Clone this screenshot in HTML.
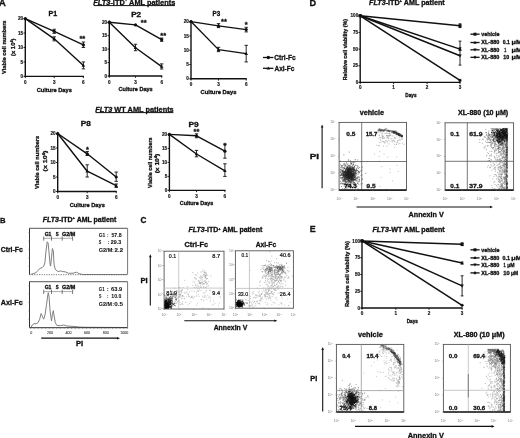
<!DOCTYPE html>
<html><head><meta charset="utf-8"><style>
html,body{margin:0;padding:0;background:#fff;overflow:hidden;}
svg{display:block;font-family:"Liberation Sans",sans-serif;font-weight:bold;filter:blur(0.3px);}
</style></head><body>
<svg width="520" height="438" viewBox="0 0 520 438" xmlns="http://www.w3.org/2000/svg">
<rect x="0" y="0" width="520" height="438" fill="#fff"/>
<text x="-1.15" y="5.60" font-size="9.0" fill="#111" stroke="#111" stroke-width="0.3" textLength="7.11" lengthAdjust="spacingAndGlyphs">A</text>
<text x="-0.00" y="223.00" font-size="7.8" fill="#111" stroke="#111" stroke-width="0.3" textLength="5.56" lengthAdjust="spacingAndGlyphs">B</text>
<text x="140.47" y="222.80" font-size="8.4" fill="#111" stroke="#111" stroke-width="0.3" textLength="5.95" lengthAdjust="spacingAndGlyphs">C</text>
<text x="309.41" y="6.00" font-size="9.0" fill="#111" stroke="#111" stroke-width="0.3" textLength="6.58" lengthAdjust="spacingAndGlyphs">D</text>
<text x="309.82" y="231.80" font-size="8.6" fill="#111" stroke="#111" stroke-width="0.3" textLength="5.90" lengthAdjust="spacingAndGlyphs">E</text>
<text x="93.33" y="4.60" font-size="7.6" fill="#111" stroke="#111" stroke-width="0.3" textLength="81.98" lengthAdjust="spacingAndGlyphs"><tspan font-style="italic">FLT3</tspan>-ITD<tspan font-size="4.56" dy="-3.19">+</tspan><tspan dy="3.19"> AML patients</tspan></text>
<line x1="93.80" y1="5.60" x2="175.00" y2="5.60" stroke="#111" stroke-width="1.0"/>
<text x="95.22" y="111.60" font-size="7.6" fill="#111" stroke="#111" stroke-width="0.3" textLength="78.49" lengthAdjust="spacingAndGlyphs"><tspan font-style="italic">FLT3</tspan> WT AML patients</text>
<line x1="95.70" y1="112.60" x2="173.40" y2="112.60" stroke="#111" stroke-width="1.0"/>
<text x="48.54" y="16.00" font-size="6.8" fill="#111" stroke="#111" stroke-width="0.3" textLength="8.66" lengthAdjust="spacingAndGlyphs">P1</text>
<text x="131.17" y="16.50" font-size="6.8" fill="#111" stroke="#111" stroke-width="0.3" textLength="9.98" lengthAdjust="spacingAndGlyphs">P2</text>
<text x="212.59" y="15.90" font-size="6.4" fill="#111" stroke="#111" stroke-width="0.3" textLength="7.65" lengthAdjust="spacingAndGlyphs">P3</text>
<text x="80.87" y="125.70" font-size="6.8" fill="#111" stroke="#111" stroke-width="0.3" textLength="10.00" lengthAdjust="spacingAndGlyphs">P8</text>
<text x="188.46" y="127.00" font-size="6.8" fill="#111" stroke="#111" stroke-width="0.3" textLength="10.16" lengthAdjust="spacingAndGlyphs">P9</text>
<line x1="25.30" y1="18.00" x2="25.30" y2="77.10" stroke="#111" stroke-width="1.4"/>
<line x1="24.70" y1="76.40" x2="84.00" y2="76.40" stroke="#111" stroke-width="1.4"/>
<line x1="23.50" y1="76.40" x2="25.30" y2="76.40" stroke="#111" stroke-width="0.9"/>
<text x="23.10" y="78.00" font-size="4.6" fill="#111" stroke="#111" stroke-width="0.15" text-anchor="end">0</text>
<line x1="23.50" y1="61.95" x2="25.30" y2="61.95" stroke="#111" stroke-width="0.9"/>
<text x="23.10" y="63.55" font-size="4.6" fill="#111" stroke="#111" stroke-width="0.15" text-anchor="end">5</text>
<line x1="23.50" y1="47.50" x2="25.30" y2="47.50" stroke="#111" stroke-width="0.9"/>
<text x="23.10" y="49.10" font-size="4.6" fill="#111" stroke="#111" stroke-width="0.15" text-anchor="end">10</text>
<line x1="23.50" y1="33.05" x2="25.30" y2="33.05" stroke="#111" stroke-width="0.9"/>
<text x="23.10" y="34.65" font-size="4.6" fill="#111" stroke="#111" stroke-width="0.15" text-anchor="end">15</text>
<line x1="23.50" y1="18.60" x2="25.30" y2="18.60" stroke="#111" stroke-width="0.9"/>
<text x="23.10" y="20.20" font-size="4.6" fill="#111" stroke="#111" stroke-width="0.15" text-anchor="end">20</text>
<line x1="25.30" y1="76.40" x2="25.30" y2="78.20" stroke="#111" stroke-width="0.9"/>
<text x="25.30" y="84.00" font-size="4.6" fill="#111" stroke="#111" stroke-width="0.15" text-anchor="middle">0</text>
<line x1="54.20" y1="76.40" x2="54.20" y2="78.20" stroke="#111" stroke-width="0.9"/>
<text x="54.20" y="84.00" font-size="4.6" fill="#111" stroke="#111" stroke-width="0.15" text-anchor="middle">3</text>
<line x1="83.40" y1="76.40" x2="83.40" y2="78.20" stroke="#111" stroke-width="0.9"/>
<text x="83.40" y="84.00" font-size="4.6" fill="#111" stroke="#111" stroke-width="0.15" text-anchor="middle">6</text>
<polyline points="25.30,18.60 54.20,31.32 83.40,44.90" fill="none" stroke="#111" stroke-width="1.4" stroke-linejoin="round"/>
<circle cx="25.30" cy="18.60" r="1.60" fill="#111"/>
<line x1="54.20" y1="29.29" x2="54.20" y2="33.34" stroke="#111" stroke-width="0.9"/>
<line x1="52.50" y1="29.29" x2="55.90" y2="29.29" stroke="#111" stroke-width="0.9"/>
<line x1="52.50" y1="33.34" x2="55.90" y2="33.34" stroke="#111" stroke-width="0.9"/>
<circle cx="54.20" cy="31.32" r="1.60" fill="#111"/>
<line x1="83.40" y1="42.01" x2="83.40" y2="47.50" stroke="#111" stroke-width="0.9"/>
<line x1="81.70" y1="42.01" x2="85.10" y2="42.01" stroke="#111" stroke-width="0.9"/>
<line x1="81.70" y1="47.50" x2="85.10" y2="47.50" stroke="#111" stroke-width="0.9"/>
<circle cx="83.40" cy="44.90" r="1.60" fill="#111"/>
<polyline points="25.30,18.60 54.20,38.83 83.40,65.42" fill="none" stroke="#111" stroke-width="1.4" stroke-linejoin="round"/>
<path d="M25.30,16.68 L27.06,19.88 L23.54,19.88Z" fill="#111"/>
<line x1="54.20" y1="36.81" x2="54.20" y2="40.85" stroke="#111" stroke-width="0.9"/>
<line x1="52.50" y1="36.81" x2="55.90" y2="36.81" stroke="#111" stroke-width="0.9"/>
<line x1="52.50" y1="40.85" x2="55.90" y2="40.85" stroke="#111" stroke-width="0.9"/>
<path d="M54.20,36.91 L55.96,40.11 L52.44,40.11Z" fill="#111"/>
<line x1="83.40" y1="61.95" x2="83.40" y2="68.89" stroke="#111" stroke-width="0.9"/>
<line x1="81.70" y1="61.95" x2="85.10" y2="61.95" stroke="#111" stroke-width="0.9"/>
<line x1="81.70" y1="68.89" x2="85.10" y2="68.89" stroke="#111" stroke-width="0.9"/>
<path d="M83.40,63.50 L85.16,66.70 L81.64,66.70Z" fill="#111"/>
<text x="82.30" y="41.12" font-size="7.5" fill="#111" stroke="#111" stroke-width="0.3" text-anchor="middle">**</text>
<line x1="109.30" y1="21.60" x2="109.30" y2="76.70" stroke="#111" stroke-width="1.4"/>
<line x1="108.70" y1="76.00" x2="162.30" y2="76.00" stroke="#111" stroke-width="1.4"/>
<line x1="107.50" y1="76.00" x2="109.30" y2="76.00" stroke="#111" stroke-width="0.9"/>
<text x="107.10" y="77.60" font-size="4.6" fill="#111" stroke="#111" stroke-width="0.15" text-anchor="end">0</text>
<line x1="107.50" y1="62.55" x2="109.30" y2="62.55" stroke="#111" stroke-width="0.9"/>
<text x="107.10" y="64.15" font-size="4.6" fill="#111" stroke="#111" stroke-width="0.15" text-anchor="end">5</text>
<line x1="107.50" y1="49.10" x2="109.30" y2="49.10" stroke="#111" stroke-width="0.9"/>
<text x="107.10" y="50.70" font-size="4.6" fill="#111" stroke="#111" stroke-width="0.15" text-anchor="end">10</text>
<line x1="107.50" y1="35.65" x2="109.30" y2="35.65" stroke="#111" stroke-width="0.9"/>
<text x="107.10" y="37.25" font-size="4.6" fill="#111" stroke="#111" stroke-width="0.15" text-anchor="end">15</text>
<line x1="107.50" y1="22.20" x2="109.30" y2="22.20" stroke="#111" stroke-width="0.9"/>
<text x="107.10" y="23.80" font-size="4.6" fill="#111" stroke="#111" stroke-width="0.15" text-anchor="end">20</text>
<line x1="109.30" y1="76.00" x2="109.30" y2="77.80" stroke="#111" stroke-width="0.9"/>
<text x="109.30" y="83.60" font-size="4.6" fill="#111" stroke="#111" stroke-width="0.15" text-anchor="middle">0</text>
<line x1="135.50" y1="76.00" x2="135.50" y2="77.80" stroke="#111" stroke-width="0.9"/>
<text x="135.50" y="83.60" font-size="4.6" fill="#111" stroke="#111" stroke-width="0.15" text-anchor="middle">3</text>
<line x1="161.70" y1="76.00" x2="161.70" y2="77.80" stroke="#111" stroke-width="0.9"/>
<text x="161.70" y="83.60" font-size="4.6" fill="#111" stroke="#111" stroke-width="0.15" text-anchor="middle">6</text>
<polyline points="109.30,22.20 135.50,24.89 161.70,39.69" fill="none" stroke="#111" stroke-width="1.4" stroke-linejoin="round"/>
<circle cx="109.30" cy="22.20" r="1.60" fill="#111"/>
<circle cx="135.50" cy="24.89" r="1.60" fill="#111"/>
<line x1="161.70" y1="38.07" x2="161.70" y2="41.30" stroke="#111" stroke-width="0.9"/>
<line x1="160.00" y1="38.07" x2="163.40" y2="38.07" stroke="#111" stroke-width="0.9"/>
<line x1="160.00" y1="41.30" x2="163.40" y2="41.30" stroke="#111" stroke-width="0.9"/>
<circle cx="161.70" cy="39.69" r="1.60" fill="#111"/>
<polyline points="109.30,22.20 135.50,47.75 161.70,66.59" fill="none" stroke="#111" stroke-width="1.4" stroke-linejoin="round"/>
<path d="M109.30,20.28 L111.06,23.48 L107.54,23.48Z" fill="#111"/>
<line x1="135.50" y1="44.26" x2="135.50" y2="50.71" stroke="#111" stroke-width="0.9"/>
<line x1="133.80" y1="44.26" x2="137.20" y2="44.26" stroke="#111" stroke-width="0.9"/>
<line x1="133.80" y1="50.71" x2="137.20" y2="50.71" stroke="#111" stroke-width="0.9"/>
<path d="M135.50,45.83 L137.26,49.03 L133.74,49.03Z" fill="#111"/>
<line x1="161.70" y1="63.89" x2="161.70" y2="69.01" stroke="#111" stroke-width="0.9"/>
<line x1="160.00" y1="63.89" x2="163.40" y2="63.89" stroke="#111" stroke-width="0.9"/>
<line x1="160.00" y1="69.01" x2="163.40" y2="69.01" stroke="#111" stroke-width="0.9"/>
<path d="M161.70,64.67 L163.46,67.87 L159.94,67.87Z" fill="#111"/>
<text x="143.70" y="24.52" font-size="7.5" fill="#111" stroke="#111" stroke-width="0.3" text-anchor="middle">**</text>
<text x="163.20" y="38.12" font-size="7.5" fill="#111" stroke="#111" stroke-width="0.3" text-anchor="middle">**</text>
<line x1="191.00" y1="21.00" x2="191.00" y2="79.50" stroke="#111" stroke-width="1.4"/>
<line x1="190.40" y1="78.80" x2="246.80" y2="78.80" stroke="#111" stroke-width="1.4"/>
<line x1="189.20" y1="78.80" x2="191.00" y2="78.80" stroke="#111" stroke-width="0.9"/>
<text x="188.80" y="80.40" font-size="4.6" fill="#111" stroke="#111" stroke-width="0.15" text-anchor="end">0</text>
<line x1="189.20" y1="64.50" x2="191.00" y2="64.50" stroke="#111" stroke-width="0.9"/>
<text x="188.80" y="66.10" font-size="4.6" fill="#111" stroke="#111" stroke-width="0.15" text-anchor="end">5</text>
<line x1="189.20" y1="50.20" x2="191.00" y2="50.20" stroke="#111" stroke-width="0.9"/>
<text x="188.80" y="51.80" font-size="4.6" fill="#111" stroke="#111" stroke-width="0.15" text-anchor="end">10</text>
<line x1="189.20" y1="35.90" x2="191.00" y2="35.90" stroke="#111" stroke-width="0.9"/>
<text x="188.80" y="37.50" font-size="4.6" fill="#111" stroke="#111" stroke-width="0.15" text-anchor="end">15</text>
<line x1="189.20" y1="21.60" x2="191.00" y2="21.60" stroke="#111" stroke-width="0.9"/>
<text x="188.80" y="23.20" font-size="4.6" fill="#111" stroke="#111" stroke-width="0.15" text-anchor="end">20</text>
<line x1="191.00" y1="78.80" x2="191.00" y2="80.60" stroke="#111" stroke-width="0.9"/>
<text x="191.00" y="86.40" font-size="4.6" fill="#111" stroke="#111" stroke-width="0.15" text-anchor="middle">0</text>
<line x1="218.50" y1="78.80" x2="218.50" y2="80.60" stroke="#111" stroke-width="0.9"/>
<text x="218.50" y="86.40" font-size="4.6" fill="#111" stroke="#111" stroke-width="0.15" text-anchor="middle">3</text>
<line x1="246.20" y1="78.80" x2="246.20" y2="80.60" stroke="#111" stroke-width="0.9"/>
<text x="246.20" y="86.40" font-size="4.6" fill="#111" stroke="#111" stroke-width="0.15" text-anchor="middle">6</text>
<polyline points="191.00,21.60 218.50,25.89 246.20,29.61" fill="none" stroke="#111" stroke-width="1.4" stroke-linejoin="round"/>
<circle cx="191.00" cy="21.60" r="1.60" fill="#111"/>
<line x1="218.50" y1="23.60" x2="218.50" y2="27.61" stroke="#111" stroke-width="0.9"/>
<line x1="216.80" y1="23.60" x2="220.20" y2="23.60" stroke="#111" stroke-width="0.9"/>
<line x1="216.80" y1="27.61" x2="220.20" y2="27.61" stroke="#111" stroke-width="0.9"/>
<circle cx="218.50" cy="25.89" r="1.60" fill="#111"/>
<line x1="246.20" y1="27.32" x2="246.20" y2="31.90" stroke="#111" stroke-width="0.9"/>
<line x1="244.50" y1="27.32" x2="247.90" y2="27.32" stroke="#111" stroke-width="0.9"/>
<line x1="244.50" y1="31.90" x2="247.90" y2="31.90" stroke="#111" stroke-width="0.9"/>
<circle cx="246.20" cy="29.61" r="1.60" fill="#111"/>
<polyline points="191.00,21.60 218.50,49.63 246.20,53.63" fill="none" stroke="#111" stroke-width="1.4" stroke-linejoin="round"/>
<path d="M191.00,19.68 L192.76,22.88 L189.24,22.88Z" fill="#111"/>
<line x1="218.50" y1="47.34" x2="218.50" y2="51.63" stroke="#111" stroke-width="0.9"/>
<line x1="216.80" y1="47.34" x2="220.20" y2="47.34" stroke="#111" stroke-width="0.9"/>
<line x1="216.80" y1="51.63" x2="220.20" y2="51.63" stroke="#111" stroke-width="0.9"/>
<path d="M218.50,47.71 L220.26,50.91 L216.74,50.91Z" fill="#111"/>
<line x1="246.20" y1="45.34" x2="246.20" y2="61.93" stroke="#111" stroke-width="0.9"/>
<line x1="244.50" y1="45.34" x2="247.90" y2="45.34" stroke="#111" stroke-width="0.9"/>
<line x1="244.50" y1="61.93" x2="247.90" y2="61.93" stroke="#111" stroke-width="0.9"/>
<path d="M246.20,51.71 L247.96,54.91 L244.44,54.91Z" fill="#111"/>
<text x="224.00" y="23.52" font-size="7.5" fill="#111" stroke="#111" stroke-width="0.3" text-anchor="middle">**</text>
<text x="246.20" y="27.02" font-size="7.5" fill="#111" stroke="#111" stroke-width="0.3" text-anchor="middle">*</text>
<line x1="57.70" y1="132.90" x2="57.70" y2="192.20" stroke="#111" stroke-width="1.4"/>
<line x1="57.10" y1="191.50" x2="116.80" y2="191.50" stroke="#111" stroke-width="1.4"/>
<line x1="55.90" y1="191.50" x2="57.70" y2="191.50" stroke="#111" stroke-width="0.9"/>
<text x="55.50" y="193.10" font-size="4.6" fill="#111" stroke="#111" stroke-width="0.15" text-anchor="end">0</text>
<line x1="55.90" y1="177.00" x2="57.70" y2="177.00" stroke="#111" stroke-width="0.9"/>
<text x="55.50" y="178.60" font-size="4.6" fill="#111" stroke="#111" stroke-width="0.15" text-anchor="end">5</text>
<line x1="55.90" y1="162.50" x2="57.70" y2="162.50" stroke="#111" stroke-width="0.9"/>
<text x="55.50" y="164.10" font-size="4.6" fill="#111" stroke="#111" stroke-width="0.15" text-anchor="end">10</text>
<line x1="55.90" y1="148.00" x2="57.70" y2="148.00" stroke="#111" stroke-width="0.9"/>
<text x="55.50" y="149.60" font-size="4.6" fill="#111" stroke="#111" stroke-width="0.15" text-anchor="end">15</text>
<line x1="55.90" y1="133.50" x2="57.70" y2="133.50" stroke="#111" stroke-width="0.9"/>
<text x="55.50" y="135.10" font-size="4.6" fill="#111" stroke="#111" stroke-width="0.15" text-anchor="end">20</text>
<line x1="57.70" y1="191.50" x2="57.70" y2="193.30" stroke="#111" stroke-width="0.9"/>
<text x="57.70" y="199.10" font-size="4.6" fill="#111" stroke="#111" stroke-width="0.15" text-anchor="middle">0</text>
<line x1="87.20" y1="191.50" x2="87.20" y2="193.30" stroke="#111" stroke-width="0.9"/>
<text x="87.20" y="199.10" font-size="4.6" fill="#111" stroke="#111" stroke-width="0.15" text-anchor="middle">3</text>
<line x1="116.20" y1="191.50" x2="116.20" y2="193.30" stroke="#111" stroke-width="0.9"/>
<text x="116.20" y="199.10" font-size="4.6" fill="#111" stroke="#111" stroke-width="0.15" text-anchor="middle">6</text>
<polyline points="57.70,133.50 87.20,153.80 116.20,177.00" fill="none" stroke="#111" stroke-width="1.4" stroke-linejoin="round"/>
<circle cx="57.70" cy="133.50" r="1.60" fill="#111"/>
<line x1="87.20" y1="151.48" x2="87.20" y2="155.54" stroke="#111" stroke-width="0.9"/>
<line x1="85.50" y1="151.48" x2="88.90" y2="151.48" stroke="#111" stroke-width="0.9"/>
<line x1="85.50" y1="155.54" x2="88.90" y2="155.54" stroke="#111" stroke-width="0.9"/>
<circle cx="87.20" cy="153.80" r="1.60" fill="#111"/>
<line x1="116.20" y1="172.07" x2="116.20" y2="181.35" stroke="#111" stroke-width="0.9"/>
<line x1="114.50" y1="172.07" x2="117.90" y2="172.07" stroke="#111" stroke-width="0.9"/>
<line x1="114.50" y1="181.35" x2="117.90" y2="181.35" stroke="#111" stroke-width="0.9"/>
<circle cx="116.20" cy="177.00" r="1.60" fill="#111"/>
<polyline points="57.70,133.50 87.20,171.20 116.20,185.70" fill="none" stroke="#111" stroke-width="1.4" stroke-linejoin="round"/>
<path d="M57.70,131.58 L59.46,134.78 L55.94,134.78Z" fill="#111"/>
<line x1="87.20" y1="164.82" x2="87.20" y2="177.00" stroke="#111" stroke-width="0.9"/>
<line x1="85.50" y1="164.82" x2="88.90" y2="164.82" stroke="#111" stroke-width="0.9"/>
<line x1="85.50" y1="177.00" x2="88.90" y2="177.00" stroke="#111" stroke-width="0.9"/>
<path d="M87.20,169.28 L88.96,172.48 L85.44,172.48Z" fill="#111"/>
<line x1="116.20" y1="183.96" x2="116.20" y2="187.44" stroke="#111" stroke-width="0.9"/>
<line x1="114.50" y1="183.96" x2="117.90" y2="183.96" stroke="#111" stroke-width="0.9"/>
<line x1="114.50" y1="187.44" x2="117.90" y2="187.44" stroke="#111" stroke-width="0.9"/>
<path d="M116.20,183.78 L117.96,186.98 L114.44,186.98Z" fill="#111"/>
<text x="87.50" y="151.52" font-size="7.5" fill="#111" stroke="#111" stroke-width="0.3" text-anchor="middle">*</text>
<line x1="169.40" y1="133.80" x2="169.40" y2="191.10" stroke="#111" stroke-width="1.4"/>
<line x1="168.80" y1="190.40" x2="225.50" y2="190.40" stroke="#111" stroke-width="1.4"/>
<line x1="167.60" y1="190.40" x2="169.40" y2="190.40" stroke="#111" stroke-width="0.9"/>
<text x="167.20" y="192.00" font-size="4.6" fill="#111" stroke="#111" stroke-width="0.15" text-anchor="end">0</text>
<line x1="167.60" y1="176.40" x2="169.40" y2="176.40" stroke="#111" stroke-width="0.9"/>
<text x="167.20" y="178.00" font-size="4.6" fill="#111" stroke="#111" stroke-width="0.15" text-anchor="end">5</text>
<line x1="167.60" y1="162.40" x2="169.40" y2="162.40" stroke="#111" stroke-width="0.9"/>
<text x="167.20" y="164.00" font-size="4.6" fill="#111" stroke="#111" stroke-width="0.15" text-anchor="end">10</text>
<line x1="167.60" y1="148.40" x2="169.40" y2="148.40" stroke="#111" stroke-width="0.9"/>
<text x="167.20" y="150.00" font-size="4.6" fill="#111" stroke="#111" stroke-width="0.15" text-anchor="end">15</text>
<line x1="167.60" y1="134.40" x2="169.40" y2="134.40" stroke="#111" stroke-width="0.9"/>
<text x="167.20" y="136.00" font-size="4.6" fill="#111" stroke="#111" stroke-width="0.15" text-anchor="end">20</text>
<line x1="169.40" y1="190.40" x2="169.40" y2="192.20" stroke="#111" stroke-width="0.9"/>
<text x="169.40" y="198.00" font-size="4.6" fill="#111" stroke="#111" stroke-width="0.15" text-anchor="middle">0</text>
<line x1="196.50" y1="190.40" x2="196.50" y2="192.20" stroke="#111" stroke-width="0.9"/>
<text x="196.50" y="198.00" font-size="4.6" fill="#111" stroke="#111" stroke-width="0.15" text-anchor="middle">3</text>
<line x1="224.90" y1="190.40" x2="224.90" y2="192.20" stroke="#111" stroke-width="0.9"/>
<text x="224.90" y="198.00" font-size="4.6" fill="#111" stroke="#111" stroke-width="0.15" text-anchor="middle">6</text>
<polyline points="169.40,134.40 196.50,135.80 224.90,151.20" fill="none" stroke="#111" stroke-width="1.4" stroke-linejoin="round"/>
<circle cx="169.40" cy="134.40" r="1.60" fill="#111"/>
<line x1="196.50" y1="133.84" x2="196.50" y2="137.76" stroke="#111" stroke-width="0.9"/>
<line x1="194.80" y1="133.84" x2="198.20" y2="133.84" stroke="#111" stroke-width="0.9"/>
<line x1="194.80" y1="137.76" x2="198.20" y2="137.76" stroke="#111" stroke-width="0.9"/>
<circle cx="196.50" cy="135.80" r="1.60" fill="#111"/>
<line x1="224.90" y1="144.20" x2="224.90" y2="158.20" stroke="#111" stroke-width="0.9"/>
<line x1="223.20" y1="144.20" x2="226.60" y2="144.20" stroke="#111" stroke-width="0.9"/>
<line x1="223.20" y1="158.20" x2="226.60" y2="158.20" stroke="#111" stroke-width="0.9"/>
<circle cx="224.90" cy="151.20" r="1.60" fill="#111"/>
<polyline points="169.40,134.40 196.50,154.00 224.90,170.80" fill="none" stroke="#111" stroke-width="1.4" stroke-linejoin="round"/>
<path d="M169.40,132.48 L171.16,135.68 L167.64,135.68Z" fill="#111"/>
<line x1="196.50" y1="150.36" x2="196.50" y2="156.80" stroke="#111" stroke-width="0.9"/>
<line x1="194.80" y1="150.36" x2="198.20" y2="150.36" stroke="#111" stroke-width="0.9"/>
<line x1="194.80" y1="156.80" x2="198.20" y2="156.80" stroke="#111" stroke-width="0.9"/>
<path d="M196.50,152.08 L198.26,155.28 L194.74,155.28Z" fill="#111"/>
<line x1="224.90" y1="163.80" x2="224.90" y2="176.40" stroke="#111" stroke-width="0.9"/>
<line x1="223.20" y1="163.80" x2="226.60" y2="163.80" stroke="#111" stroke-width="0.9"/>
<line x1="223.20" y1="176.40" x2="226.60" y2="176.40" stroke="#111" stroke-width="0.9"/>
<path d="M224.90,168.88 L226.66,172.08 L223.14,172.08Z" fill="#111"/>
<text x="196.50" y="133.82" font-size="7.5" fill="#111" stroke="#111" stroke-width="0.3" text-anchor="middle">**</text>
<text x="225.00" y="147.82" font-size="7.5" fill="#111" stroke="#111" stroke-width="0.3" text-anchor="middle">*</text>
<text x="36.67" y="91.70" font-size="5.6" fill="#111" stroke="#111" stroke-width="0.3" textLength="35.18" lengthAdjust="spacingAndGlyphs">Culture Days</text>
<text x="118.58" y="91.40" font-size="5.6" fill="#111" stroke="#111" stroke-width="0.3" textLength="34.06" lengthAdjust="spacingAndGlyphs">Culture Days</text>
<text x="200.57" y="94.40" font-size="5.6" fill="#111" stroke="#111" stroke-width="0.3" textLength="35.89" lengthAdjust="spacingAndGlyphs">Culture Days</text>
<text x="69.77" y="206.60" font-size="5.6" fill="#111" stroke="#111" stroke-width="0.3" textLength="35.08" lengthAdjust="spacingAndGlyphs">Culture Days</text>
<text x="179.78" y="205.20" font-size="5.6" fill="#111" stroke="#111" stroke-width="0.3" textLength="33.45" lengthAdjust="spacingAndGlyphs">Culture Days</text>
<text transform="translate(6.00,74.00) rotate(-90)" x="-0.03" font-size="5.8" fill="#111" stroke="#111" stroke-width="0.3" textLength="53.55" lengthAdjust="spacingAndGlyphs">Viable cell numbers</text>
<text transform="translate(15.00,55.70) rotate(-90)" x="-0.33" font-size="5.8" fill="#111" stroke="#111" stroke-width="0.3" textLength="17.45" lengthAdjust="spacingAndGlyphs">(x 10<tspan font-size="3.6" dy="-2">4</tspan><tspan dy="2">)</tspan></text>
<text transform="translate(39.00,189.00) rotate(-90)" x="-0.03" font-size="5.8" fill="#111" stroke="#111" stroke-width="0.3" textLength="53.25" lengthAdjust="spacingAndGlyphs">Viable cell numbers</text>
<text transform="translate(47.30,171.00) rotate(-90)" x="-0.40" font-size="5.8" fill="#111" stroke="#111" stroke-width="0.3" textLength="20.77" lengthAdjust="spacingAndGlyphs">(x 10<tspan font-size="3.6" dy="-2">4</tspan><tspan dy="2">)</tspan></text>
<text transform="translate(151.80,188.00) rotate(-90)" x="-0.03" font-size="5.8" fill="#111" stroke="#111" stroke-width="0.3" textLength="50.54" lengthAdjust="spacingAndGlyphs">Viable cell numbers</text>
<text transform="translate(159.40,173.00) rotate(-90)" x="-0.38" font-size="5.8" fill="#111" stroke="#111" stroke-width="0.3" textLength="19.74" lengthAdjust="spacingAndGlyphs">(x 10<tspan font-size="3.6" dy="-2">4</tspan><tspan dy="2">)</tspan></text>
<line x1="263.00" y1="57.50" x2="273.40" y2="57.50" stroke="#111" stroke-width="1.3"/>
<circle cx="268.30" cy="57.50" r="1.70" fill="#111"/>
<text x="274.34" y="60.30" font-size="7.0" fill="#111" stroke="#111" stroke-width="0.3" textLength="21.28" lengthAdjust="spacingAndGlyphs">Ctrl-Fc</text>
<line x1="263.00" y1="68.30" x2="273.40" y2="68.30" stroke="#111" stroke-width="1.3"/>
<path d="M268.30,66.38 L270.06,69.58 L266.54,69.58Z" fill="#111"/>
<text x="274.44" y="71.00" font-size="7.0" fill="#111" stroke="#111" stroke-width="0.3" textLength="19.97" lengthAdjust="spacingAndGlyphs">Axl-Fc</text>
<text x="42.86" y="221.80" font-size="6.6" fill="#111" stroke="#111" stroke-width="0.3" textLength="73.52" lengthAdjust="spacingAndGlyphs"><tspan font-style="italic">FLT3</tspan>-ITD<tspan font-size="3.96" dy="-2.77">+</tspan><tspan dy="2.77"> AML patient</tspan></text>
<text x="0.73" y="252.00" font-size="7.4" fill="#111" stroke="#111" stroke-width="0.3" textLength="22.10" lengthAdjust="spacingAndGlyphs">Ctrl-Fc</text>
<text x="0.82" y="305.20" font-size="7.4" fill="#111" stroke="#111" stroke-width="0.3" textLength="21.90" lengthAdjust="spacingAndGlyphs">Axl-Fc</text>
<line x1="29.20" y1="228.30" x2="127.60" y2="228.30" stroke="#777" stroke-width="1.3"/>
<line x1="127.60" y1="228.30" x2="127.60" y2="274.70" stroke="#777" stroke-width="1.0"/>
<line x1="29.50" y1="228.30" x2="29.50" y2="274.70" stroke="#333" stroke-width="1.0"/>
<line x1="28.30" y1="266.26" x2="29.50" y2="266.26" stroke="#666" stroke-width="0.5"/>
<line x1="28.30" y1="257.83" x2="29.50" y2="257.83" stroke="#666" stroke-width="0.5"/>
<line x1="28.30" y1="249.39" x2="29.50" y2="249.39" stroke="#666" stroke-width="0.5"/>
<line x1="28.30" y1="240.95" x2="29.50" y2="240.95" stroke="#666" stroke-width="0.5"/>
<line x1="28.30" y1="232.52" x2="29.50" y2="232.52" stroke="#666" stroke-width="0.5"/>
<polyline points="31.00,274.10 33.90,273.60 36.20,272.40 38.50,270.10 40.30,268.10 42.00,267.80 43.70,266.10 44.90,262.60 46.00,251.00 47.20,241.80 48.10,243.00 48.90,251.00 50.10,264.90 50.60,266.10 51.60,256.80 52.40,248.50 53.30,251.00 54.10,264.90 55.30,269.50 58.10,271.60 60.50,270.90 62.80,271.60 65.10,271.80 68.50,273.30 73.10,273.20 76.60,272.20 78.90,273.60 82.40,274.50 127.00,274.60" fill="none" stroke="#808080" stroke-width="1.0" stroke-linejoin="round"/>
<line x1="43.70" y1="238.30" x2="72.60" y2="238.30" stroke="#888" stroke-width="0.7"/>
<line x1="43.70" y1="236.40" x2="43.70" y2="240.70" stroke="#444" stroke-width="0.7"/>
<line x1="51.50" y1="236.40" x2="51.50" y2="240.70" stroke="#444" stroke-width="0.7"/>
<line x1="62.20" y1="236.40" x2="62.20" y2="240.70" stroke="#444" stroke-width="0.7"/>
<line x1="72.60" y1="236.40" x2="72.60" y2="240.70" stroke="#444" stroke-width="0.7"/>
<text x="44.70" y="235.60" font-size="4.6" fill="#111" stroke="#111" stroke-width="0.3" textLength="6.62" lengthAdjust="spacingAndGlyphs">G1</text>
<text x="55.67" y="235.60" font-size="4.6" fill="#111" stroke="#111" stroke-width="0.3" textLength="2.89" lengthAdjust="spacingAndGlyphs">S</text>
<text x="61.98" y="235.60" font-size="4.6" fill="#111" stroke="#111" stroke-width="0.3" textLength="13.30" lengthAdjust="spacingAndGlyphs">G2/M</text>
<text x="98.70" y="236.50" font-size="5.6" fill="#111" stroke="#111" stroke-width="0.05" textLength="6.62" lengthAdjust="spacingAndGlyphs">G1</text>
<text x="106.67" y="236.50" font-size="5.4" fill="#444" textLength="2.02" lengthAdjust="spacingAndGlyphs">:</text>
<text x="111.44" y="236.50" font-size="5.6" fill="#111" stroke="#111" stroke-width="0.05" textLength="10.12" lengthAdjust="spacingAndGlyphs">57.8</text>
<text x="98.79" y="243.70" font-size="5.6" fill="#111" stroke="#111" stroke-width="0.05" textLength="2.56" lengthAdjust="spacingAndGlyphs">S</text>
<text x="107.49" y="243.70" font-size="5.4" fill="#444" textLength="2.14" lengthAdjust="spacingAndGlyphs">:</text>
<text x="110.81" y="243.70" font-size="5.6" fill="#111" stroke="#111" stroke-width="0.05" textLength="10.48" lengthAdjust="spacingAndGlyphs">29.3</text>
<text x="98.68" y="251.80" font-size="5.6" fill="#111" stroke="#111" stroke-width="0.05" textLength="13.61" lengthAdjust="spacingAndGlyphs">G2/M</text>
<text x="111.79" y="251.80" font-size="5.4" fill="#444" textLength="2.14" lengthAdjust="spacingAndGlyphs">:</text>
<text x="114.59" y="251.80" font-size="5.6" fill="#111" stroke="#111" stroke-width="0.05" textLength="8.46" lengthAdjust="spacingAndGlyphs">2.2</text>
<line x1="29.20" y1="281.60" x2="127.60" y2="281.60" stroke="#777" stroke-width="1.3"/>
<line x1="127.60" y1="281.60" x2="127.60" y2="327.60" stroke="#777" stroke-width="1.0"/>
<line x1="29.50" y1="281.60" x2="29.50" y2="327.60" stroke="#333" stroke-width="1.0"/>
<line x1="28.30" y1="319.24" x2="29.50" y2="319.24" stroke="#666" stroke-width="0.5"/>
<line x1="28.30" y1="310.87" x2="29.50" y2="310.87" stroke="#666" stroke-width="0.5"/>
<line x1="28.30" y1="302.51" x2="29.50" y2="302.51" stroke="#666" stroke-width="0.5"/>
<line x1="28.30" y1="294.15" x2="29.50" y2="294.15" stroke="#666" stroke-width="0.5"/>
<line x1="28.30" y1="285.78" x2="29.50" y2="285.78" stroke="#666" stroke-width="0.5"/>
<polyline points="31.00,327.30 32.20,325.00 33.90,323.80 36.20,323.60 38.00,322.70 39.70,319.20 41.10,313.50 42.60,316.90 43.70,319.20 45.20,314.00 46.60,304.20 47.80,295.00 48.30,292.70 49.10,297.30 50.10,311.10 51.50,321.00 52.40,314.60 53.30,310.60 54.10,315.80 55.30,322.70 57.00,325.60 60.50,325.60 63.90,325.00 66.20,325.90 73.10,326.40 80.10,327.10 87.00,327.30 127.00,327.50" fill="none" stroke="#808080" stroke-width="1.0" stroke-linejoin="round"/>
<line x1="43.70" y1="291.60" x2="72.60" y2="291.60" stroke="#888" stroke-width="0.7"/>
<line x1="43.70" y1="289.70" x2="43.70" y2="294.00" stroke="#444" stroke-width="0.7"/>
<line x1="51.50" y1="289.70" x2="51.50" y2="294.00" stroke="#444" stroke-width="0.7"/>
<line x1="62.20" y1="289.70" x2="62.20" y2="294.00" stroke="#444" stroke-width="0.7"/>
<line x1="72.60" y1="289.70" x2="72.60" y2="294.00" stroke="#444" stroke-width="0.7"/>
<text x="44.70" y="288.90" font-size="4.6" fill="#111" stroke="#111" stroke-width="0.3" textLength="6.62" lengthAdjust="spacingAndGlyphs">G1</text>
<text x="55.67" y="288.90" font-size="4.6" fill="#111" stroke="#111" stroke-width="0.3" textLength="2.89" lengthAdjust="spacingAndGlyphs">S</text>
<text x="61.98" y="288.90" font-size="4.6" fill="#111" stroke="#111" stroke-width="0.3" textLength="13.30" lengthAdjust="spacingAndGlyphs">G2/M</text>
<text x="98.82" y="290.80" font-size="5.6" fill="#111" stroke="#111" stroke-width="0.05" textLength="5.88" lengthAdjust="spacingAndGlyphs">G1</text>
<text x="106.39" y="290.80" font-size="5.4" fill="#444" textLength="2.85" lengthAdjust="spacingAndGlyphs">:</text>
<text x="111.00" y="290.80" font-size="5.6" fill="#111" stroke="#111" stroke-width="0.05" textLength="11.21" lengthAdjust="spacingAndGlyphs">63.9</text>
<text x="98.89" y="298.40" font-size="5.6" fill="#111" stroke="#111" stroke-width="0.05" textLength="2.45" lengthAdjust="spacingAndGlyphs">S</text>
<text x="106.86" y="298.40" font-size="5.4" fill="#444" textLength="1.90" lengthAdjust="spacingAndGlyphs">:</text>
<text x="111.29" y="298.40" font-size="5.6" fill="#111" stroke="#111" stroke-width="0.05" textLength="10.13" lengthAdjust="spacingAndGlyphs">10.0</text>
<text x="98.78" y="306.00" font-size="5.6" fill="#111" stroke="#111" stroke-width="0.05" textLength="13.19" lengthAdjust="spacingAndGlyphs">G2/M</text>
<text x="112.26" y="306.00" font-size="5.4" fill="#444" textLength="1.90" lengthAdjust="spacingAndGlyphs">:</text>
<text x="114.15" y="306.00" font-size="5.6" fill="#111" stroke="#111" stroke-width="0.05" textLength="8.81" lengthAdjust="spacingAndGlyphs">0.5</text>
<line x1="29.5" y1="274.7" x2="127.6" y2="274.7" stroke="#555" stroke-width="0.8" stroke-dasharray="1.2,1.2"/>
<line x1="29.50" y1="327.70" x2="127.60" y2="327.70" stroke="#333" stroke-width="1.0"/>
<line x1="30.70" y1="327.70" x2="30.70" y2="329.00" stroke="#666" stroke-width="0.5"/>
<line x1="34.42" y1="327.70" x2="34.42" y2="329.00" stroke="#666" stroke-width="0.5"/>
<line x1="38.14" y1="327.70" x2="38.14" y2="329.00" stroke="#666" stroke-width="0.5"/>
<line x1="41.86" y1="327.70" x2="41.86" y2="329.00" stroke="#666" stroke-width="0.5"/>
<line x1="45.58" y1="327.70" x2="45.58" y2="329.00" stroke="#666" stroke-width="0.5"/>
<line x1="49.30" y1="327.70" x2="49.30" y2="329.00" stroke="#666" stroke-width="0.5"/>
<line x1="53.02" y1="327.70" x2="53.02" y2="329.00" stroke="#666" stroke-width="0.5"/>
<line x1="56.74" y1="327.70" x2="56.74" y2="329.00" stroke="#666" stroke-width="0.5"/>
<line x1="60.46" y1="327.70" x2="60.46" y2="329.00" stroke="#666" stroke-width="0.5"/>
<line x1="64.18" y1="327.70" x2="64.18" y2="329.00" stroke="#666" stroke-width="0.5"/>
<line x1="67.90" y1="327.70" x2="67.90" y2="329.00" stroke="#666" stroke-width="0.5"/>
<line x1="71.62" y1="327.70" x2="71.62" y2="329.00" stroke="#666" stroke-width="0.5"/>
<line x1="75.34" y1="327.70" x2="75.34" y2="329.00" stroke="#666" stroke-width="0.5"/>
<line x1="79.06" y1="327.70" x2="79.06" y2="329.00" stroke="#666" stroke-width="0.5"/>
<line x1="82.78" y1="327.70" x2="82.78" y2="329.00" stroke="#666" stroke-width="0.5"/>
<line x1="86.50" y1="327.70" x2="86.50" y2="329.00" stroke="#666" stroke-width="0.5"/>
<line x1="90.22" y1="327.70" x2="90.22" y2="329.00" stroke="#666" stroke-width="0.5"/>
<line x1="93.94" y1="327.70" x2="93.94" y2="329.00" stroke="#666" stroke-width="0.5"/>
<line x1="97.66" y1="327.70" x2="97.66" y2="329.00" stroke="#666" stroke-width="0.5"/>
<line x1="101.38" y1="327.70" x2="101.38" y2="329.00" stroke="#666" stroke-width="0.5"/>
<line x1="105.10" y1="327.70" x2="105.10" y2="329.00" stroke="#666" stroke-width="0.5"/>
<line x1="108.82" y1="327.70" x2="108.82" y2="329.00" stroke="#666" stroke-width="0.5"/>
<line x1="112.54" y1="327.70" x2="112.54" y2="329.00" stroke="#666" stroke-width="0.5"/>
<line x1="116.26" y1="327.70" x2="116.26" y2="329.00" stroke="#666" stroke-width="0.5"/>
<line x1="119.98" y1="327.70" x2="119.98" y2="329.00" stroke="#666" stroke-width="0.5"/>
<line x1="123.70" y1="327.70" x2="123.70" y2="329.00" stroke="#666" stroke-width="0.5"/>
<line x1="127.42" y1="327.70" x2="127.42" y2="329.00" stroke="#666" stroke-width="0.5"/>
<text x="31.30" y="333.80" font-size="3.6" font-weight="normal" fill="#444" stroke="#444" stroke-width="0.1" text-anchor="middle">0</text>
<text x="49.90" y="333.80" font-size="3.6" font-weight="normal" fill="#444" stroke="#444" stroke-width="0.1" text-anchor="middle">200</text>
<text x="68.50" y="333.80" font-size="3.6" font-weight="normal" fill="#444" stroke="#444" stroke-width="0.1" text-anchor="middle">400</text>
<text x="87.10" y="333.80" font-size="3.6" font-weight="normal" fill="#444" stroke="#444" stroke-width="0.1" text-anchor="middle">600</text>
<text x="105.70" y="333.80" font-size="3.6" font-weight="normal" fill="#444" stroke="#444" stroke-width="0.1" text-anchor="middle">800</text>
<text x="124.30" y="333.80" font-size="3.6" font-weight="normal" fill="#444" stroke="#444" stroke-width="0.1" text-anchor="middle">1000</text>
<line x1="41.20" y1="338.20" x2="117.50" y2="338.20" stroke="#111" stroke-width="1.3"/>
<path d="M120.00,338.20 L117.00,336.90 L117.00,339.50Z" fill="#111"/>
<text x="76.01" y="346.30" font-size="6.6" fill="#111" stroke="#111" stroke-width="0.3" textLength="7.12" lengthAdjust="spacingAndGlyphs">PI</text>
<text x="188.56" y="232.30" font-size="6.6" fill="#111" stroke="#111" stroke-width="0.3" textLength="73.73" lengthAdjust="spacingAndGlyphs"><tspan font-style="italic">FLT3</tspan>-ITD<tspan font-size="3.96" dy="-2.77">+</tspan><tspan dy="2.77"> AML patient</tspan></text>
<text x="184.51" y="246.60" font-size="7.0" fill="#111" stroke="#111" stroke-width="0.3" textLength="23.43" lengthAdjust="spacingAndGlyphs">Ctrl-Fc</text>
<text x="255.63" y="246.60" font-size="7.0" fill="#111" stroke="#111" stroke-width="0.3" textLength="20.58" lengthAdjust="spacingAndGlyphs">Axl-Fc</text>
<text x="140.50" y="283.00" font-size="7.0" fill="#111" stroke="#111" stroke-width="0.3" textLength="7.23" lengthAdjust="spacingAndGlyphs">PI</text>
<line x1="150.30" y1="305.60" x2="150.30" y2="256.70" stroke="#111" stroke-width="1.1"/>
<path d="M150.30,254.20 L149.00,257.20 L151.60,257.20Z" fill="#111"/>
<line x1="184.30" y1="320.70" x2="274.80" y2="320.70" stroke="#111" stroke-width="1.1"/>
<path d="M277.30,320.70 L274.30,319.40 L274.30,322.00Z" fill="#111"/>
<text x="213.63" y="330.00" font-size="7.2" fill="#111" stroke="#111" stroke-width="0.3" textLength="33.71" lengthAdjust="spacingAndGlyphs">Annexin V</text>
<path d="M175.6 298.0h0M171.8 294.7h0M170.7 294.8h0M177.9 301.5h0M171.2 296.2h0M178.3 296.8h0M173.8 293.4h0M176.2 299.5h0M167.0 299.3h0M164.9 301.5h0M168.8 301.6h0M175.5 295.9h0M175.0 297.5h0M166.0 299.7h0M168.3 297.0h0M179.0 291.1h0M176.5 300.2h0M171.7 298.3h0M175.7 296.9h0M168.7 300.8h0M179.2 287.7h0M179.8 294.9h0M175.5 305.9h0M176.7 290.6h0M176.5 298.8h0M175.3 299.9h0M175.9 299.5h0M181.3 290.5h0M175.2 294.8h0M173.4 292.5h0M171.6 298.0h0M181.9 298.4h0M166.5 298.0h0M174.6 288.1h0M172.4 298.0h0M182.9 295.8h0M172.6 296.6h0M176.6 303.1h0M172.2 297.2h0M176.6 295.6h0M171.8 293.7h0M174.1 295.5h0M182.4 295.9h0M176.2 299.4h0M175.2 301.7h0M176.1 299.1h0M168.9 301.9h0M171.7 294.7h0M180.2 304.4h0M169.4 297.2h0M177.0 298.1h0M173.7 296.8h0M179.7 296.8h0M169.4 299.7h0M173.2 293.2h0M174.7 293.2h0M180.5 294.9h0M174.3 294.7h0M170.5 290.3h0M169.7 301.5h0M165.4 306.1h0M167.3 304.7h0M172.0 302.2h0M172.7 291.2h0M184.3 298.5h0M174.1 296.2h0M172.3 294.0h0M179.7 291.9h0M173.2 294.4h0M169.3 294.3h0M181.3 292.8h0M180.1 294.3h0M170.7 297.9h0M172.1 298.6h0M172.4 297.0h0M166.2 298.1h0M182.4 289.9h0M170.1 301.2h0M179.6 287.8h0M172.7 295.4h0M167.1 304.6h0M175.0 297.3h0M171.9 300.8h0M171.9 298.0h0M166.8 295.9h0M181.1 291.4h0M176.5 296.0h0" stroke="#666" stroke-width="0.60" stroke-linecap="square" fill="none"/>
<path d="M198.8 280.5h0M204.2 281.5h0M200.2 283.1h0M206.9 286.4h0M202.9 280.2h0M194.1 287.7h0M205.8 282.3h0M203.7 286.9h0M205.2 287.6h0M198.7 290.6h0M194.8 287.3h0M203.5 287.4h0M210.4 290.4h0M195.3 274.6h0M205.1 277.9h0M200.9 287.2h0M192.8 272.5h0M202.3 283.2h0M199.8 283.2h0M196.7 275.4h0M200.2 278.1h0M192.8 285.5h0M200.7 285.0h0M196.1 279.7h0M196.0 278.6h0M202.0 279.1h0M202.8 284.7h0M211.1 276.0h0M205.4 282.6h0M200.9 275.8h0M198.7 286.7h0M200.6 283.4h0M199.5 288.8h0M200.9 272.0h0M197.5 273.2h0M184.7 280.3h0M207.7 283.2h0M195.1 278.3h0M206.7 283.8h0M201.2 282.7h0M201.2 287.0h0M203.8 284.1h0M195.8 285.6h0M197.6 288.5h0M194.6 282.3h0M201.0 276.4h0M209.6 290.3h0M198.7 286.9h0M202.9 269.9h0M202.3 282.7h0M201.4 277.6h0M199.7 282.1h0M206.9 284.7h0M201.0 290.6h0M198.2 281.1h0M191.9 290.8h0M205.8 287.6h0M204.3 283.6h0M202.1 281.7h0M200.0 283.3h0M208.6 285.8h0M200.7 280.1h0M197.8 291.0h0M203.5 283.3h0M199.3 277.5h0M200.7 287.4h0M199.0 281.9h0M199.9 283.5h0M193.0 281.8h0M196.7 287.4h0M197.1 285.9h0M208.6 281.4h0M198.0 284.0h0M201.0 278.0h0M203.3 293.1h0M199.7 282.0h0M195.8 284.6h0M194.8 277.5h0M207.4 278.5h0M206.4 290.6h0" stroke="#999" stroke-width="0.60" stroke-linecap="square" fill="none"/>
<path d="M205.4 277.7h0M207.9 275.4h0M204.1 271.9h0M205.1 280.4h0M206.4 273.2h0M203.7 274.5h0M205.4 275.4h0M205.3 276.9h0M204.6 275.9h0M205.3 275.7h0M205.8 281.6h0M205.9 276.2h0M202.5 277.2h0M202.1 271.8h0M206.3 278.1h0M204.8 270.9h0M204.4 274.0h0M206.0 282.8h0M205.3 273.7h0M203.2 275.8h0M204.7 272.5h0M205.2 272.5h0M206.7 279.2h0M206.6 274.6h0M205.8 275.6h0" stroke="#888" stroke-width="0.60" stroke-linecap="square" fill="none"/>
<path d="M186.1 292.7h0M218.5 305.7h0M204.7 292.8h0M193.2 297.6h0M219.3 303.3h0M185.7 302.4h0M201.1 299.5h0M182.9 304.3h0M220.5 297.9h0M203.7 300.8h0M213.6 304.6h0M191.1 301.9h0M213.5 301.2h0M209.2 296.7h0M206.7 299.6h0M219.9 296.5h0M197.6 303.1h0M196.8 296.2h0M208.8 297.9h0M214.9 303.4h0M193.4 298.6h0M207.8 295.4h0M188.0 304.7h0M202.7 296.2h0M212.1 305.0h0M181.8 303.9h0M210.3 297.5h0M179.7 302.5h0M220.2 289.7h0M199.2 296.4h0M196.6 305.3h0M210.0 300.0h0M201.5 299.6h0M210.4 301.6h0M182.6 301.9h0M203.2 300.1h0M203.0 297.0h0M219.1 292.5h0M180.7 294.6h0M198.5 294.6h0M206.1 297.2h0M202.7 308.0h0M182.2 295.7h0M204.5 297.5h0M188.6 296.1h0" stroke="#aaa" stroke-width="0.60" stroke-linecap="square" fill="none"/>
<path d="M204.9 295.4h0M192.0 296.8h0M191.3 297.2h0M205.3 291.8h0M177.5 291.9h0M179.3 300.7h0M196.6 292.2h0M178.9 295.2h0M201.1 282.9h0M194.2 291.6h0M198.3 291.6h0M187.7 289.5h0M182.2 303.9h0M196.6 295.0h0M183.0 287.5h0M186.9 296.8h0M189.3 296.5h0M181.0 296.7h0M189.7 303.5h0M204.9 296.3h0M183.9 296.7h0M185.1 293.3h0M189.5 291.8h0M194.8 296.5h0M192.0 296.1h0M184.2 292.3h0M188.1 294.3h0M191.9 297.0h0M179.1 297.3h0M179.3 293.9h0M187.6 286.6h0M190.7 297.8h0M188.7 294.9h0M187.0 292.1h0M187.8 294.2h0" stroke="#999" stroke-width="0.60" stroke-linecap="square" fill="none"/>
<path d="M166.0 303.6h0M166.3 306.8h0M165.5 305.4h0M166.9 302.5h0M166.7 307.1h0M166.4 307.4h0M167.1 307.5h0M166.2 302.9h0M167.8 307.1h0M165.5 300.4h0M166.6 302.9h0M168.3 305.6h0M169.0 306.3h0M165.3 303.5h0M166.6 306.8h0M167.8 304.6h0M165.7 308.3h0M166.6 305.8h0M166.5 304.1h0M165.7 307.2h0M164.6 304.4h0M167.6 307.4h0M167.3 299.9h0M165.6 307.8h0M168.1 307.3h0M166.4 308.4h0M164.7 306.4h0M165.5 306.4h0M165.4 308.4h0M167.9 302.9h0M167.9 307.7h0M166.8 305.4h0M167.9 305.9h0M168.0 304.3h0M166.3 304.3h0M165.9 305.7h0M167.6 305.0h0M165.9 307.0h0M168.9 306.2h0M166.7 304.5h0M167.1 304.7h0M165.5 307.0h0M167.0 305.7h0M166.8 304.4h0M165.1 304.0h0M168.1 306.4h0M165.4 308.2h0M167.7 306.2h0M165.3 305.6h0M168.2 307.7h0M167.1 305.3h0M166.9 308.1h0M165.4 307.5h0M167.2 305.7h0M169.8 306.6h0M166.0 301.7h0M166.5 302.9h0M166.4 306.2h0M165.2 306.3h0M164.7 305.0h0M168.4 308.2h0M165.7 306.3h0M165.2 306.7h0M164.9 306.3h0M170.4 306.3h0M165.3 307.8h0M167.2 303.8h0M166.3 306.8h0M168.9 304.9h0M166.0 305.3h0M168.8 301.8h0M167.1 308.0h0M168.6 302.7h0M167.3 305.8h0M165.1 302.9h0M165.4 302.8h0M167.2 306.2h0M166.5 306.8h0M167.1 306.6h0M168.3 307.5h0M166.6 307.5h0M165.3 307.0h0M166.0 303.6h0M165.6 304.8h0M166.0 305.0h0M166.9 304.8h0M170.9 304.1h0M164.9 304.5h0M167.4 303.7h0M164.8 306.4h0M164.8 301.5h0M166.1 306.1h0M167.4 307.8h0M165.6 304.4h0M167.1 305.1h0M168.7 307.0h0M168.1 305.3h0M167.7 305.1h0M167.3 305.3h0M165.6 307.3h0M168.2 305.3h0M165.8 306.8h0M168.4 307.3h0M167.4 303.9h0M167.3 307.1h0M166.7 308.3h0M164.9 307.2h0M165.2 306.8h0M165.5 303.8h0M167.1 303.9h0M166.2 304.0h0M169.8 306.0h0M167.3 306.8h0M166.2 304.9h0M166.4 308.3h0M165.9 307.7h0M164.8 301.4h0M167.6 308.2h0M166.1 306.7h0M167.9 305.4h0M168.2 303.2h0M168.2 305.0h0M165.6 303.4h0M168.2 305.5h0M166.6 308.2h0M165.7 305.2h0M164.8 306.7h0M165.9 305.1h0M168.2 307.9h0M170.3 304.5h0M167.4 305.7h0M167.1 308.4h0M167.3 306.3h0M166.7 308.1h0M165.3 304.4h0M166.5 304.3h0M165.7 307.7h0M167.8 306.2h0M167.9 306.5h0M165.6 307.9h0M167.9 305.7h0M165.3 306.1h0M166.0 304.3h0M167.9 305.5h0M166.7 304.5h0M166.5 307.4h0M167.7 304.9h0M165.0 307.5h0M165.9 306.6h0M165.2 302.2h0M165.3 301.2h0M166.5 304.8h0M166.3 303.1h0M169.0 304.0h0M167.1 303.2h0M166.4 305.7h0M165.7 307.9h0M169.3 307.0h0M166.0 304.2h0M167.0 305.9h0M167.5 306.4h0M169.3 301.7h0M165.1 304.6h0M165.3 303.2h0M168.1 303.8h0M167.8 304.5h0M167.5 305.6h0M167.3 305.0h0M168.1 303.7h0M165.6 302.7h0M168.7 300.7h0M165.3 306.9h0M166.3 306.0h0M168.1 301.4h0M165.8 304.8h0M166.1 307.0h0M167.4 307.3h0M170.4 303.0h0M167.4 307.0h0M165.4 305.2h0M165.4 305.2h0M167.3 305.5h0M164.9 303.6h0M165.7 304.4h0M166.5 307.7h0M166.5 306.6h0M165.5 305.8h0M167.3 303.9h0M168.5 306.6h0M167.1 303.3h0M166.4 306.5h0M168.4 306.8h0M166.5 308.0h0M165.9 304.2h0M165.7 306.7h0M170.5 304.5h0M165.6 306.1h0M164.8 304.5h0M166.9 306.6h0M165.9 307.7h0M164.6 305.9h0M169.0 301.2h0M165.1 307.0h0M165.1 304.6h0M165.7 306.5h0M165.6 302.0h0M165.5 304.4h0M164.7 307.0h0M168.6 306.2h0M165.5 308.5h0M164.7 305.6h0M167.8 306.3h0M165.4 304.5h0M166.6 305.9h0M165.7 302.9h0M166.3 302.9h0M165.1 304.9h0M165.1 307.2h0M168.5 308.1h0M166.4 305.6h0M167.6 305.6h0M167.1 307.0h0M166.5 300.6h0M168.2 305.3h0M164.9 303.5h0M166.3 307.5h0M164.8 304.3h0M166.2 308.3h0M165.7 306.2h0M168.3 307.3h0M166.8 307.9h0M168.6 307.5h0M166.1 302.9h0M169.0 304.5h0M168.3 307.9h0M165.6 306.0h0M166.0 306.9h0M164.7 306.4h0M169.0 302.4h0M166.3 304.3h0M165.7 308.4h0M166.2 300.3h0M168.9 307.2h0M166.3 303.1h0M165.9 306.0h0M171.2 308.2h0M168.3 307.8h0M166.6 307.4h0M165.9 304.8h0M164.8 302.1h0M166.2 307.5h0M169.8 302.9h0M165.4 305.7h0M169.2 305.7h0M166.5 307.2h0M166.9 307.9h0M166.9 302.2h0M165.2 307.5h0M164.7 301.4h0M165.2 308.3h0M169.0 301.2h0M171.0 303.8h0M167.8 306.9h0M171.5 308.2h0M169.4 304.3h0M168.9 306.4h0M166.0 304.1h0M165.5 306.2h0M167.6 303.5h0M165.2 303.3h0M170.5 307.7h0M165.1 308.4h0M166.4 307.2h0M167.0 305.1h0M165.0 302.4h0M164.9 303.1h0M165.5 304.2h0M166.0 307.6h0M165.4 306.7h0M166.7 307.0h0M168.2 306.7h0M170.5 304.8h0M166.3 301.9h0M165.7 304.0h0M165.1 305.3h0M164.8 308.3h0M167.1 305.1h0M165.7 306.1h0M164.9 308.3h0M165.0 306.0h0M165.3 308.2h0M171.2 303.6h0M166.6 308.3h0M168.4 304.9h0M166.6 304.4h0M165.5 306.9h0M166.7 303.0h0M167.3 305.6h0M165.6 307.8h0M166.6 302.4h0M166.6 306.2h0M168.6 303.6h0M165.4 305.5h0M166.0 305.4h0M169.0 304.3h0" stroke="#000" stroke-width="0.70" stroke-linecap="square" fill="none"/>
<path d="M170.7 298.5h0M170.1 302.6h0M164.7 301.4h0M172.7 299.0h0M164.7 308.2h0M169.0 299.8h0M167.8 307.4h0M170.9 303.0h0M168.2 302.6h0M168.0 298.9h0M166.5 305.6h0M170.0 302.5h0M165.9 303.1h0M170.5 301.3h0M169.2 307.4h0M170.0 303.1h0M174.6 305.4h0M166.9 305.6h0M169.3 299.9h0M168.2 302.4h0M167.1 301.4h0M167.9 303.4h0M172.0 300.5h0M166.4 306.9h0M166.8 301.9h0M168.7 306.8h0M164.9 299.1h0M165.4 300.0h0M168.9 299.8h0M168.4 304.4h0M165.8 303.5h0M173.0 304.2h0M166.0 302.8h0M165.2 304.0h0M170.6 300.1h0M167.4 307.0h0M166.5 303.7h0M164.9 300.1h0M166.8 301.1h0M166.3 302.4h0M170.0 303.7h0M174.2 303.7h0M172.3 304.0h0M169.8 297.9h0M167.6 302.8h0M167.3 295.5h0M170.6 301.6h0M166.7 302.1h0M167.3 304.4h0M168.9 303.5h0M166.9 301.0h0M165.5 302.8h0M171.5 299.3h0M172.6 306.0h0M166.6 305.7h0M167.0 301.2h0M168.3 295.5h0M169.5 298.0h0M166.0 301.6h0M165.0 303.0h0M169.8 305.0h0M165.0 300.2h0M165.2 304.6h0M166.5 300.3h0M169.0 306.6h0M169.0 306.7h0M168.4 307.3h0M171.7 302.7h0M172.3 303.6h0M168.3 299.8h0M167.1 305.7h0M169.0 304.0h0M169.9 300.3h0M168.3 294.7h0M170.0 300.7h0M170.6 296.6h0M170.1 302.2h0M170.4 299.8h0M165.5 300.5h0M167.2 299.4h0M165.9 297.0h0M171.5 306.9h0M170.5 307.0h0M165.4 302.4h0M170.9 300.6h0M174.8 303.3h0M166.1 305.8h0M173.4 304.7h0M172.1 301.3h0M165.7 306.6h0M168.4 299.1h0M166.9 300.4h0M168.9 303.4h0M171.5 305.5h0M170.7 304.6h0M171.1 301.1h0M165.1 306.3h0M164.8 295.4h0M171.1 300.5h0M167.1 298.1h0M166.9 304.3h0M170.0 302.7h0M165.4 303.9h0M168.6 307.9h0M166.6 306.5h0M165.8 306.9h0M165.7 301.7h0M173.7 304.1h0M169.1 300.1h0M170.2 298.9h0M171.4 307.2h0M166.3 300.8h0M168.5 303.0h0M165.1 305.0h0M166.8 302.0h0M168.9 298.7h0M169.8 302.4h0M166.0 298.2h0M165.1 303.2h0M171.2 306.6h0M172.7 302.0h0" stroke="#111" stroke-width="0.70" stroke-linecap="square" fill="none"/>
<rect x="164.10" y="251.20" width="59.90" height="57.80" fill="none" stroke="#555" stroke-width="0.9"/>
<line x1="178.70" y1="251.20" x2="178.70" y2="309.00" stroke="#bbb" stroke-width="0.8"/>
<line x1="164.10" y1="288.10" x2="224.00" y2="288.10" stroke="#bbb" stroke-width="0.8"/>
<line x1="163.10" y1="309.00" x2="164.10" y2="309.00" stroke="#777" stroke-width="0.5"/>
<text x="162.80" y="310.00" font-size="3.4" font-weight="normal" fill="#777" text-anchor="end">10<tspan font-size="2.38" dy="-1.1">0</tspan></text>
<line x1="163.10" y1="294.55" x2="164.10" y2="294.55" stroke="#777" stroke-width="0.5"/>
<text x="162.80" y="295.55" font-size="3.4" font-weight="normal" fill="#777" text-anchor="end">10<tspan font-size="2.38" dy="-1.1">1</tspan></text>
<line x1="163.10" y1="280.10" x2="164.10" y2="280.10" stroke="#777" stroke-width="0.5"/>
<text x="162.80" y="281.10" font-size="3.4" font-weight="normal" fill="#777" text-anchor="end">10<tspan font-size="2.38" dy="-1.1">2</tspan></text>
<line x1="163.10" y1="265.65" x2="164.10" y2="265.65" stroke="#777" stroke-width="0.5"/>
<text x="162.80" y="266.65" font-size="3.4" font-weight="normal" fill="#777" text-anchor="end">10<tspan font-size="2.38" dy="-1.1">3</tspan></text>
<line x1="163.10" y1="251.20" x2="164.10" y2="251.20" stroke="#777" stroke-width="0.5"/>
<text x="162.80" y="252.20" font-size="3.4" font-weight="normal" fill="#777" text-anchor="end">10<tspan font-size="2.38" dy="-1.1">4</tspan></text>
<line x1="164.10" y1="309.00" x2="164.10" y2="310.00" stroke="#777" stroke-width="0.5"/>
<text x="164.10" y="316.00" font-size="3.4" font-weight="normal" fill="#777" text-anchor="middle">10<tspan font-size="2.38" dy="-1.1">0</tspan></text>
<line x1="179.07" y1="309.00" x2="179.07" y2="310.00" stroke="#777" stroke-width="0.5"/>
<text x="179.07" y="316.00" font-size="3.4" font-weight="normal" fill="#777" text-anchor="middle">10<tspan font-size="2.38" dy="-1.1">1</tspan></text>
<line x1="194.05" y1="309.00" x2="194.05" y2="310.00" stroke="#777" stroke-width="0.5"/>
<text x="194.05" y="316.00" font-size="3.4" font-weight="normal" fill="#777" text-anchor="middle">10<tspan font-size="2.38" dy="-1.1">2</tspan></text>
<line x1="209.03" y1="309.00" x2="209.03" y2="310.00" stroke="#777" stroke-width="0.5"/>
<text x="209.03" y="316.00" font-size="3.4" font-weight="normal" fill="#777" text-anchor="middle">10<tspan font-size="2.38" dy="-1.1">3</tspan></text>
<line x1="224.00" y1="309.00" x2="224.00" y2="310.00" stroke="#777" stroke-width="0.5"/>
<text x="224.00" y="316.00" font-size="3.4" font-weight="normal" fill="#777" text-anchor="middle">10<tspan font-size="2.38" dy="-1.1">4</tspan></text>
<text x="168.79" y="257.60" font-size="5.4" font-weight="normal" fill="#111" stroke="#111" stroke-width="0.2" textLength="7.35" lengthAdjust="spacingAndGlyphs">0.1</text>
<text x="212.35" y="257.60" font-size="5.4" font-weight="normal" fill="#111" stroke="#111" stroke-width="0.2" textLength="7.84" lengthAdjust="spacingAndGlyphs">8.7</text>
<text x="166.35" y="295.30" font-size="5.4" font-weight="normal" fill="#111" stroke="#111" stroke-width="0.2" textLength="10.70" lengthAdjust="spacingAndGlyphs">81.9</text>
<text x="212.35" y="295.30" font-size="5.4" font-weight="normal" fill="#111" stroke="#111" stroke-width="0.2" textLength="7.69" lengthAdjust="spacingAndGlyphs">9.4</text>
<path d="M267.9 303.8h0M273.9 289.6h0M262.0 294.2h0M265.1 297.8h0M281.6 304.3h0M269.7 293.9h0M275.1 303.8h0M267.8 293.4h0M273.4 294.5h0M287.7 299.0h0M261.2 300.8h0M271.8 304.8h0M278.9 304.8h0M253.6 293.5h0M290.4 302.4h0M270.9 300.4h0M260.3 296.0h0M281.9 303.0h0M284.3 305.2h0M276.5 297.6h0M288.5 305.5h0M253.7 291.3h0M272.2 292.0h0M281.2 302.8h0M288.5 294.5h0M276.9 299.5h0M275.3 297.9h0M266.3 291.6h0M274.0 302.6h0M273.3 302.3h0M288.0 291.6h0M284.7 293.7h0M281.0 303.4h0M288.8 305.4h0M252.8 304.7h0M282.3 298.0h0M269.5 295.6h0M281.6 297.0h0M262.4 292.2h0M269.6 297.9h0" stroke="#aaa" stroke-width="0.60" stroke-linecap="square" fill="none"/>
<path d="M251.9 305.2h0M265.5 289.1h0M258.5 303.6h0M273.0 293.5h0M266.0 293.2h0M271.5 291.5h0M272.0 291.5h0M259.1 291.4h0M284.0 279.3h0M269.6 287.8h0M275.6 286.0h0M274.5 283.1h0M266.5 293.1h0M264.3 295.2h0M279.2 279.9h0M264.8 294.4h0M255.8 295.3h0M278.2 286.8h0M250.5 298.5h0M275.9 290.3h0M273.6 289.1h0M280.7 281.2h0M280.7 286.7h0M260.5 300.1h0M266.3 289.8h0M260.7 298.4h0M268.4 294.6h0M250.4 302.0h0M276.6 284.5h0M259.8 295.5h0M248.2 300.6h0M271.9 288.6h0M277.6 282.7h0M259.9 285.6h0M270.7 298.4h0M272.6 287.1h0M279.8 285.9h0M269.4 288.6h0M270.3 293.3h0M261.3 298.8h0M274.3 292.4h0M272.4 284.9h0M281.2 281.3h0M261.6 297.9h0M267.3 296.7h0M253.3 297.8h0M268.7 298.4h0M274.0 282.2h0M251.5 302.8h0M257.5 302.1h0M268.6 290.7h0M266.6 299.1h0M256.0 294.7h0M279.9 288.0h0M265.4 296.2h0M285.8 273.7h0M266.7 294.4h0M248.4 305.9h0M273.3 286.6h0M277.7 287.1h0M264.8 296.1h0M267.3 284.3h0M257.8 295.6h0M261.4 294.2h0M254.4 301.9h0M252.9 307.2h0M272.2 294.1h0M268.9 288.2h0M255.8 303.6h0M267.7 293.0h0M276.0 290.3h0M270.2 297.2h0M266.0 292.7h0M274.9 290.3h0M275.0 277.5h0M275.3 278.6h0M262.6 297.1h0M274.8 281.3h0M254.0 306.3h0M267.3 287.1h0M259.8 288.7h0M270.8 286.6h0M273.4 277.8h0M278.1 293.2h0M268.4 291.5h0M251.1 305.9h0M265.8 290.3h0M253.4 302.9h0M256.9 297.6h0M269.4 289.8h0M268.7 294.7h0M259.4 304.0h0M254.8 297.3h0M269.5 293.5h0M267.9 289.2h0M259.9 296.2h0M259.6 300.2h0M268.3 297.9h0M260.0 296.7h0M268.1 286.0h0M267.1 304.5h0M269.8 296.3h0M252.4 292.3h0M271.3 288.3h0M268.4 289.3h0M258.6 292.8h0M272.2 281.0h0M274.5 284.9h0M255.4 297.9h0M276.7 287.6h0M271.1 289.0h0M259.8 303.3h0M261.6 293.5h0M261.2 294.5h0M252.8 300.9h0M258.4 296.2h0M256.4 301.4h0M271.5 292.8h0M284.0 280.4h0M271.9 286.0h0M276.7 278.1h0M265.2 294.5h0M274.8 289.4h0M278.0 285.9h0M267.3 292.5h0M279.8 283.2h0M274.4 285.5h0M249.5 302.9h0M273.2 294.4h0M282.9 287.1h0M262.3 299.0h0M267.8 294.1h0M263.2 288.7h0M273.7 288.3h0M272.1 284.1h0M278.3 288.2h0M282.1 286.5h0M257.4 288.1h0M273.6 282.6h0M267.2 296.7h0M269.9 290.8h0M268.8 282.0h0M282.7 278.1h0M265.4 295.8h0M263.8 290.6h0M264.8 291.9h0M265.4 302.3h0M249.3 295.7h0M256.3 295.8h0M279.5 282.8h0M275.3 288.1h0M260.3 300.8h0M272.2 296.4h0M268.2 290.7h0M274.7 289.2h0M277.9 287.1h0M252.1 294.3h0M265.7 296.2h0M268.4 286.2h0M271.8 281.8h0M254.6 301.4h0M259.8 294.3h0M255.8 305.4h0M257.6 301.0h0M273.4 286.5h0M271.0 293.3h0M282.9 283.8h0M250.2 296.4h0" stroke="#999" stroke-width="0.60" stroke-linecap="square" fill="none"/>
<path d="M278.6 281.1h0M270.4 273.5h0M276.0 267.5h0M267.1 274.6h0M271.8 267.6h0M276.7 272.4h0M281.1 274.0h0M271.9 274.8h0M272.8 270.0h0M271.2 278.5h0M278.5 281.7h0M262.1 271.6h0M271.1 275.0h0M270.8 270.9h0M279.5 275.1h0M265.8 282.0h0M281.0 270.6h0M279.8 269.6h0M281.9 272.7h0M268.4 271.8h0M268.6 275.2h0M275.2 274.2h0M270.1 252.0h0M274.6 262.6h0M275.7 280.8h0M275.9 271.7h0M272.7 273.2h0M270.2 270.5h0M267.5 281.1h0M273.9 279.7h0M272.2 274.4h0M272.8 276.8h0M279.8 275.4h0M269.3 269.3h0M285.6 272.3h0M272.0 282.8h0M281.6 277.2h0M271.2 288.1h0M276.8 277.3h0M272.8 265.5h0M264.7 276.4h0M276.7 272.6h0M265.8 265.4h0M271.7 265.3h0M280.3 280.9h0M269.9 268.8h0M249.8 270.4h0M272.8 279.8h0M278.3 277.5h0M275.5 278.0h0M284.1 267.6h0M270.8 265.7h0M285.3 281.8h0M279.3 266.8h0M275.2 272.6h0M274.6 272.9h0M277.6 271.6h0M280.0 275.4h0M271.9 273.3h0M270.9 278.9h0M272.1 275.8h0M271.3 265.1h0M280.3 267.7h0M278.8 276.5h0M262.4 268.3h0M270.4 269.1h0M265.7 278.4h0M272.3 276.3h0M271.0 275.8h0M268.7 273.8h0M278.1 274.3h0M270.8 267.5h0M275.2 276.1h0M272.2 269.4h0M277.8 288.9h0M271.9 276.0h0M276.6 258.6h0M274.9 269.8h0M283.7 272.5h0M268.6 272.7h0M275.2 270.6h0M273.6 265.9h0M272.4 278.7h0M287.8 278.2h0M275.9 281.1h0M281.1 284.0h0M281.6 273.3h0M275.8 275.1h0M276.1 275.2h0M268.5 261.4h0M269.3 261.8h0M274.5 274.0h0M262.3 278.1h0M280.1 274.6h0M285.7 285.2h0M265.6 280.2h0M277.1 276.5h0M280.5 269.7h0M269.9 269.0h0M268.7 273.4h0M263.8 267.7h0M278.0 273.6h0M276.7 262.7h0M268.5 270.7h0M274.2 270.5h0M280.5 273.7h0M274.1 274.1h0M279.0 271.2h0M281.9 276.8h0M275.1 274.3h0M277.6 280.1h0M280.6 276.3h0M280.1 274.7h0M282.8 273.8h0M259.5 282.0h0M274.8 267.0h0M272.6 268.7h0M288.7 277.0h0M263.0 277.3h0M271.2 285.5h0M266.6 260.5h0M274.5 271.9h0M271.1 261.2h0M277.0 284.0h0M260.6 281.0h0M270.0 288.1h0M277.1 272.9h0M281.7 277.2h0M269.9 278.3h0M270.4 263.3h0M288.2 271.9h0M269.7 276.0h0M263.1 265.9h0M270.5 270.9h0M274.5 280.7h0M270.7 277.0h0M278.2 267.5h0M275.6 268.3h0M281.4 276.7h0M274.1 266.0h0M274.8 269.4h0M278.9 273.3h0M268.3 279.6h0M279.1 270.4h0M282.1 272.2h0M271.8 274.7h0M268.7 271.4h0M272.9 283.2h0M284.5 272.4h0M285.3 273.7h0M276.7 279.3h0M276.0 288.5h0M275.7 266.8h0M283.1 271.5h0M271.9 256.0h0M281.0 278.9h0M279.6 279.9h0M285.8 273.7h0M280.6 269.5h0M271.5 280.3h0M276.7 266.0h0M276.5 272.9h0M268.3 276.6h0M271.2 264.6h0M266.2 284.6h0M263.4 275.3h0M278.3 277.8h0M265.4 272.1h0M275.0 278.8h0M269.5 267.0h0M281.0 280.6h0M276.6 270.3h0M276.8 274.7h0M279.9 266.5h0M274.8 273.0h0M266.2 275.3h0M274.2 271.5h0M276.8 265.5h0M273.6 276.6h0M276.0 280.5h0M265.6 265.0h0M275.7 276.7h0M288.8 277.7h0M267.9 278.8h0M268.1 265.1h0M292.3 276.0h0M279.0 277.4h0M286.7 275.7h0M282.5 267.8h0M264.3 282.6h0M284.3 277.1h0M275.6 275.0h0M269.2 283.2h0M278.6 277.0h0M276.6 280.3h0M277.5 278.5h0M265.8 277.1h0M289.3 270.9h0M273.1 279.4h0M280.7 277.7h0M262.7 277.0h0M265.7 269.1h0M277.8 272.2h0M279.7 292.9h0M279.4 278.3h0M267.7 270.1h0M266.6 270.8h0M266.4 270.0h0M272.5 268.0h0M264.1 265.8h0M277.2 274.4h0M281.2 280.3h0M271.6 278.0h0M263.9 287.7h0M282.4 272.7h0M265.9 276.3h0M260.9 269.3h0M279.2 274.5h0M270.6 279.7h0M266.7 275.7h0M270.5 268.9h0M277.2 268.0h0M287.3 270.5h0M287.9 267.4h0M278.2 266.8h0M264.6 275.0h0M278.7 266.4h0M282.3 269.2h0M274.9 276.3h0M278.2 263.2h0M285.3 277.4h0M271.0 267.9h0M262.1 265.8h0M277.8 272.0h0M266.1 270.8h0M284.9 272.0h0M269.9 282.1h0M277.2 274.3h0M269.7 264.7h0" stroke="#888" stroke-width="0.60" stroke-linecap="square" fill="none"/>
<path d="M277.1 267.5h0M279.5 269.2h0M281.4 268.9h0M280.6 266.5h0M274.6 267.5h0M277.6 267.2h0M279.3 266.0h0M277.2 268.3h0M280.3 267.2h0M281.2 268.1h0M277.5 268.6h0M284.7 267.2h0M282.9 271.3h0M283.7 266.9h0M285.0 268.7h0M279.4 268.0h0M281.5 268.6h0M279.6 271.1h0M278.2 266.4h0M282.0 269.9h0M282.7 266.4h0M282.7 269.5h0M284.4 266.0h0M280.5 267.9h0M276.0 267.1h0M282.8 267.6h0M278.2 270.2h0M282.5 270.5h0M278.0 268.4h0M282.6 267.2h0M278.1 270.2h0M283.9 266.2h0M273.5 265.6h0M277.5 268.2h0M281.5 268.2h0M278.2 268.8h0M277.6 268.4h0M278.4 273.9h0M282.0 266.8h0M277.5 267.6h0M275.9 267.0h0M278.2 270.3h0M278.9 266.9h0M276.6 266.1h0M279.8 268.1h0M282.8 267.2h0M282.6 269.0h0M280.0 264.5h0M276.8 270.0h0M283.5 268.9h0M281.9 267.7h0M279.1 267.2h0M282.4 269.2h0M279.4 267.8h0M281.4 269.1h0M277.9 271.9h0M280.6 268.5h0M283.7 270.5h0M279.8 269.6h0M277.3 267.2h0M274.3 270.9h0M275.3 269.9h0M277.9 266.5h0M279.5 269.0h0M281.5 272.0h0M280.9 270.3h0M278.5 269.9h0M280.4 267.6h0M279.8 268.4h0M280.5 269.3h0M278.7 267.0h0M281.9 265.1h0M278.5 271.6h0M273.2 267.1h0M281.7 265.2h0M286.5 263.3h0M283.6 271.6h0M282.3 268.1h0M280.9 266.7h0M282.0 266.3h0" stroke="#555" stroke-width="0.60" stroke-linecap="square" fill="none"/>
<path d="M268.3 272.0h0M266.2 269.3h0M269.4 267.3h0M271.9 270.7h0M265.2 269.9h0M267.1 268.7h0M269.2 268.6h0M271.4 268.6h0M271.5 269.9h0M271.1 268.9h0M267.7 267.7h0M270.4 271.9h0M274.3 272.6h0M269.6 269.6h0M270.0 269.9h0M272.7 271.9h0M266.9 268.6h0M272.4 270.6h0M268.4 272.4h0M268.0 269.4h0M267.8 266.1h0M271.2 267.6h0M267.6 268.5h0M270.8 269.9h0M269.0 266.6h0M268.8 267.0h0M269.8 270.7h0M269.0 274.1h0M270.3 271.2h0M269.4 269.6h0M271.4 272.2h0M265.7 272.1h0M270.3 271.9h0M270.2 267.5h0M266.1 273.6h0M269.6 267.2h0M269.9 269.3h0M264.4 265.4h0M265.0 270.5h0M268.9 269.5h0M269.7 271.2h0M263.7 269.4h0M266.9 267.5h0M267.6 269.8h0M268.3 267.1h0M267.8 274.0h0M266.4 266.6h0M269.7 271.2h0M270.2 267.8h0M271.5 268.4h0M266.2 268.8h0M268.7 271.4h0M270.6 270.0h0M271.3 270.2h0M271.2 267.2h0M265.1 271.6h0M265.5 269.4h0M268.8 269.0h0M267.9 272.8h0M262.7 271.8h0" stroke="#666" stroke-width="0.60" stroke-linecap="square" fill="none"/>
<path d="M247.4 303.1h0M240.4 305.0h0M246.0 299.7h0M240.8 302.5h0M242.2 303.4h0M242.5 301.8h0M240.6 301.1h0M238.5 302.6h0M240.1 299.7h0M245.2 302.6h0M236.3 306.1h0M238.3 304.4h0M240.4 303.7h0M241.0 301.4h0M241.8 300.1h0M242.1 303.2h0M241.9 304.8h0M244.0 304.2h0M240.9 303.5h0M244.6 305.3h0M237.5 301.2h0M241.5 301.3h0M239.4 300.3h0M239.7 304.2h0M243.5 303.0h0M246.7 302.8h0M250.1 305.8h0M242.0 301.6h0M239.7 305.0h0M239.5 304.9h0M240.8 299.8h0M243.3 304.9h0M242.3 305.8h0M243.8 302.9h0M236.4 299.1h0M244.5 305.0h0M240.8 301.8h0M240.6 303.1h0M239.5 301.0h0M247.0 303.6h0M238.7 299.4h0M238.3 305.0h0M242.8 302.4h0M240.7 302.1h0M237.2 306.6h0M238.2 302.6h0M243.1 302.3h0M236.3 300.3h0M240.8 304.0h0M240.2 305.8h0M243.5 303.9h0" stroke="#555" stroke-width="0.60" stroke-linecap="square" fill="none"/>
<path d="M239.6 303.6h0M240.5 305.5h0M239.7 304.7h0M239.0 301.7h0M237.9 305.2h0M240.4 306.5h0M239.7 305.4h0M241.8 305.6h0M238.6 303.7h0M239.8 302.4h0M240.4 305.6h0M238.8 307.2h0M239.1 303.7h0M239.2 302.9h0M240.3 304.0h0M242.4 305.0h0M240.5 303.6h0M237.2 303.9h0M238.2 305.5h0M239.5 306.7h0M240.9 305.3h0M240.0 304.3h0M240.7 305.5h0M238.4 304.8h0M244.1 303.9h0M239.2 302.9h0M237.1 305.9h0M239.7 304.5h0M238.1 305.7h0M240.7 304.6h0M240.4 304.0h0M242.3 305.0h0M240.2 306.0h0M241.1 304.7h0M240.2 306.8h0M240.5 303.9h0M238.1 303.5h0M237.8 304.2h0M240.0 300.7h0M239.6 305.0h0M239.9 302.5h0M241.8 302.9h0M237.5 302.3h0M239.6 305.6h0M241.6 304.3h0M237.6 303.0h0M238.1 303.7h0M236.6 304.2h0M240.7 303.8h0M240.4 302.5h0M237.1 303.0h0M241.6 305.6h0M238.8 305.9h0M239.0 306.4h0M240.4 303.3h0M241.0 302.8h0M238.0 301.7h0M240.0 303.9h0M239.5 303.3h0M242.0 303.3h0M238.4 306.0h0M242.0 304.5h0M236.6 303.0h0M240.6 304.0h0M242.2 301.8h0M240.8 303.0h0M241.8 303.9h0M241.4 303.0h0M237.2 302.2h0M238.6 302.4h0M241.6 306.1h0M240.1 302.3h0M239.4 302.9h0M242.1 304.5h0M240.4 303.4h0M236.2 302.8h0M237.7 304.6h0M239.8 302.7h0M238.9 306.5h0M238.0 302.5h0M239.2 302.9h0M238.9 304.9h0M242.5 301.2h0M239.6 304.1h0M239.5 303.7h0M239.0 305.6h0M238.8 303.8h0M239.6 304.2h0M239.3 305.6h0M239.6 304.3h0M239.5 302.4h0M238.2 302.3h0M239.9 302.9h0M237.8 304.4h0M240.5 301.2h0M242.5 304.1h0M239.4 305.7h0M239.7 303.0h0M243.3 302.3h0M239.4 305.4h0M237.8 303.8h0M238.1 303.9h0M240.7 304.1h0M237.6 304.7h0M239.8 304.7h0M241.5 305.6h0M240.3 304.5h0M237.7 303.8h0M240.0 303.4h0M239.8 302.7h0M242.2 307.4h0M238.9 304.6h0M239.2 306.0h0M240.3 304.1h0M239.2 304.2h0M237.9 305.1h0M238.4 304.9h0M239.8 305.8h0M239.6 305.6h0M238.0 305.0h0M239.2 304.3h0M239.7 305.5h0M236.2 304.5h0M237.1 305.9h0M236.2 302.4h0M236.8 306.6h0M237.4 304.2h0M238.7 301.1h0M239.0 305.1h0M239.3 305.5h0M239.0 304.0h0M238.9 304.5h0M242.8 304.6h0M239.9 303.0h0M238.3 306.3h0M237.7 302.5h0M239.4 303.3h0M242.9 300.2h0M240.2 305.1h0M237.7 303.0h0M240.3 306.6h0M238.0 301.5h0M241.3 306.4h0M239.0 300.5h0M242.1 303.7h0M241.5 303.9h0M239.0 303.3h0M242.1 306.3h0M236.0 302.5h0M242.6 303.4h0M237.3 304.0h0M239.4 303.8h0M238.8 303.5h0M238.8 304.5h0M238.2 303.5h0M239.4 306.1h0M240.2 303.8h0M240.5 304.6h0M241.4 304.8h0M242.6 306.2h0M239.5 303.3h0M241.1 304.8h0M239.4 301.6h0M236.5 304.6h0M240.9 305.3h0M237.4 305.7h0M238.7 304.6h0M240.3 302.7h0M238.6 300.7h0M238.0 301.1h0M240.3 304.1h0M241.2 304.6h0M238.5 304.6h0M238.9 305.0h0M240.1 302.4h0M239.6 304.1h0M239.1 305.4h0M242.5 303.4h0M239.0 300.4h0M239.4 303.3h0M235.9 304.5h0M240.6 302.8h0M239.0 302.5h0M240.9 301.6h0M239.1 307.1h0M239.7 304.7h0M239.4 302.1h0M239.5 304.7h0M237.9 304.5h0M241.7 305.7h0M236.9 302.4h0M236.9 305.7h0M240.6 305.1h0M238.1 302.1h0M239.7 304.2h0M238.1 304.2h0M240.7 304.4h0M237.8 300.6h0M239.2 304.3h0M239.2 303.3h0M238.4 305.1h0M239.5 304.2h0M237.9 303.0h0M239.9 302.4h0M237.5 303.5h0M241.6 304.3h0M242.1 303.8h0M239.1 301.8h0M238.6 306.3h0M240.2 305.2h0M240.8 304.0h0M239.3 304.2h0M240.7 304.7h0M240.4 304.2h0M238.3 303.6h0M238.0 305.6h0M236.0 303.7h0M243.7 303.5h0" stroke="#000" stroke-width="0.70" stroke-linecap="square" fill="none"/>
<rect x="235.40" y="250.80" width="58.00" height="57.40" fill="none" stroke="#555" stroke-width="0.9"/>
<line x1="249.40" y1="250.80" x2="249.40" y2="308.20" stroke="#bbb" stroke-width="0.8"/>
<line x1="235.40" y1="288.40" x2="293.40" y2="288.40" stroke="#bbb" stroke-width="0.8"/>
<line x1="234.40" y1="308.20" x2="235.40" y2="308.20" stroke="#777" stroke-width="0.5"/>
<text x="234.20" y="309.20" font-size="3.4" font-weight="normal" fill="#777" text-anchor="end">10<tspan font-size="2.38" dy="-1.1">0</tspan></text>
<line x1="234.40" y1="293.85" x2="235.40" y2="293.85" stroke="#777" stroke-width="0.5"/>
<text x="234.20" y="294.85" font-size="3.4" font-weight="normal" fill="#777" text-anchor="end">10<tspan font-size="2.38" dy="-1.1">1</tspan></text>
<line x1="234.40" y1="279.50" x2="235.40" y2="279.50" stroke="#777" stroke-width="0.5"/>
<text x="234.20" y="280.50" font-size="3.4" font-weight="normal" fill="#777" text-anchor="end">10<tspan font-size="2.38" dy="-1.1">2</tspan></text>
<line x1="234.40" y1="265.15" x2="235.40" y2="265.15" stroke="#777" stroke-width="0.5"/>
<text x="234.20" y="266.15" font-size="3.4" font-weight="normal" fill="#777" text-anchor="end">10<tspan font-size="2.38" dy="-1.1">3</tspan></text>
<line x1="234.40" y1="250.80" x2="235.40" y2="250.80" stroke="#777" stroke-width="0.5"/>
<text x="234.20" y="251.80" font-size="3.4" font-weight="normal" fill="#777" text-anchor="end">10<tspan font-size="2.38" dy="-1.1">4</tspan></text>
<line x1="235.40" y1="308.20" x2="235.40" y2="309.20" stroke="#777" stroke-width="0.5"/>
<text x="235.40" y="316.00" font-size="3.4" font-weight="normal" fill="#777" text-anchor="middle">10<tspan font-size="2.38" dy="-1.1">0</tspan></text>
<line x1="249.90" y1="308.20" x2="249.90" y2="309.20" stroke="#777" stroke-width="0.5"/>
<text x="249.90" y="316.00" font-size="3.4" font-weight="normal" fill="#777" text-anchor="middle">10<tspan font-size="2.38" dy="-1.1">1</tspan></text>
<line x1="264.40" y1="308.20" x2="264.40" y2="309.20" stroke="#777" stroke-width="0.5"/>
<text x="264.40" y="316.00" font-size="3.4" font-weight="normal" fill="#777" text-anchor="middle">10<tspan font-size="2.38" dy="-1.1">2</tspan></text>
<line x1="278.90" y1="308.20" x2="278.90" y2="309.20" stroke="#777" stroke-width="0.5"/>
<text x="278.90" y="316.00" font-size="3.4" font-weight="normal" fill="#777" text-anchor="middle">10<tspan font-size="2.38" dy="-1.1">3</tspan></text>
<line x1="293.40" y1="308.20" x2="293.40" y2="309.20" stroke="#777" stroke-width="0.5"/>
<text x="293.40" y="316.00" font-size="3.4" font-weight="normal" fill="#777" text-anchor="middle">10<tspan font-size="2.38" dy="-1.1">4</tspan></text>
<text x="241.51" y="257.40" font-size="5.4" font-weight="normal" fill="#111" stroke="#111" stroke-width="0.2" textLength="6.71" lengthAdjust="spacingAndGlyphs">0.1</text>
<text x="279.89" y="257.40" font-size="5.4" font-weight="normal" fill="#111" stroke="#111" stroke-width="0.2" textLength="10.74" lengthAdjust="spacingAndGlyphs">40.6</text>
<text x="237.99" y="295.60" font-size="5.4" font-weight="normal" fill="#111" stroke="#111" stroke-width="0.2" textLength="10.10" lengthAdjust="spacingAndGlyphs">33.0</text>
<text x="279.72" y="295.60" font-size="5.4" font-weight="normal" fill="#111" stroke="#111" stroke-width="0.2" textLength="10.82" lengthAdjust="spacingAndGlyphs">26.4</text>
<path d="M380.9 177.6h0M389.0 144.0h0M381.7 166.6h0M374.2 188.6h0M379.7 151.7h0M378.5 145.7h0M374.6 154.2h0M387.8 156.9h0M384.0 154.0h0M379.7 161.2h0M392.5 180.8h0M396.9 165.4h0M389.9 168.9h0M376.7 145.3h0M402.3 143.2h0M366.5 186.6h0M396.6 157.0h0M380.1 186.4h0M379.1 156.4h0M398.3 171.3h0M390.2 172.4h0M403.9 144.4h0M399.8 143.5h0M367.0 161.6h0M383.6 146.2h0" stroke="#999" stroke-width="0.60" stroke-linecap="square" fill="none"/>
<path d="M386.0 128.2h0M382.6 141.5h0M385.8 133.6h0M389.6 133.4h0M384.6 143.1h0M385.2 142.3h0M389.9 135.1h0M393.1 140.0h0M379.1 134.8h0M402.5 139.1h0M387.9 137.9h0M396.5 144.3h0M379.6 145.7h0M379.5 135.4h0M380.7 139.3h0M399.0 140.2h0M387.9 135.8h0M394.6 144.4h0M396.5 133.1h0M380.1 132.3h0M387.1 133.4h0M385.4 140.4h0M388.4 138.2h0M394.4 140.9h0M380.3 137.5h0M396.4 144.5h0M389.6 135.4h0M386.8 135.6h0M394.6 137.5h0M384.5 137.9h0M396.3 134.7h0M388.0 136.0h0M386.9 146.2h0M382.6 138.2h0M383.0 136.2h0M399.2 137.6h0M391.1 138.6h0M387.8 137.5h0M394.6 141.5h0M399.7 139.2h0M381.9 137.6h0M398.7 143.9h0M378.9 138.8h0M393.0 136.1h0M384.2 138.0h0M383.7 141.9h0M390.2 134.9h0M391.2 140.1h0M388.6 135.5h0M395.0 137.6h0M401.6 138.2h0M382.2 132.3h0M383.6 138.1h0M392.0 138.4h0M386.8 141.0h0M386.3 130.4h0M390.3 135.6h0M396.1 134.2h0M397.7 142.0h0M394.7 147.3h0M399.3 135.3h0M386.3 136.0h0M398.1 140.3h0M394.4 138.6h0M382.3 133.7h0M400.3 140.1h0M383.6 141.6h0M395.3 135.0h0M393.2 140.3h0M397.4 142.4h0M395.8 132.8h0M401.7 139.5h0M379.7 137.3h0M379.8 142.6h0M382.8 135.4h0M392.0 135.8h0M388.0 136.9h0M380.4 140.4h0M382.8 138.8h0M390.1 141.8h0M387.7 135.8h0M396.8 136.8h0M389.9 133.4h0M396.3 142.8h0M395.7 138.5h0M390.1 135.2h0M386.3 138.1h0M383.2 136.5h0M385.8 128.8h0M386.6 135.6h0M387.1 133.3h0M382.4 137.5h0M389.2 136.8h0M381.1 142.0h0M397.5 140.6h0M392.2 133.4h0M380.1 128.7h0M386.4 132.1h0M384.4 133.7h0M381.9 135.8h0M388.8 139.0h0M382.5 136.6h0M381.8 133.9h0M393.0 141.2h0M388.9 133.5h0M392.2 141.5h0M387.6 142.9h0M388.9 140.5h0M384.8 142.0h0M387.1 141.3h0" stroke="#999" stroke-width="0.60" stroke-linecap="square" fill="none"/>
<path d="M355.7 173.7h0M350.7 182.5h0M356.4 171.7h0M356.8 177.5h0M349.5 177.9h0M341.7 169.9h0M348.9 179.0h0M347.5 174.2h0M354.8 184.2h0M353.7 183.2h0M347.3 173.0h0M351.3 173.0h0M346.7 185.7h0M348.4 168.7h0M352.2 186.9h0M349.9 183.0h0M347.1 171.8h0M345.7 174.1h0M359.6 167.5h0M358.5 168.4h0M348.2 180.4h0M353.0 176.8h0M340.4 177.4h0M348.3 176.2h0M343.2 171.9h0M342.4 181.4h0M348.1 178.7h0M345.7 171.7h0M356.6 168.7h0M343.2 172.1h0M354.5 169.7h0M354.3 170.6h0M357.7 183.6h0M346.9 173.6h0M344.9 176.3h0M355.8 165.6h0M354.5 166.4h0M344.8 163.4h0M361.1 175.4h0M350.8 170.6h0M355.4 161.3h0M349.6 189.3h0M347.4 175.1h0M353.2 169.7h0M349.6 181.2h0M350.6 177.4h0M347.6 177.1h0M349.8 184.5h0M353.5 173.4h0M353.7 169.0h0M354.6 168.1h0M347.0 176.4h0M356.2 174.9h0M348.9 171.4h0M358.5 181.9h0M349.0 165.9h0M345.2 178.8h0M345.5 180.8h0M351.5 176.9h0M353.1 178.2h0M344.8 172.9h0M362.4 167.1h0M346.9 181.9h0M348.6 169.7h0M342.2 178.5h0M355.1 184.1h0M349.8 181.8h0M343.8 176.1h0M345.8 176.1h0M353.6 182.0h0M344.1 183.2h0M346.9 168.3h0M348.6 165.5h0M349.5 176.9h0M348.4 178.5h0M347.8 175.0h0M341.6 175.3h0M344.8 172.1h0M349.0 176.2h0M340.4 164.8h0M347.8 178.1h0M351.5 180.8h0M356.7 178.2h0M349.4 168.3h0M344.3 172.0h0M351.0 176.4h0M349.5 174.0h0M353.0 176.4h0M351.1 177.0h0M346.5 168.3h0M352.2 177.7h0M348.3 172.3h0M362.0 170.1h0M348.3 176.7h0M343.2 175.8h0M359.4 181.1h0M353.0 178.9h0M350.1 181.2h0M348.6 172.3h0M350.1 180.9h0M351.3 179.4h0M362.4 183.7h0M347.8 169.5h0M351.0 168.6h0M353.5 171.6h0M354.8 183.9h0M345.7 165.8h0M346.1 173.6h0M355.2 165.1h0M355.3 188.1h0M352.8 178.5h0M349.4 167.4h0M352.4 177.5h0M353.5 177.8h0M358.1 166.3h0M343.2 172.6h0M345.9 179.5h0M347.8 186.3h0M357.9 180.0h0M347.4 179.0h0M354.0 168.1h0M351.4 179.6h0M350.7 185.2h0M356.2 169.6h0M350.2 169.6h0M352.7 169.4h0M354.6 177.5h0M354.8 174.1h0M341.5 186.5h0M348.6 183.9h0M351.9 179.4h0M359.6 177.2h0M357.2 165.4h0M354.3 173.4h0M348.8 175.1h0M351.4 185.8h0M345.6 182.6h0M347.2 178.0h0M347.3 179.3h0M355.1 172.4h0M349.8 165.8h0M351.2 180.6h0M346.4 182.3h0M341.9 171.8h0M349.6 174.5h0M349.1 179.7h0M346.9 166.8h0M342.7 188.7h0M357.5 178.1h0M344.9 175.0h0M354.3 182.9h0M344.6 179.9h0M350.9 182.2h0M357.1 172.8h0M341.5 177.6h0M359.3 179.5h0M343.8 180.9h0M346.4 175.3h0M350.0 184.8h0M344.4 171.5h0M340.7 178.2h0M347.0 177.7h0M343.6 172.7h0M355.2 173.9h0M352.9 178.4h0M347.6 164.9h0M354.9 176.1h0M354.9 161.9h0M340.4 161.1h0M344.7 181.8h0M352.6 174.8h0M350.2 179.9h0M347.8 177.6h0M350.3 160.8h0M347.4 183.8h0M347.3 174.1h0M346.2 171.8h0M355.7 173.3h0M343.9 154.8h0M346.4 162.2h0M353.4 162.5h0M354.2 178.0h0M345.2 179.8h0M340.6 167.2h0M341.6 167.8h0M354.3 166.3h0M343.2 168.8h0M350.6 172.8h0M354.2 170.4h0M342.4 171.7h0M349.7 168.9h0M351.0 186.8h0M346.3 175.2h0M356.9 170.7h0M344.8 167.8h0M351.6 178.3h0M348.6 175.2h0M356.4 180.5h0M341.7 174.8h0M350.0 179.5h0M348.1 170.6h0M346.8 163.3h0M349.2 170.9h0M351.9 168.1h0M346.9 168.4h0M343.5 179.3h0M346.8 177.7h0M343.2 175.4h0M340.0 171.7h0M346.5 178.5h0M350.3 173.6h0M353.9 176.0h0M352.2 179.7h0M348.9 172.8h0M351.1 172.0h0M351.4 181.9h0M354.0 172.2h0M342.2 174.3h0M348.6 181.9h0M347.1 173.3h0M353.3 171.6h0M348.4 185.8h0M357.4 178.8h0M350.7 168.4h0M352.3 175.1h0M350.5 171.3h0M349.2 173.5h0M351.0 184.0h0M351.2 163.9h0M343.9 164.4h0M344.9 178.3h0M351.4 170.8h0M350.7 169.8h0M341.4 165.6h0M344.5 183.9h0M341.9 182.8h0M356.5 173.5h0M349.0 170.7h0M349.1 178.9h0M349.3 181.1h0M355.7 176.9h0M351.0 174.3h0M351.1 167.4h0M351.4 176.0h0M344.5 188.6h0M343.9 169.0h0M350.7 162.1h0M344.9 164.8h0M343.9 173.8h0M351.0 181.8h0M353.6 182.3h0M352.4 171.6h0M355.3 171.5h0M345.8 184.6h0M353.5 176.1h0M353.3 180.3h0M341.7 174.0h0M342.7 175.4h0M345.5 183.5h0M352.0 169.4h0M349.1 166.8h0M349.4 178.2h0M350.6 162.1h0M347.4 177.9h0M350.9 182.2h0M342.1 178.0h0M345.6 175.9h0M351.4 179.1h0M346.0 175.8h0M342.8 165.5h0M352.2 174.3h0M340.3 169.1h0M349.3 184.7h0M354.9 179.8h0M351.8 177.2h0M351.5 173.1h0M358.8 184.2h0M348.7 168.3h0M360.5 171.0h0M355.8 187.0h0M344.0 176.5h0M347.3 178.0h0M350.9 187.3h0M352.4 174.6h0M355.4 172.9h0M347.2 189.2h0M344.7 171.4h0M349.4 167.8h0M344.9 171.1h0M347.1 168.2h0M343.3 175.7h0M362.4 179.4h0M353.3 164.8h0M349.0 166.9h0M353.4 173.1h0M349.4 174.0h0M346.0 164.7h0M352.4 165.6h0M342.7 172.7h0M345.3 176.3h0M354.7 176.2h0M350.3 174.8h0M353.9 162.6h0M351.2 168.6h0M342.4 174.6h0M347.0 178.4h0M355.2 159.5h0M348.8 187.3h0M353.9 184.0h0M349.7 165.3h0M343.0 179.2h0M354.4 169.9h0M347.7 176.3h0M358.1 188.8h0M348.6 186.5h0M346.3 169.4h0M351.0 175.8h0M347.2 173.6h0M354.6 170.7h0M349.7 177.2h0M354.5 175.3h0M358.7 173.1h0M345.9 171.6h0M354.7 176.4h0M344.7 176.9h0M352.1 179.2h0M344.9 180.6h0M359.5 171.9h0M353.3 164.5h0M349.4 176.0h0M346.0 172.7h0M353.7 185.8h0M348.0 163.9h0M356.2 178.6h0M353.0 175.8h0M362.0 175.2h0M352.0 162.6h0M346.0 170.2h0M349.1 176.9h0M345.1 185.9h0M343.4 171.7h0M350.5 166.5h0M352.4 178.8h0M347.6 187.1h0M349.7 176.5h0M343.9 163.8h0M345.7 172.6h0M346.7 179.7h0M346.1 171.3h0M343.2 180.5h0M347.0 176.1h0M351.4 178.3h0M356.0 173.4h0M348.3 179.3h0M351.6 173.1h0M349.5 171.4h0M353.2 180.8h0M349.3 186.9h0M340.8 173.2h0M358.7 171.9h0M340.4 183.8h0M352.2 166.9h0M353.5 168.0h0M341.8 173.7h0M346.6 167.5h0M347.2 168.1h0M349.6 174.5h0M353.3 171.7h0M341.9 166.1h0M347.9 184.7h0M353.9 170.5h0M354.4 167.1h0M354.8 172.2h0M353.5 178.8h0M347.7 176.8h0M343.4 174.2h0M353.1 175.3h0M343.7 181.6h0M340.1 169.5h0M351.2 166.8h0M357.7 181.8h0M346.1 171.1h0M342.0 165.6h0M351.7 178.8h0M351.2 176.4h0M346.2 177.0h0M341.1 174.8h0M357.4 183.3h0M346.7 172.5h0M356.9 186.4h0M341.0 171.9h0M350.5 182.7h0M344.6 178.9h0M351.6 173.8h0M347.4 181.6h0M353.0 167.6h0M350.4 166.0h0M345.1 166.3h0M341.9 170.2h0M343.8 178.2h0M353.7 173.1h0M343.1 180.0h0M353.3 179.0h0M354.6 173.3h0M342.3 171.4h0M352.4 169.7h0M345.4 165.6h0M342.8 180.2h0M351.8 167.1h0M343.3 171.0h0M352.3 167.1h0M348.3 160.7h0M342.3 177.5h0M354.2 167.2h0M345.0 179.9h0M347.1 171.2h0M352.1 176.0h0M355.4 179.9h0M346.1 173.9h0M348.9 165.9h0M343.9 181.1h0M340.5 181.2h0M350.8 173.8h0M352.2 177.8h0M355.9 172.1h0M348.0 173.1h0M359.7 180.9h0M344.2 172.6h0M345.4 174.8h0M351.7 170.2h0M348.5 171.5h0M349.6 181.3h0M340.9 183.3h0M347.2 184.5h0M351.6 182.8h0M352.4 181.8h0M349.6 169.3h0M353.0 179.4h0M360.9 161.7h0M348.2 181.7h0M342.4 173.3h0M361.0 184.0h0M344.5 184.1h0M355.8 179.9h0M351.4 176.3h0M344.5 171.4h0M353.4 175.7h0M359.5 172.6h0M350.9 177.3h0M349.7 169.5h0M357.6 170.5h0M353.3 172.9h0M342.8 184.0h0M351.7 172.5h0M353.5 174.2h0M346.9 188.9h0M348.2 173.8h0M343.4 170.0h0M352.9 178.5h0M349.4 170.3h0M353.2 163.8h0M347.5 173.2h0M344.7 175.9h0M345.7 169.7h0M359.3 179.7h0M356.0 175.2h0M354.7 180.0h0M348.2 176.6h0M349.2 152.1h0M341.8 175.1h0M352.9 171.2h0M355.7 183.3h0M347.2 184.2h0M359.1 178.0h0M344.1 184.5h0M348.6 172.5h0M350.1 171.5h0M355.4 180.0h0M356.2 178.8h0M345.1 174.0h0M354.3 172.4h0M365.6 173.4h0M346.3 182.5h0M353.6 174.8h0M348.2 177.8h0M354.1 180.0h0M347.8 177.8h0M354.1 180.0h0M345.2 173.5h0M350.5 181.0h0M352.9 174.2h0M349.6 186.4h0M346.1 177.0h0M358.1 177.2h0M347.4 174.3h0M355.3 178.1h0M348.0 180.8h0M351.9 175.7h0M351.2 176.6h0M347.6 172.0h0M349.6 168.8h0M342.6 183.5h0M348.2 174.8h0M348.8 175.2h0M349.6 175.4h0M345.1 181.1h0M345.7 181.7h0M355.0 174.0h0M345.8 177.4h0M343.7 175.5h0M345.9 178.5h0M354.3 169.4h0M358.3 171.2h0M358.0 174.4h0M345.9 170.1h0M343.5 183.8h0M349.0 186.6h0M348.4 159.7h0M354.1 172.6h0M348.2 185.2h0M348.1 182.6h0M349.5 170.1h0M352.3 171.1h0M356.3 181.2h0M349.8 179.0h0M352.6 173.2h0M354.4 173.5h0M352.9 168.8h0M350.1 177.7h0M345.2 172.3h0M346.6 179.7h0M345.6 177.9h0M357.9 177.3h0M340.7 175.9h0M355.3 173.2h0M355.6 179.1h0M351.9 173.3h0M346.7 173.4h0M349.9 178.5h0M351.9 173.1h0M349.9 177.6h0M340.6 170.1h0M345.2 173.8h0M348.1 173.4h0M344.8 179.5h0M351.1 164.4h0M349.7 167.8h0M358.9 172.1h0M347.4 175.6h0M348.5 174.7h0M358.1 176.6h0M354.2 182.4h0M344.2 186.1h0M353.4 181.3h0M344.8 180.4h0M351.9 171.6h0M362.2 178.8h0M348.3 176.4h0M354.6 182.5h0M352.8 183.0h0M357.7 167.1h0M346.9 169.0h0M350.1 184.5h0M353.2 168.3h0M348.0 181.8h0M346.7 174.5h0M351.3 163.3h0M353.9 177.4h0M352.7 168.8h0M345.4 171.3h0M351.0 175.6h0M350.3 186.8h0M356.8 170.5h0M346.0 186.3h0M347.9 184.1h0M358.4 171.6h0M348.1 175.7h0M344.9 168.8h0M347.4 180.7h0M347.1 173.8h0M347.1 166.3h0M357.8 159.9h0M346.0 178.8h0M341.9 179.1h0M356.5 169.5h0M350.8 167.9h0M352.4 175.7h0M350.8 184.0h0M352.2 183.9h0M353.1 167.3h0M351.0 178.3h0M341.7 183.8h0M350.0 177.5h0M344.7 175.6h0M351.3 173.0h0M350.0 161.3h0M357.1 167.9h0M345.0 178.7h0M344.6 177.0h0M344.3 189.5h0M352.6 187.8h0M344.0 179.4h0M344.3 178.9h0M353.3 164.7h0M343.3 167.5h0M341.3 170.4h0M344.3 165.7h0M350.1 178.6h0M342.4 171.5h0M349.6 173.6h0M345.7 180.4h0" stroke="#4a4a4a" stroke-width="0.60" stroke-linecap="square" fill="none"/>
<path d="M351.4 176.5h0M348.5 180.8h0M353.9 172.9h0M348.7 178.2h0M346.8 175.6h0M349.2 171.9h0M348.4 169.0h0M347.5 167.6h0M355.4 179.2h0M352.5 175.2h0M351.8 178.4h0M351.9 177.3h0M346.5 175.6h0M347.5 170.3h0M345.8 175.6h0M352.0 169.7h0M353.9 179.1h0M347.9 172.7h0M348.8 177.5h0M347.9 170.6h0M350.0 167.4h0M349.4 178.0h0M349.9 176.8h0M350.4 176.6h0M349.4 171.5h0M348.4 174.0h0M352.5 179.6h0M350.2 171.7h0M347.0 173.6h0M352.9 175.3h0M348.8 171.7h0M351.5 175.2h0M348.9 174.5h0M353.7 173.7h0M353.7 178.3h0M349.1 177.1h0M348.7 171.5h0M348.2 171.2h0M350.4 174.2h0M350.6 176.9h0M340.3 175.2h0M344.0 174.7h0M346.5 174.5h0M352.8 168.6h0M349.5 173.9h0M343.7 176.3h0M349.1 172.5h0M347.0 184.8h0M347.9 168.3h0M346.4 173.0h0M347.9 173.9h0M346.1 176.0h0M347.6 169.7h0M346.7 172.9h0M351.4 175.8h0M348.1 174.3h0M349.6 180.9h0M347.3 175.7h0M351.0 171.1h0M349.5 174.7h0M347.7 176.1h0M351.9 177.9h0M348.5 174.8h0M355.6 170.6h0M349.6 177.1h0M349.4 176.4h0M349.5 176.7h0M352.6 173.5h0M349.6 174.0h0M347.9 174.1h0M345.8 176.7h0M353.8 179.8h0M352.6 171.0h0M353.3 171.8h0M348.9 180.3h0M346.0 177.0h0M349.8 173.7h0M346.5 175.6h0M347.7 177.6h0M352.4 169.6h0M347.6 173.1h0M345.7 170.5h0M349.2 173.5h0M344.4 172.4h0M350.5 170.2h0M346.4 179.4h0M352.7 168.9h0M345.2 175.4h0M345.7 173.4h0M347.7 176.0h0M341.9 166.9h0M345.6 177.5h0M348.6 168.6h0M350.4 176.5h0M348.3 173.1h0M350.2 178.2h0M349.4 176.0h0M348.9 172.9h0M346.4 175.0h0M348.2 173.4h0M351.6 175.8h0M351.4 169.0h0M350.6 172.3h0M346.7 171.4h0M352.4 176.9h0M347.0 170.4h0M349.0 172.7h0M353.6 169.4h0M343.9 173.4h0M349.0 174.6h0M351.1 181.0h0M348.0 172.4h0M344.1 175.0h0M351.4 173.3h0M352.3 174.3h0M353.2 175.3h0M346.0 172.1h0M344.7 168.5h0M349.7 177.1h0M354.5 174.0h0M348.3 170.5h0M351.8 175.5h0M347.3 176.5h0M350.6 168.0h0M351.1 174.6h0M347.9 172.8h0M353.9 179.3h0M354.1 170.4h0M347.2 177.2h0M345.6 171.8h0M343.9 180.3h0M352.0 175.7h0M349.6 172.8h0M347.9 176.2h0M347.0 178.3h0M347.6 171.3h0M352.6 173.7h0M350.6 172.8h0M342.7 176.0h0M345.2 177.8h0M344.7 168.0h0M349.9 175.6h0M349.3 170.2h0M351.5 169.4h0M347.7 171.6h0M347.9 177.0h0M347.2 176.1h0M350.9 168.6h0M345.7 172.9h0M347.3 175.2h0M343.6 176.6h0M351.1 173.6h0M345.1 174.2h0M347.5 176.1h0M348.8 176.6h0M347.8 179.0h0M342.5 170.8h0M350.4 169.2h0M351.1 170.2h0M349.3 171.2h0M347.8 174.8h0M348.7 172.9h0M355.0 174.2h0M346.3 177.3h0M351.3 178.2h0M354.0 171.1h0M352.0 178.0h0M349.0 175.0h0M340.6 172.3h0M354.0 168.3h0M347.5 175.2h0M350.6 179.6h0M344.1 174.3h0M351.4 169.9h0M348.9 180.4h0M352.7 176.0h0M341.7 173.8h0M350.1 173.2h0M348.8 184.4h0M348.4 171.0h0M349.7 173.2h0M348.1 173.9h0M351.2 175.0h0M345.6 173.8h0M350.3 172.7h0M352.2 176.8h0M346.2 175.3h0M354.6 179.3h0M348.8 177.2h0M347.1 169.4h0M350.6 175.0h0M350.4 174.1h0M349.9 172.5h0M350.3 176.9h0M348.8 176.9h0M344.0 171.6h0M353.0 180.0h0M349.7 173.9h0M345.4 175.4h0M351.2 169.3h0M350.6 175.8h0M350.2 170.5h0M350.5 169.3h0M353.2 174.6h0M345.7 178.6h0M352.2 172.1h0M355.2 170.9h0M349.9 178.1h0M342.6 177.5h0M348.8 174.1h0M346.0 175.3h0M345.9 171.0h0M347.7 170.1h0M353.4 169.8h0M346.9 173.2h0M349.0 176.8h0M351.3 173.2h0M347.9 174.3h0M351.3 176.5h0M347.6 167.4h0M355.0 177.3h0M349.7 175.3h0M347.5 170.9h0M348.1 173.5h0M347.2 169.4h0M348.1 176.1h0M347.6 174.3h0M343.2 173.5h0M348.7 170.2h0M344.2 175.6h0M346.7 175.8h0M347.8 176.3h0M348.1 169.2h0M348.8 173.1h0M350.8 172.7h0M347.9 177.0h0M352.3 176.7h0M351.9 175.7h0M351.2 177.1h0M350.1 174.4h0M349.4 182.1h0M349.0 173.4h0M348.0 174.1h0M349.7 170.5h0M343.5 175.2h0M344.5 175.1h0M349.4 178.0h0M353.7 175.4h0M347.4 170.3h0M346.8 174.3h0M343.2 174.4h0M349.0 176.3h0M348.1 174.5h0M346.9 172.7h0M344.0 174.6h0M353.3 174.7h0M350.0 171.0h0M353.0 171.7h0M351.2 174.6h0M346.3 177.6h0M349.0 174.8h0M350.3 174.1h0M347.9 175.7h0M347.9 174.4h0M347.1 169.3h0M347.1 172.6h0M349.0 178.1h0M344.3 174.6h0M342.8 170.7h0M347.6 166.8h0M343.8 174.7h0M349.2 173.8h0M346.7 181.3h0M348.5 171.4h0M353.7 176.2h0M348.0 178.1h0M349.4 176.3h0M349.7 170.8h0M351.7 174.7h0M346.2 171.7h0M351.7 173.0h0M349.1 176.4h0M349.4 169.2h0M350.8 177.3h0M351.4 179.5h0M350.0 176.8h0M353.5 173.2h0M353.9 179.9h0M351.2 180.3h0M351.4 171.3h0M352.2 175.3h0M350.2 174.7h0M352.8 176.0h0M347.1 175.8h0M351.0 171.8h0M347.8 172.9h0M347.3 175.4h0M351.8 180.4h0M352.3 177.6h0M352.2 178.6h0M347.9 176.5h0M349.9 173.8h0M347.7 172.5h0M348.2 170.1h0M350.5 174.1h0M349.3 175.3h0M351.0 172.2h0M348.7 168.9h0M342.8 167.8h0M353.3 168.2h0M350.3 179.1h0M347.7 179.6h0M354.2 177.3h0M355.6 176.3h0M347.0 175.9h0M347.8 169.9h0M345.4 181.8h0M347.5 174.1h0M347.2 174.7h0M348.4 172.9h0M345.6 169.6h0M346.9 175.2h0M354.8 177.7h0M354.1 175.8h0M348.8 169.9h0M349.1 167.2h0M348.2 179.6h0M350.0 178.0h0M348.0 169.7h0M347.7 173.0h0M352.4 180.8h0M347.0 173.1h0M348.7 173.1h0M345.6 174.6h0M350.1 175.6h0M345.7 173.9h0M344.2 177.3h0M346.2 173.4h0M347.8 172.4h0M346.1 168.5h0M353.9 175.1h0M349.8 181.2h0M348.8 176.1h0M349.1 178.2h0M350.5 175.3h0M348.4 175.2h0M352.3 167.5h0M348.7 172.9h0M348.2 167.8h0M351.1 171.5h0M348.5 172.6h0M344.4 172.8h0M343.9 171.2h0M348.2 174.3h0M349.2 173.9h0M355.1 175.7h0M345.7 172.3h0M347.3 173.7h0M347.4 171.5h0M353.7 174.5h0M348.1 173.5h0M348.5 178.9h0M350.4 178.0h0M340.4 175.4h0M352.1 180.8h0M349.2 168.6h0M350.7 172.3h0M344.1 172.3h0M352.1 178.3h0M351.1 170.9h0M356.1 170.5h0M348.9 169.6h0M352.8 175.8h0M351.6 174.6h0M348.9 174.9h0M343.8 177.6h0M351.7 173.0h0M349.1 175.3h0M353.5 175.8h0M349.2 172.7h0M344.9 172.4h0M349.3 173.5h0M349.3 176.8h0M350.3 175.3h0M351.0 175.0h0M349.0 175.9h0M344.3 178.5h0M345.5 177.1h0M349.2 178.0h0M349.2 171.2h0M352.1 175.0h0M349.5 174.6h0M351.9 177.1h0M349.8 169.2h0M348.0 174.7h0M354.2 175.6h0M348.9 178.3h0M348.8 174.3h0M349.6 169.4h0M351.8 175.8h0M348.4 170.6h0M349.8 179.0h0M347.4 170.9h0M350.3 169.1h0M342.9 172.9h0M347.2 173.5h0M347.6 175.5h0M348.5 172.4h0M347.9 176.5h0M351.8 177.4h0M351.1 163.5h0M346.4 173.4h0M349.7 169.1h0M353.1 175.4h0M347.4 174.9h0M348.2 171.9h0M350.6 172.9h0M345.2 172.3h0M348.8 170.8h0M352.7 170.8h0M354.1 177.4h0M346.5 174.8h0M352.5 173.8h0M345.8 174.8h0M354.8 169.5h0M350.7 174.4h0M348.9 173.1h0M348.3 177.8h0M350.9 171.1h0M353.6 170.1h0M351.0 175.0h0M352.5 175.6h0M352.2 174.3h0M351.9 175.6h0M355.2 172.1h0M352.5 176.0h0M349.7 172.6h0M350.5 169.6h0M345.4 176.8h0M344.9 179.2h0M348.4 175.3h0M349.4 175.8h0M348.4 173.2h0M348.9 177.9h0M352.4 178.7h0M350.2 173.8h0M344.5 176.6h0M351.6 173.1h0M351.5 178.7h0M349.5 177.9h0" stroke="#222" stroke-width="0.64" stroke-linecap="square" fill="none"/>
<path d="M394.9 130.7h0M388.1 131.1h0M390.0 131.0h0M388.9 131.3h0M381.1 129.9h0M392.0 132.3h0M388.8 130.6h0M381.3 129.3h0M384.1 129.9h0M380.0 130.2h0M385.1 129.2h0M394.3 132.8h0M384.2 129.5h0M384.4 130.2h0M391.5 131.1h0M378.9 130.1h0M379.6 130.0h0M390.4 131.0h0M379.8 130.5h0M388.1 130.8h0M391.7 131.1h0M387.3 130.4h0M378.9 130.8h0M381.1 130.4h0M386.9 130.7h0M393.9 132.1h0M388.9 130.6h0M389.6 130.8h0M387.8 130.9h0M383.2 130.0h0M387.9 131.3h0M377.9 132.0h0M384.7 130.1h0M391.3 132.3h0M381.1 130.6h0M388.6 131.4h0M390.1 130.5h0M380.3 130.7h0M392.4 131.4h0M381.7 130.3h0M393.8 132.8h0M383.5 131.0h0M388.2 130.3h0M393.9 131.8h0M391.8 130.9h0M386.1 129.1h0M380.9 129.8h0M388.2 130.4h0M387.7 130.5h0M378.6 130.1h0M384.2 130.3h0M393.2 132.4h0M386.8 129.1h0M380.7 131.1h0M388.7 130.5h0M385.4 129.9h0M393.3 131.8h0M386.0 130.8h0M378.0 130.3h0M380.3 130.3h0M380.6 130.7h0M393.9 132.1h0M383.8 130.3h0M383.6 130.4h0M394.4 131.8h0M381.1 130.6h0M388.4 130.3h0M393.7 132.4h0M393.3 131.6h0M380.3 130.0h0M385.7 130.1h0M381.9 130.6h0M389.6 131.3h0M381.8 130.5h0M380.6 129.9h0M382.2 129.6h0M379.7 129.4h0M389.9 131.2h0M382.4 130.0h0M384.4 131.1h0M382.3 131.3h0M384.1 130.6h0M382.8 130.4h0M383.6 131.0h0M389.6 131.9h0M380.5 129.7h0M389.3 131.3h0M383.5 131.0h0M379.0 128.7h0M379.6 130.0h0M393.0 132.0h0M378.2 129.8h0M382.3 130.5h0M392.7 130.7h0M379.0 131.1h0M381.2 130.8h0M382.2 130.1h0M391.8 131.9h0M379.4 129.3h0M393.5 133.0h0" stroke="#555" stroke-width="0.60" stroke-linecap="square" fill="none"/>
<path d="M398.8 134.3h0M393.3 132.3h0M395.9 132.7h0M393.8 132.4h0M398.7 135.6h0M401.3 135.3h0M399.2 135.0h0M400.4 136.0h0M396.0 133.8h0M393.4 131.8h0M396.8 133.9h0M394.8 132.1h0M395.9 133.1h0M395.6 132.1h0M394.7 132.7h0M399.4 135.1h0M398.2 135.3h0M400.4 136.1h0M402.5 136.1h0M396.1 131.0h0M401.4 136.8h0M400.0 135.7h0M398.5 134.0h0M402.3 136.2h0M397.8 134.3h0M393.3 131.9h0M393.9 133.2h0M396.0 133.2h0M399.9 134.4h0M398.9 133.3h0M399.5 134.8h0M393.2 132.0h0M395.6 132.5h0M398.7 133.5h0M399.4 134.4h0M397.0 133.9h0M395.3 132.4h0M396.3 132.5h0M400.0 135.5h0M399.5 135.6h0M395.6 132.4h0M402.0 136.1h0M393.7 131.4h0M395.4 132.6h0M397.1 133.9h0M400.5 135.6h0M398.2 134.7h0M399.2 135.2h0M401.7 136.5h0M396.5 133.5h0M395.1 131.8h0M396.7 134.1h0M398.4 134.2h0M394.2 132.6h0M393.7 131.1h0M400.0 134.8h0M402.1 136.7h0M402.0 135.7h0M396.7 133.2h0M397.3 133.9h0M401.3 134.8h0M402.5 136.1h0M396.9 132.2h0M402.3 135.7h0M399.9 134.4h0M394.5 132.3h0M397.1 134.2h0M393.2 131.4h0M397.0 133.4h0M398.3 133.6h0M400.6 135.4h0M396.1 133.4h0M398.9 135.1h0M399.6 134.3h0M398.4 133.3h0M398.8 134.5h0M397.6 133.4h0M399.3 133.7h0M397.3 134.1h0M401.5 136.2h0M393.9 132.8h0M401.6 135.2h0M400.2 134.9h0M393.1 132.1h0M399.4 135.8h0M396.5 133.3h0M398.2 133.3h0M397.9 134.1h0M399.9 135.2h0M397.9 133.4h0M398.8 135.1h0M395.2 132.6h0M393.9 131.7h0M399.2 135.1h0M402.0 136.9h0M393.8 131.9h0M401.5 136.1h0M396.7 133.4h0M399.3 134.5h0M395.7 132.7h0M399.3 135.3h0M397.1 133.9h0M400.7 135.1h0M396.0 132.2h0M396.6 132.3h0M398.8 134.9h0M394.3 131.6h0M402.4 136.0h0M398.9 134.4h0M402.3 136.1h0M395.0 132.0h0M400.3 134.0h0M394.8 133.1h0M394.0 131.8h0M397.3 133.6h0M397.5 133.8h0M398.7 133.5h0M397.8 133.2h0M394.7 133.1h0M399.5 134.9h0" stroke="#333" stroke-width="0.64" stroke-linecap="square" fill="none"/>
<rect x="339.10" y="122.40" width="67.40" height="67.70" fill="none" stroke="#555" stroke-width="0.9"/>
<line x1="361.70" y1="122.40" x2="361.70" y2="190.10" stroke="#555" stroke-width="0.8"/>
<line x1="339.10" y1="161.50" x2="406.50" y2="161.50" stroke="#555" stroke-width="0.8"/>
<line x1="339.10" y1="190.10" x2="406.50" y2="190.10" stroke="#222" stroke-width="1.6"/>
<line x1="338.10" y1="190.10" x2="339.10" y2="190.10" stroke="#777" stroke-width="0.5"/>
<text x="335.30" y="191.10" font-size="3.4" font-weight="normal" fill="#777" text-anchor="end">10<tspan font-size="2.38" dy="-1.1">0</tspan></text>
<line x1="338.10" y1="173.18" x2="339.10" y2="173.18" stroke="#777" stroke-width="0.5"/>
<text x="335.30" y="174.18" font-size="3.4" font-weight="normal" fill="#777" text-anchor="end">10<tspan font-size="2.38" dy="-1.1">1</tspan></text>
<line x1="338.10" y1="156.25" x2="339.10" y2="156.25" stroke="#777" stroke-width="0.5"/>
<text x="335.30" y="157.25" font-size="3.4" font-weight="normal" fill="#777" text-anchor="end">10<tspan font-size="2.38" dy="-1.1">2</tspan></text>
<line x1="338.10" y1="139.32" x2="339.10" y2="139.32" stroke="#777" stroke-width="0.5"/>
<text x="335.30" y="140.32" font-size="3.4" font-weight="normal" fill="#777" text-anchor="end">10<tspan font-size="2.38" dy="-1.1">3</tspan></text>
<line x1="338.10" y1="122.40" x2="339.10" y2="122.40" stroke="#777" stroke-width="0.5"/>
<text x="335.30" y="123.40" font-size="3.4" font-weight="normal" fill="#777" text-anchor="end">10<tspan font-size="2.38" dy="-1.1">4</tspan></text>
<line x1="339.10" y1="190.10" x2="339.10" y2="191.10" stroke="#777" stroke-width="0.5"/>
<text x="339.10" y="200.00" font-size="3.4" font-weight="normal" fill="#777" text-anchor="middle">10<tspan font-size="2.38" dy="-1.1">0</tspan></text>
<line x1="355.95" y1="190.10" x2="355.95" y2="191.10" stroke="#777" stroke-width="0.5"/>
<text x="355.95" y="200.00" font-size="3.4" font-weight="normal" fill="#777" text-anchor="middle">10<tspan font-size="2.38" dy="-1.1">1</tspan></text>
<line x1="372.80" y1="190.10" x2="372.80" y2="191.10" stroke="#777" stroke-width="0.5"/>
<text x="372.80" y="200.00" font-size="3.4" font-weight="normal" fill="#777" text-anchor="middle">10<tspan font-size="2.38" dy="-1.1">2</tspan></text>
<line x1="389.65" y1="190.10" x2="389.65" y2="191.10" stroke="#777" stroke-width="0.5"/>
<text x="389.65" y="200.00" font-size="3.4" font-weight="normal" fill="#777" text-anchor="middle">10<tspan font-size="2.38" dy="-1.1">3</tspan></text>
<line x1="406.50" y1="190.10" x2="406.50" y2="191.10" stroke="#777" stroke-width="0.5"/>
<text x="406.50" y="200.00" font-size="3.4" font-weight="normal" fill="#777" text-anchor="middle">10<tspan font-size="2.38" dy="-1.1">4</tspan></text>
<text x="346.34" y="135.80" font-size="6.0" fill="#111" stroke="#111" stroke-width="0.3" textLength="9.02" lengthAdjust="spacingAndGlyphs">0.5</text>
<text x="365.64" y="135.80" font-size="6.0" fill="#111" stroke="#111" stroke-width="0.3" textLength="11.60" lengthAdjust="spacingAndGlyphs">15.7</text>
<text x="344.35" y="188.30" font-size="6.0" fill="#111" stroke="#111" stroke-width="0.3" textLength="12.39" lengthAdjust="spacingAndGlyphs">74.3</text>
<text x="366.57" y="188.30" font-size="6.0" fill="#111" stroke="#111" stroke-width="0.3" textLength="8.99" lengthAdjust="spacingAndGlyphs">9.5</text>
<path d="M487.6 145.9h0M496.0 129.3h0M486.5 150.1h0M493.6 147.4h0M487.5 167.0h0M491.4 155.9h0M489.7 160.6h0M494.8 143.5h0M488.7 165.6h0M493.2 162.8h0M495.4 131.8h0M486.6 155.8h0M493.1 166.0h0M486.8 155.3h0M493.8 168.8h0M494.6 139.0h0M487.4 152.7h0M494.8 150.4h0M490.4 140.4h0M489.1 160.8h0M495.7 146.1h0M489.8 155.3h0M488.1 160.9h0M489.3 158.5h0M495.0 132.2h0M495.8 130.3h0M490.6 162.5h0M490.9 155.3h0M492.0 134.2h0M494.4 133.5h0M486.1 148.9h0M494.0 135.5h0M495.7 167.1h0M490.1 137.4h0M490.4 167.6h0M495.6 158.1h0M490.1 151.3h0M489.8 156.2h0M494.6 157.1h0M490.7 140.0h0M492.5 148.5h0M488.9 130.8h0M492.8 130.0h0M489.7 167.6h0M493.8 163.7h0M490.9 159.7h0M495.2 132.4h0M491.5 154.2h0M494.6 158.0h0M490.4 146.1h0M492.7 143.9h0M488.7 158.5h0M491.9 128.4h0M492.6 147.8h0M487.9 138.8h0M491.4 146.6h0M495.2 151.2h0M488.0 145.7h0M490.9 164.8h0M494.4 165.0h0" stroke="#888" stroke-width="0.60" stroke-linecap="square" fill="none"/>
<path d="M507.0 152.3h0M507.6 147.6h0M504.8 142.7h0M499.8 182.5h0M503.1 182.1h0M497.4 138.1h0M506.7 148.9h0M499.2 159.6h0M499.8 132.1h0M505.7 151.0h0M489.9 175.8h0M506.3 175.6h0M504.2 137.2h0M505.5 146.8h0M500.4 144.6h0M504.1 170.4h0M507.0 136.2h0M495.9 189.1h0M501.0 135.2h0M506.7 160.8h0M503.8 171.6h0M501.5 186.8h0M504.0 166.1h0M505.0 181.0h0M496.3 160.9h0M496.1 141.7h0M506.3 154.1h0M506.3 165.6h0M504.8 160.9h0M494.0 176.5h0M507.6 161.5h0M499.7 151.8h0M503.9 159.9h0M507.0 160.2h0M506.2 128.6h0M504.0 148.4h0M504.5 163.5h0M502.9 172.2h0M500.4 154.5h0M505.4 174.3h0M499.9 159.2h0M503.9 150.9h0M502.3 143.0h0M506.2 177.5h0M501.8 185.2h0M507.2 173.2h0M504.5 141.7h0M504.3 171.8h0M507.3 159.3h0M501.5 185.3h0M505.7 128.4h0M507.0 175.9h0M498.9 156.9h0M507.1 181.1h0M500.9 165.6h0M503.0 128.5h0M504.9 170.9h0M504.5 161.1h0M501.8 142.8h0M507.1 135.6h0M499.7 152.7h0M500.3 162.8h0M502.2 157.7h0M502.2 129.1h0M497.1 137.2h0M499.1 170.2h0M505.2 161.8h0M500.7 174.1h0M506.7 153.7h0M501.5 143.9h0M507.5 177.5h0M506.7 141.5h0M504.9 131.8h0M504.7 150.9h0M498.8 156.0h0M504.1 141.0h0M502.5 187.2h0M507.3 142.3h0M507.5 135.6h0M494.7 169.0h0M494.7 136.9h0M503.6 145.4h0M496.9 153.7h0M505.8 145.0h0M506.3 168.5h0M485.1 136.7h0M505.7 167.9h0M497.1 135.2h0M500.1 164.0h0M505.0 188.7h0M504.9 176.8h0M497.8 186.7h0M506.7 161.9h0M506.5 137.8h0M504.8 151.0h0M498.7 176.1h0M502.8 136.2h0M505.8 169.2h0M504.5 148.0h0M502.2 184.9h0M505.7 149.7h0M506.9 148.0h0M506.7 144.9h0M503.7 161.5h0M507.1 187.1h0M506.8 161.5h0M499.2 174.0h0M501.4 160.3h0M505.9 133.1h0M498.1 164.4h0M506.2 164.8h0M503.7 165.0h0M502.8 146.5h0M503.9 144.5h0M503.6 148.4h0M502.5 129.9h0M503.6 138.0h0M507.5 145.8h0M491.4 159.8h0M495.0 184.5h0M507.5 171.5h0M506.2 160.0h0M502.1 172.4h0M505.4 155.6h0M492.9 130.9h0M499.9 170.6h0M501.1 171.7h0M507.2 168.6h0M499.4 180.9h0M501.1 176.5h0M504.6 179.4h0M502.7 130.9h0M504.0 164.5h0M504.8 164.8h0M505.3 166.0h0M507.2 144.7h0M506.9 146.8h0M504.1 182.4h0M503.9 165.2h0M506.8 187.5h0M506.6 140.9h0M507.3 164.3h0M502.8 165.2h0M497.6 130.3h0M504.8 166.8h0M503.3 151.8h0M506.6 154.7h0M500.6 139.5h0M494.5 164.9h0M495.6 169.7h0M506.3 183.3h0M500.2 180.2h0M507.1 188.8h0M494.4 188.5h0M504.9 171.4h0M500.2 145.4h0M504.8 161.5h0M499.9 133.2h0M499.2 163.1h0M506.4 146.9h0M505.8 161.3h0M495.0 174.5h0M505.8 131.8h0M500.0 182.3h0M503.5 130.3h0M502.7 158.4h0M501.9 141.5h0M504.2 130.4h0M497.2 157.7h0M504.1 144.2h0M504.1 133.0h0M503.9 179.1h0M506.6 143.2h0M506.3 186.2h0M504.6 165.7h0M504.0 150.0h0M503.5 131.8h0M505.9 181.0h0M499.6 134.7h0M507.3 176.1h0M498.6 160.8h0M507.4 156.2h0M507.0 133.0h0M501.3 154.1h0M502.8 129.0h0M496.4 175.3h0M500.0 171.8h0M499.4 136.4h0M500.3 159.6h0M506.6 139.0h0M507.2 172.1h0M504.0 139.7h0M507.5 138.7h0M499.6 145.6h0M504.7 188.2h0M505.0 178.7h0M503.5 153.0h0M505.0 177.3h0M504.4 150.4h0M496.8 139.6h0M501.2 183.6h0M507.5 130.3h0M505.2 177.2h0M503.0 187.5h0M505.5 133.2h0M504.6 181.3h0M499.1 176.4h0M501.3 130.6h0M500.8 155.5h0M506.0 144.1h0M504.8 151.8h0M504.5 151.7h0M505.2 152.5h0M505.2 128.6h0M504.5 144.8h0M500.9 146.0h0M507.5 168.3h0M502.5 171.1h0M501.4 174.5h0M501.6 167.5h0M503.7 183.4h0M502.4 162.5h0M507.5 147.4h0M507.2 130.5h0M504.1 173.1h0M503.9 162.9h0M499.8 138.1h0M499.5 159.7h0M501.8 186.5h0M507.2 165.5h0M505.4 147.2h0M505.9 178.0h0M498.8 152.5h0M500.3 128.9h0M501.4 132.9h0M502.6 187.6h0M503.6 133.8h0M499.9 176.6h0M499.3 129.9h0M505.5 154.3h0M505.8 145.5h0M505.8 149.3h0M507.7 133.6h0M501.3 152.9h0M501.8 175.1h0M504.0 160.5h0M502.9 136.2h0M504.1 177.9h0M498.9 182.0h0M494.2 156.3h0M501.4 150.3h0M505.8 129.1h0M501.4 132.4h0M504.0 151.3h0M506.5 135.0h0M501.8 188.1h0M498.4 167.9h0M507.1 147.4h0M505.6 164.3h0M501.4 138.4h0M502.1 184.9h0M502.8 159.0h0M506.3 171.4h0M505.9 139.3h0M505.8 157.4h0M506.0 172.3h0M506.6 152.0h0M499.1 132.0h0M506.3 157.1h0M501.5 179.1h0M507.4 156.7h0M499.2 188.7h0M504.2 162.7h0M507.6 182.7h0M505.4 130.0h0M505.5 167.1h0M506.4 159.6h0M502.7 150.2h0M506.1 183.9h0M502.3 133.7h0M501.4 158.1h0M502.5 147.0h0M502.8 187.5h0M505.5 176.5h0M505.4 140.4h0M502.4 135.9h0M500.6 129.5h0M507.2 139.1h0M496.5 185.6h0M505.3 182.1h0M503.3 177.6h0M500.4 152.8h0M504.5 157.9h0M503.2 163.7h0M505.3 178.2h0M503.2 139.2h0M499.5 164.0h0M504.6 136.8h0M506.7 186.2h0M499.8 130.8h0M504.7 188.4h0M505.6 141.3h0M505.7 140.0h0M504.1 154.3h0M507.1 167.5h0M498.7 188.7h0M506.7 157.5h0M506.7 183.7h0M505.2 183.2h0M492.9 189.0h0M498.4 150.3h0M504.6 157.4h0M503.7 129.3h0M503.3 151.8h0M506.6 149.9h0M506.7 135.7h0M507.2 179.6h0M502.5 145.3h0M502.9 136.1h0M504.9 135.2h0M506.0 129.5h0M495.1 174.8h0M507.3 161.0h0M500.4 160.5h0M503.7 153.7h0M506.5 187.8h0M499.0 151.4h0M503.0 157.4h0M501.0 170.8h0M500.1 185.6h0M505.6 181.2h0M493.9 182.7h0M503.9 139.4h0M500.1 186.6h0M505.2 179.1h0M506.5 148.4h0M498.1 177.9h0M500.1 187.1h0M498.1 174.1h0M505.7 173.8h0M505.7 180.0h0M505.8 182.5h0M501.5 176.4h0M498.7 132.8h0M502.7 140.9h0M506.7 135.5h0M502.9 156.9h0M505.1 132.1h0M505.0 162.1h0M501.5 185.3h0M502.7 188.9h0M502.3 130.3h0M491.9 170.3h0M506.5 136.9h0M498.3 181.5h0M500.4 129.9h0M504.3 134.4h0M503.5 148.1h0M504.8 128.3h0M502.4 169.1h0M504.3 140.8h0M507.2 172.6h0M504.9 186.9h0M504.0 157.2h0M507.0 157.1h0M499.2 147.5h0M506.0 182.9h0M507.0 172.2h0M507.4 128.6h0M507.5 146.5h0M504.5 172.7h0M502.8 130.8h0M501.1 181.2h0M498.6 184.6h0M501.1 175.1h0M504.6 178.3h0M498.2 165.0h0M505.0 178.1h0M507.0 157.0h0M503.0 153.3h0M506.5 171.6h0M505.7 156.8h0M498.9 147.3h0M503.6 144.4h0M501.6 155.1h0M502.6 151.7h0M499.7 174.8h0M506.2 176.6h0M504.2 177.5h0M502.0 180.4h0M496.6 150.5h0M498.3 150.9h0M505.4 180.0h0M505.2 139.2h0M506.3 171.5h0M501.3 160.5h0M505.6 169.3h0M505.9 171.2h0M498.4 169.5h0M497.8 142.6h0M505.3 129.5h0M507.0 187.1h0M502.0 183.6h0M506.9 159.3h0M504.0 169.0h0M497.1 133.6h0M502.3 156.4h0M504.2 164.5h0M495.4 171.4h0M507.5 141.6h0M499.2 133.7h0M492.3 187.6h0M499.4 180.6h0M507.5 139.1h0M496.5 179.0h0M503.3 178.4h0M501.7 139.3h0M500.8 177.9h0M500.8 151.7h0M507.3 148.7h0M503.1 138.0h0M504.8 164.7h0M507.3 166.0h0M505.5 159.7h0M504.7 134.2h0M507.6 177.3h0M502.7 147.6h0M506.0 144.4h0M494.4 167.7h0M495.2 139.5h0M500.8 184.4h0M504.2 168.2h0M499.8 176.9h0M500.7 149.1h0M504.7 154.6h0M501.7 143.6h0M501.4 143.6h0M505.9 153.7h0M503.2 176.8h0M505.4 159.2h0M505.4 179.7h0M502.5 134.9h0M505.1 145.9h0M505.2 130.3h0M502.3 184.6h0M501.6 131.9h0M506.6 161.6h0M503.8 169.7h0M501.8 140.7h0M503.1 188.8h0M501.4 188.8h0M500.0 142.8h0M500.6 136.7h0M501.0 168.3h0M506.7 159.9h0M502.4 165.5h0M500.9 166.3h0M505.7 187.3h0M507.4 175.6h0M503.3 147.4h0M504.6 174.3h0M499.3 155.9h0M507.5 188.5h0M507.5 157.6h0M496.5 128.7h0M506.1 184.9h0M500.1 145.2h0M492.8 178.9h0M503.9 165.9h0M506.2 174.1h0M502.5 173.8h0M504.7 184.1h0M499.2 179.7h0M499.4 168.0h0M501.4 148.3h0M500.1 158.6h0M505.8 145.3h0M504.2 148.9h0M504.0 156.6h0M502.2 154.2h0M506.5 145.9h0M506.1 146.9h0M498.3 147.3h0M503.9 139.9h0M505.8 164.1h0M499.8 133.7h0M507.3 143.4h0M503.6 138.6h0M506.9 171.8h0M503.2 145.4h0M503.4 134.2h0M498.8 178.9h0M505.7 155.1h0M505.0 177.9h0M502.5 147.9h0M499.5 149.5h0M496.2 162.7h0M507.1 132.3h0M503.6 188.6h0M500.6 136.3h0M497.9 184.6h0M502.0 168.9h0M505.3 175.4h0M501.3 141.0h0M503.0 183.3h0M499.7 161.2h0M500.9 153.6h0M502.3 139.9h0M505.0 138.6h0M494.7 181.5h0M503.5 188.1h0M503.4 153.9h0M499.1 172.9h0M506.1 171.3h0M506.9 158.6h0M502.6 157.8h0M506.2 162.3h0M506.3 149.5h0M504.9 174.2h0M507.5 153.9h0M506.7 159.3h0M503.6 139.3h0M506.5 188.5h0M501.8 132.8h0M497.4 172.4h0M500.8 169.0h0M506.5 149.4h0M501.2 188.5h0M507.4 130.3h0M502.8 144.9h0M499.0 148.9h0M504.2 167.8h0M507.4 164.6h0M506.5 172.1h0M506.7 181.3h0M497.9 129.2h0M506.5 162.8h0M506.0 152.9h0M502.8 170.7h0M506.4 160.7h0M498.4 149.6h0M499.6 128.4h0M505.2 147.3h0M496.7 155.7h0M502.3 148.9h0M500.6 151.5h0M506.2 168.4h0M497.6 148.8h0M506.6 180.8h0M503.3 150.4h0M505.5 154.9h0M506.4 154.9h0M507.6 184.0h0M496.9 165.5h0M504.2 187.8h0M502.1 187.2h0M499.6 140.1h0M507.4 183.6h0M500.1 130.7h0M502.6 181.1h0M500.1 167.2h0M504.2 170.5h0M503.7 152.3h0M504.2 152.1h0M505.6 137.7h0M499.4 136.7h0M500.5 166.7h0M500.2 149.2h0M504.5 129.8h0M498.0 138.5h0M505.3 138.5h0M501.2 140.0h0M507.5 156.2h0M504.6 184.5h0M503.3 164.1h0M502.0 173.9h0M504.0 134.5h0M507.1 170.9h0M500.6 181.6h0M504.1 172.2h0M503.1 165.6h0M503.8 187.6h0M496.7 136.0h0M504.8 177.2h0M505.5 172.6h0M500.8 173.0h0M501.5 150.0h0M505.9 132.9h0M497.6 136.8h0M502.0 170.0h0M503.6 147.3h0M507.5 186.8h0M499.3 135.6h0M501.6 178.5h0M505.6 157.6h0M505.8 146.2h0M505.2 143.8h0M503.4 149.9h0M501.5 150.8h0M501.2 142.0h0M506.8 141.6h0M506.7 188.2h0M502.2 154.1h0M503.1 166.6h0M504.3 171.6h0M507.5 148.6h0M502.1 186.0h0M503.6 146.2h0M498.5 139.9h0M504.2 130.8h0M502.1 144.3h0M505.7 131.8h0M499.9 166.9h0M504.8 163.7h0M503.7 129.4h0M507.1 186.9h0M505.1 173.2h0M500.3 162.1h0M500.7 186.6h0M507.5 160.8h0M505.0 138.9h0M496.8 176.3h0M506.8 187.2h0M505.2 131.7h0M507.5 159.2h0M501.3 142.0h0M502.1 184.0h0M500.0 133.9h0M504.4 178.0h0M498.7 140.8h0M495.2 167.8h0M506.7 170.9h0M506.4 175.2h0M506.9 131.3h0M502.7 158.0h0M505.3 135.8h0M498.9 135.8h0M507.4 138.0h0M505.1 137.2h0M503.2 186.0h0M501.7 162.7h0M504.4 143.7h0M507.1 158.1h0M507.5 131.4h0M506.5 141.4h0M507.6 166.9h0M499.4 171.1h0M491.1 166.2h0M504.6 189.0h0M499.9 188.7h0M498.8 179.7h0M503.2 156.9h0M506.5 174.9h0M502.7 143.4h0M504.5 181.6h0M500.7 143.1h0M506.8 189.4h0M505.8 128.8h0M505.9 177.4h0M504.6 159.0h0M501.2 178.6h0M504.6 160.3h0M502.5 179.7h0M504.8 171.9h0M502.2 167.6h0M500.9 187.0h0M506.0 135.3h0M491.7 185.4h0M501.2 160.4h0M504.0 171.9h0M504.5 169.4h0M507.3 152.3h0M497.6 160.7h0M499.2 188.3h0M504.8 158.3h0M507.0 184.8h0M505.9 128.5h0M506.4 163.6h0M500.0 170.7h0M507.0 152.5h0M498.5 133.0h0M505.6 177.1h0M500.8 174.7h0M505.0 151.6h0M504.6 134.0h0M504.7 180.0h0M507.6 176.1h0M504.7 179.7h0M497.8 178.8h0M501.8 144.3h0M504.4 166.7h0M505.8 156.9h0M506.2 152.2h0M496.8 153.4h0M505.3 169.7h0M503.8 157.3h0M503.4 150.7h0M506.7 166.9h0M498.6 167.0h0M494.8 153.2h0M500.3 168.1h0M506.5 168.7h0M501.7 174.3h0M507.6 138.4h0M507.4 168.5h0M504.4 153.9h0M504.1 182.5h0M500.0 166.3h0M501.2 178.3h0M501.4 178.2h0M507.1 141.2h0M493.3 132.8h0M507.6 175.1h0M498.5 131.4h0M505.1 186.8h0M504.7 170.8h0M507.4 154.2h0M505.8 169.6h0M502.1 136.2h0M501.7 167.6h0M506.3 185.0h0M502.2 186.2h0M504.5 147.3h0M503.5 152.6h0M501.9 186.3h0M500.6 177.4h0M507.4 151.9h0M505.0 188.7h0M507.4 130.0h0M506.0 169.0h0M497.4 159.6h0M504.6 183.0h0M495.6 129.2h0M507.6 147.9h0M507.1 157.7h0M507.4 132.5h0M497.7 168.0h0M501.7 180.6h0M506.9 184.2h0M506.9 136.9h0M497.8 159.4h0M505.5 189.1h0" stroke="#808080" stroke-width="0.60" stroke-linecap="square" fill="none"/>
<path d="M506.6 140.0h0M506.6 184.3h0M507.0 161.5h0M506.8 189.0h0M505.9 159.3h0M506.9 136.1h0M506.6 165.6h0M506.4 155.6h0M506.8 132.4h0M506.3 178.7h0M507.0 183.7h0M506.9 187.8h0M506.9 167.9h0M505.6 164.2h0M507.0 140.1h0M507.1 187.8h0M506.4 173.6h0M506.9 169.4h0M507.2 171.1h0M506.8 180.2h0M507.2 149.3h0M507.0 134.9h0M506.9 189.5h0M507.1 130.0h0M506.9 144.8h0M507.0 158.5h0M507.1 130.5h0M506.9 147.2h0M506.6 182.0h0M506.8 166.8h0M507.1 164.2h0M506.5 129.1h0M506.9 154.5h0M506.5 135.6h0M507.1 152.0h0M507.2 152.1h0M506.9 154.3h0M506.7 147.6h0M506.8 176.4h0M506.0 156.7h0M507.1 184.3h0M507.1 149.3h0M506.6 136.9h0M506.9 150.0h0M506.6 182.0h0M506.5 150.3h0M506.6 178.9h0M505.3 171.0h0M507.2 144.0h0M507.0 139.9h0M507.1 135.0h0M506.6 155.9h0M506.5 171.1h0M507.0 146.2h0M507.2 187.2h0M506.8 128.9h0M507.1 176.7h0M506.9 138.5h0M505.8 134.1h0M506.6 185.1h0M506.4 152.9h0M507.0 145.8h0M506.2 130.5h0M507.0 141.6h0M506.8 151.8h0M507.1 186.0h0M506.8 188.0h0M507.2 132.9h0M506.9 162.8h0M506.4 130.0h0M507.1 134.4h0M506.4 166.2h0M507.0 160.7h0M506.9 183.8h0M506.6 184.0h0M506.7 137.9h0M506.7 167.3h0M506.0 178.0h0M506.8 175.9h0M506.8 163.2h0M506.3 159.8h0M507.0 163.4h0M507.1 153.6h0M506.9 163.0h0M507.2 183.3h0M507.2 149.6h0M506.9 155.3h0M507.0 155.2h0M507.0 181.7h0M506.9 143.2h0M506.8 155.2h0M506.6 174.6h0M506.5 152.3h0M506.2 181.0h0M506.9 161.3h0M507.1 134.1h0M506.8 150.7h0M506.6 137.1h0M506.8 155.2h0M507.2 150.6h0M507.1 149.0h0M506.5 179.4h0M507.0 183.6h0M507.0 174.9h0M506.7 175.5h0M506.9 183.4h0M506.4 184.9h0M507.0 138.8h0M506.8 183.6h0M506.9 138.0h0M506.7 144.9h0M507.2 177.0h0M505.7 136.9h0M506.9 187.8h0M506.6 185.8h0M507.1 167.5h0M506.6 185.4h0M507.2 161.5h0M506.6 161.3h0M505.9 164.4h0M506.8 162.3h0M506.6 164.1h0M506.9 170.2h0M507.0 187.3h0M507.0 133.1h0M507.1 142.5h0M506.6 128.4h0M506.3 132.1h0M507.1 140.5h0M506.8 183.9h0M506.7 147.5h0M507.2 165.3h0M506.8 147.4h0M506.9 189.2h0M506.7 139.9h0M506.3 152.5h0M506.9 150.9h0M506.8 141.2h0M507.0 132.6h0M506.9 152.2h0M506.4 140.5h0M506.0 129.5h0M507.0 182.9h0M506.2 149.3h0M506.8 128.7h0M506.9 166.2h0M506.9 157.6h0M506.7 170.8h0" stroke="#333" stroke-width="0.64" stroke-linecap="square" fill="none"/>
<path d="M503.6 136.9h0M496.2 136.9h0M502.1 133.6h0M498.3 146.9h0M484.2 148.2h0M499.7 133.1h0M487.9 145.8h0M498.5 142.0h0M495.4 132.7h0M502.0 131.6h0M490.5 142.4h0M498.3 152.7h0M507.6 142.1h0M491.9 135.8h0M496.0 128.8h0M491.7 132.3h0M503.1 140.8h0M495.1 136.2h0M498.7 133.3h0M500.8 144.4h0M499.1 141.2h0M499.1 151.7h0M498.2 129.1h0M491.0 142.8h0M503.1 143.2h0M501.8 139.2h0M488.4 133.2h0M486.6 135.4h0M489.2 138.6h0M501.2 143.1h0M489.0 138.9h0M501.1 136.0h0M501.9 139.2h0M503.1 139.2h0M496.0 141.4h0M501.5 139.6h0M494.4 132.6h0M494.8 134.1h0M498.1 139.1h0M496.4 137.9h0M497.9 148.5h0M503.9 134.0h0M499.4 135.7h0M496.4 136.3h0M493.3 128.7h0M482.7 139.2h0M503.7 131.8h0M499.8 135.3h0M498.5 132.4h0M495.6 137.1h0M483.1 139.3h0M500.6 137.6h0M498.1 140.3h0M494.5 130.6h0M494.3 135.0h0M494.0 135.0h0M498.7 141.7h0M492.8 131.1h0M492.0 139.3h0M500.0 135.5h0M487.4 139.3h0M500.3 137.8h0M494.0 141.7h0M496.5 130.2h0M497.4 129.0h0M502.4 141.0h0M491.0 139.2h0M496.0 149.0h0M487.8 136.7h0M488.5 137.3h0M493.7 138.7h0M499.0 140.7h0M503.5 142.6h0M501.1 131.1h0M495.9 159.6h0M501.2 144.6h0M494.5 151.2h0M494.6 137.2h0M493.0 137.2h0M494.7 139.0h0M492.3 137.1h0M489.8 135.1h0M488.6 142.3h0M489.2 142.6h0M494.4 135.7h0M503.8 138.5h0M485.6 141.2h0M479.7 139.6h0M497.3 135.7h0M493.2 132.1h0M504.7 136.8h0M497.8 136.0h0M489.6 135.2h0M495.1 150.2h0M506.4 137.4h0M497.6 141.4h0M504.9 140.0h0M494.0 135.1h0M503.6 155.9h0M501.7 137.3h0M497.7 146.4h0M497.2 128.6h0M485.1 137.5h0M489.9 139.8h0M489.2 135.3h0M488.0 135.3h0M494.2 141.9h0M504.9 136.5h0M491.7 151.4h0M499.0 142.1h0M500.5 148.0h0M502.9 142.5h0M501.4 131.8h0M493.2 137.1h0M497.4 137.9h0M498.7 138.0h0M501.8 141.9h0M491.6 141.3h0M499.2 138.3h0M485.8 129.4h0M493.2 149.1h0M491.7 135.4h0M490.2 134.4h0M479.9 142.4h0M497.1 133.6h0M502.6 144.6h0M484.3 136.6h0M503.5 133.1h0M495.0 144.5h0M495.2 129.5h0M492.7 128.5h0M494.9 145.0h0M503.6 146.9h0M496.3 138.6h0M498.2 142.1h0M494.4 145.5h0M498.8 145.8h0M499.7 142.6h0M492.5 134.9h0M489.1 135.7h0M495.8 143.7h0M489.3 160.5h0M496.1 146.6h0M495.3 148.1h0M482.3 143.2h0M491.3 134.5h0M498.0 133.3h0M492.3 142.7h0M500.2 137.5h0M492.5 139.6h0M505.9 139.1h0M502.2 136.2h0M500.3 141.6h0M498.4 130.0h0M490.0 136.1h0M497.4 129.3h0M490.4 141.7h0M503.0 133.8h0M492.6 132.7h0M496.4 144.8h0M488.2 137.2h0M494.4 135.3h0M489.5 135.0h0M490.3 140.1h0M486.5 134.4h0M500.7 141.2h0M493.8 132.5h0M494.7 129.2h0M494.2 133.1h0M495.6 137.4h0M496.0 139.0h0M494.3 137.6h0M502.9 143.6h0M498.6 147.1h0M498.1 130.8h0M486.2 132.8h0M496.4 140.5h0M503.2 133.7h0M491.9 143.1h0M503.8 134.4h0M498.8 147.4h0M498.7 137.3h0M484.3 147.0h0M500.6 138.6h0M494.0 129.0h0M496.2 137.0h0M503.4 129.2h0M505.4 138.0h0M503.9 130.9h0M498.8 146.3h0M494.8 141.5h0M498.2 131.1h0M500.9 129.5h0M485.7 132.3h0M505.7 131.7h0M496.7 139.5h0M491.1 145.4h0M497.8 140.8h0M480.2 136.4h0M495.4 142.8h0M505.7 136.0h0M495.2 140.9h0M506.0 132.0h0M500.5 136.0h0M494.8 143.5h0M492.0 130.2h0M500.8 137.6h0M495.2 136.8h0M499.8 135.2h0M501.4 140.6h0M505.7 146.6h0M501.9 136.3h0M497.5 133.6h0M500.1 147.3h0M488.6 132.0h0M494.4 130.8h0M489.2 134.1h0M504.6 142.8h0M497.0 138.0h0M486.8 142.6h0M499.4 130.2h0M498.0 136.4h0M493.7 130.9h0M492.8 131.2h0M499.6 140.3h0M498.7 136.5h0M494.4 152.1h0M485.6 146.2h0M498.9 138.3h0M493.8 136.3h0M501.9 145.6h0M498.5 139.3h0M497.5 140.8h0M501.3 143.9h0M507.6 138.0h0M496.0 129.3h0M505.2 154.2h0M500.1 128.7h0M496.2 138.0h0M498.0 145.4h0M505.0 134.4h0M493.5 147.7h0M488.9 138.2h0M502.3 148.3h0M495.8 134.6h0M506.6 134.6h0M505.6 139.5h0M498.3 136.2h0M498.6 134.6h0M492.8 136.9h0M493.0 140.0h0M497.4 136.0h0M495.7 136.2h0M507.3 137.8h0M493.3 135.8h0M500.8 136.4h0M496.0 136.0h0M497.8 140.6h0M501.7 145.6h0M504.7 138.8h0M503.7 137.6h0M492.2 133.7h0M502.4 149.4h0M494.0 140.4h0M498.5 132.4h0M486.5 132.6h0M488.2 135.6h0M496.0 136.6h0M495.8 141.2h0M491.3 144.0h0M486.8 138.3h0M499.2 132.3h0M487.3 142.3h0M492.8 143.3h0M501.4 137.8h0M496.8 144.7h0M499.1 131.3h0M497.8 141.7h0M498.0 139.1h0M496.0 137.0h0M503.6 133.4h0M497.8 132.0h0M491.1 144.4h0M498.4 143.9h0M489.5 142.6h0M493.7 130.9h0M494.7 134.6h0M488.5 153.4h0M494.1 132.6h0M501.9 137.3h0M504.8 135.9h0M498.9 138.4h0M497.8 136.3h0M496.2 149.5h0M492.8 134.0h0M494.8 141.8h0M499.2 144.3h0M488.8 139.6h0M495.8 135.8h0M498.5 138.8h0M488.3 137.1h0M506.0 135.1h0M500.4 136.2h0M492.0 131.4h0M494.5 146.8h0M501.7 132.9h0M502.8 136.9h0M492.7 140.8h0M496.7 136.4h0M496.2 137.5h0M491.5 137.3h0M502.7 132.8h0M498.4 129.9h0M499.1 142.2h0M499.4 147.6h0M491.0 145.2h0M493.6 133.5h0M503.3 139.4h0M498.5 134.2h0M502.4 139.3h0M491.0 128.6h0M491.7 147.5h0M496.3 135.6h0M499.8 137.9h0M498.3 143.0h0M498.9 143.9h0M489.9 138.3h0M494.8 138.6h0M496.7 133.5h0M494.9 144.4h0M493.7 129.4h0M500.4 144.6h0M495.4 138.8h0M492.0 136.6h0M503.5 143.5h0M497.8 136.1h0M487.4 140.1h0M499.7 145.2h0" stroke="#666" stroke-width="0.60" stroke-linecap="square" fill="none"/>
<path d="M505.7 129.6h0M506.7 137.4h0M507.3 136.6h0M503.8 139.8h0M499.4 136.5h0M506.2 130.9h0M497.5 135.7h0M502.5 136.4h0M504.5 131.0h0M503.3 138.4h0M500.6 132.9h0M497.6 137.2h0M505.0 137.6h0M499.9 132.6h0M498.0 131.0h0M502.7 136.6h0M502.5 137.4h0M502.9 129.5h0M499.3 141.0h0M503.9 134.6h0M495.8 136.8h0M501.1 130.4h0M497.1 131.5h0M505.4 141.1h0M494.3 135.1h0M500.0 140.4h0M504.1 137.2h0M504.5 135.5h0M505.9 129.6h0M500.7 137.5h0M499.3 132.4h0M506.8 140.1h0M499.8 131.0h0M504.4 135.2h0M499.5 136.5h0M504.3 134.5h0M505.3 138.1h0M499.4 135.4h0M502.4 131.9h0M503.2 135.1h0M501.9 132.3h0M505.4 134.2h0M498.8 136.7h0M499.8 132.6h0M493.4 132.5h0M503.0 136.8h0M501.0 135.0h0M503.9 131.5h0M499.2 141.8h0M498.8 139.0h0M502.5 139.9h0M499.7 136.2h0M503.5 133.3h0M503.4 131.2h0M501.9 132.6h0M505.2 133.8h0M496.7 132.7h0M501.8 130.6h0M507.4 135.8h0M505.5 131.2h0M500.6 138.1h0M496.6 135.6h0M502.5 132.2h0M502.5 130.0h0M503.1 129.4h0M497.2 139.7h0M506.0 131.1h0M488.4 134.0h0M505.8 135.6h0M504.5 130.2h0M502.8 140.2h0M504.2 134.8h0M494.4 132.7h0M497.1 137.2h0M499.3 135.6h0M498.2 141.6h0M497.6 134.7h0M498.8 136.6h0M506.1 137.6h0M494.4 135.0h0M493.8 141.7h0M502.5 132.4h0M504.8 136.1h0M497.5 140.6h0M507.1 136.4h0M498.7 137.9h0M506.2 137.9h0M499.4 134.5h0M504.0 133.3h0M501.9 133.8h0M502.6 136.5h0M504.2 134.0h0M503.2 132.4h0M505.4 132.2h0M503.3 131.2h0M500.8 134.9h0M502.3 131.7h0M497.6 134.4h0M502.8 136.4h0M507.2 133.0h0M494.3 133.6h0M494.9 129.1h0M506.3 136.5h0M499.7 131.7h0M504.1 132.8h0M506.2 131.5h0M506.3 130.3h0M505.1 132.5h0M498.9 133.6h0M504.1 135.8h0M491.7 132.6h0M494.3 132.7h0M504.7 128.9h0M497.5 134.8h0M501.1 140.5h0M503.5 136.3h0M502.2 130.3h0M503.3 138.4h0M507.7 134.1h0M499.4 131.2h0M496.7 134.7h0M493.6 139.8h0M495.8 135.6h0M497.2 137.4h0M505.4 134.9h0M505.5 134.4h0M504.5 141.5h0M506.6 131.6h0M499.0 133.3h0M501.3 134.5h0M499.8 136.9h0M502.4 135.7h0M502.3 136.7h0M497.5 140.6h0M503.7 136.1h0M504.7 138.6h0M505.2 135.2h0M503.1 133.0h0M501.0 143.9h0M494.9 134.5h0M507.1 138.1h0M507.3 129.2h0M498.5 136.8h0M501.1 141.2h0M503.2 135.1h0M504.1 133.2h0M502.8 131.6h0M502.2 132.4h0M503.3 128.7h0M496.4 136.2h0M503.2 130.5h0M501.4 130.1h0M504.0 133.3h0M500.8 138.1h0M505.6 133.2h0M498.7 142.6h0M501.2 135.5h0M502.7 139.1h0M498.5 134.4h0M499.2 139.6h0M504.5 140.0h0M501.2 130.6h0M506.5 136.4h0M501.5 140.2h0M503.7 134.1h0M501.5 136.1h0M503.3 128.7h0M502.8 133.1h0M497.9 130.5h0M499.0 131.7h0M499.6 134.6h0M506.7 129.2h0M506.8 139.7h0M502.9 138.7h0M506.4 135.1h0M505.1 135.7h0M500.2 142.0h0M502.4 129.9h0M502.4 138.8h0M497.3 138.9h0M497.7 131.0h0M501.0 129.2h0M497.4 133.3h0M501.7 136.8h0M497.6 141.9h0M506.6 137.9h0M499.8 141.3h0M501.0 141.6h0M506.7 130.8h0M500.6 141.9h0M506.4 133.8h0M503.2 135.2h0M499.3 133.6h0M499.7 132.7h0M504.2 130.5h0M505.3 134.8h0M505.4 137.9h0M507.4 136.9h0M505.2 133.7h0M504.7 130.8h0M501.4 137.4h0M502.2 136.2h0M498.1 139.9h0M500.1 136.0h0M502.3 138.1h0M500.8 130.4h0M494.8 133.2h0M497.6 136.5h0M497.2 135.6h0M507.3 135.6h0M503.7 136.4h0M504.7 141.0h0M504.8 129.4h0M500.5 135.2h0M499.1 133.3h0M500.3 131.6h0M505.2 132.8h0M498.0 131.5h0M502.5 142.9h0M503.4 140.3h0M503.9 131.0h0M496.9 130.0h0M499.9 139.0h0M501.9 132.3h0M501.6 137.4h0M500.1 133.1h0M500.9 136.3h0M497.4 131.8h0M497.1 135.0h0M499.9 137.5h0M506.5 134.6h0M500.8 135.4h0M502.6 129.5h0M506.7 135.3h0M505.5 128.9h0M505.9 142.9h0M504.8 128.5h0M502.5 134.1h0M503.2 133.4h0M504.4 132.5h0M503.3 131.6h0M502.8 138.4h0M500.4 137.0h0M498.8 132.9h0M501.4 139.4h0M499.3 139.3h0M496.4 133.7h0M506.0 137.2h0M498.3 129.4h0M505.9 129.3h0M504.7 132.2h0M502.3 143.7h0M496.8 135.6h0M502.6 133.9h0M503.6 134.8h0M499.3 141.3h0M497.2 134.4h0M496.5 130.4h0M505.5 138.2h0M504.7 135.3h0M493.4 135.2h0M500.2 139.1h0M505.2 137.6h0M498.1 134.6h0M497.3 138.0h0M497.5 133.4h0M499.0 132.4h0M504.2 132.0h0M503.2 130.2h0M506.4 143.0h0M492.4 130.3h0M501.5 139.1h0M500.3 135.8h0M499.3 136.6h0M497.4 137.7h0M498.7 143.3h0M506.6 138.9h0M500.6 136.8h0M504.7 133.5h0M507.5 139.6h0M499.7 131.8h0M503.1 137.0h0M500.6 133.8h0M504.8 136.0h0M507.0 135.3h0M505.6 132.9h0M500.9 133.1h0M495.9 132.7h0M491.6 132.6h0M498.6 141.8h0M504.1 133.4h0M502.9 137.3h0M499.2 133.3h0M500.8 144.4h0M505.5 144.9h0M498.3 148.5h0M502.0 138.4h0M499.9 133.2h0M497.2 129.9h0M493.5 139.0h0M497.5 135.8h0M503.6 131.6h0M502.5 133.9h0M500.2 134.5h0M502.5 130.1h0M496.9 130.8h0M502.7 139.9h0M506.1 134.8h0M506.8 134.8h0M503.9 133.1h0M502.2 142.1h0M497.3 134.2h0M499.8 138.2h0M490.8 136.8h0M501.2 134.0h0M492.7 137.0h0M504.0 135.2h0M497.8 131.3h0M499.6 136.2h0M498.1 140.3h0M499.9 134.6h0M494.6 135.0h0M492.0 130.0h0M500.8 130.2h0M506.1 134.0h0M503.1 136.8h0M497.7 137.5h0M493.4 140.3h0M495.7 131.6h0M499.4 137.2h0M505.3 135.7h0M504.4 136.1h0M502.0 133.2h0M501.6 135.1h0M501.2 130.0h0M507.2 137.9h0M496.5 133.0h0M504.0 140.8h0M499.6 134.9h0M499.1 134.0h0M499.1 143.0h0M505.8 135.0h0M498.1 137.8h0M504.8 132.0h0M501.8 137.7h0M506.3 136.5h0M505.6 131.7h0M500.2 139.2h0M504.0 130.8h0M504.2 137.6h0M505.1 134.6h0M500.0 135.8h0M499.3 135.5h0M497.0 135.1h0M500.9 138.1h0M502.5 138.5h0M498.6 136.0h0M501.7 134.7h0M499.6 136.4h0M501.1 135.5h0M507.0 131.7h0M498.8 138.9h0M499.6 134.5h0M504.1 137.2h0M502.1 129.5h0M506.3 132.3h0M499.9 142.4h0M505.7 129.7h0M500.1 133.1h0M505.4 137.3h0M503.1 132.4h0M503.0 136.7h0M497.8 132.7h0M499.8 137.0h0M503.2 128.7h0M499.5 141.4h0M498.0 134.7h0M499.5 139.2h0M501.8 132.3h0M497.2 133.1h0M505.5 136.9h0M496.6 140.5h0M501.0 129.7h0" stroke="#111" stroke-width="0.66" stroke-linecap="square" fill="none"/>
<rect x="445.10" y="122.80" width="68.50" height="67.30" fill="none" stroke="#555" stroke-width="0.9"/>
<line x1="467.30" y1="122.80" x2="467.30" y2="190.10" stroke="#555" stroke-width="0.8"/>
<line x1="445.10" y1="161.30" x2="513.60" y2="161.30" stroke="#555" stroke-width="0.8"/>
<line x1="445.10" y1="190.10" x2="513.60" y2="190.10" stroke="#222" stroke-width="1.6"/>
<line x1="444.10" y1="190.10" x2="445.10" y2="190.10" stroke="#777" stroke-width="0.5"/>
<text x="441.30" y="191.10" font-size="3.4" font-weight="normal" fill="#777" text-anchor="end">10<tspan font-size="2.38" dy="-1.1">0</tspan></text>
<line x1="444.10" y1="173.28" x2="445.10" y2="173.28" stroke="#777" stroke-width="0.5"/>
<text x="441.30" y="174.28" font-size="3.4" font-weight="normal" fill="#777" text-anchor="end">10<tspan font-size="2.38" dy="-1.1">1</tspan></text>
<line x1="444.10" y1="156.45" x2="445.10" y2="156.45" stroke="#777" stroke-width="0.5"/>
<text x="441.30" y="157.45" font-size="3.4" font-weight="normal" fill="#777" text-anchor="end">10<tspan font-size="2.38" dy="-1.1">2</tspan></text>
<line x1="444.10" y1="139.62" x2="445.10" y2="139.62" stroke="#777" stroke-width="0.5"/>
<text x="441.30" y="140.62" font-size="3.4" font-weight="normal" fill="#777" text-anchor="end">10<tspan font-size="2.38" dy="-1.1">3</tspan></text>
<line x1="444.10" y1="122.80" x2="445.10" y2="122.80" stroke="#777" stroke-width="0.5"/>
<text x="441.30" y="123.80" font-size="3.4" font-weight="normal" fill="#777" text-anchor="end">10<tspan font-size="2.38" dy="-1.1">4</tspan></text>
<line x1="445.10" y1="190.10" x2="445.10" y2="191.10" stroke="#777" stroke-width="0.5"/>
<text x="445.10" y="200.00" font-size="3.4" font-weight="normal" fill="#777" text-anchor="middle">10<tspan font-size="2.38" dy="-1.1">0</tspan></text>
<line x1="462.23" y1="190.10" x2="462.23" y2="191.10" stroke="#777" stroke-width="0.5"/>
<text x="462.23" y="200.00" font-size="3.4" font-weight="normal" fill="#777" text-anchor="middle">10<tspan font-size="2.38" dy="-1.1">1</tspan></text>
<line x1="479.35" y1="190.10" x2="479.35" y2="191.10" stroke="#777" stroke-width="0.5"/>
<text x="479.35" y="200.00" font-size="3.4" font-weight="normal" fill="#777" text-anchor="middle">10<tspan font-size="2.38" dy="-1.1">2</tspan></text>
<line x1="496.48" y1="190.10" x2="496.48" y2="191.10" stroke="#777" stroke-width="0.5"/>
<text x="496.48" y="200.00" font-size="3.4" font-weight="normal" fill="#777" text-anchor="middle">10<tspan font-size="2.38" dy="-1.1">3</tspan></text>
<line x1="513.60" y1="190.10" x2="513.60" y2="191.10" stroke="#777" stroke-width="0.5"/>
<text x="513.60" y="200.00" font-size="3.4" font-weight="normal" fill="#777" text-anchor="middle">10<tspan font-size="2.38" dy="-1.1">4</tspan></text>
<text x="450.34" y="135.80" font-size="6.0" fill="#111" stroke="#111" stroke-width="0.3" textLength="8.92" lengthAdjust="spacingAndGlyphs">0.1</text>
<text x="469.16" y="135.80" font-size="6.0" fill="#111" stroke="#111" stroke-width="0.3" textLength="13.29" lengthAdjust="spacingAndGlyphs">61.9</text>
<text x="450.34" y="188.30" font-size="6.0" fill="#111" stroke="#111" stroke-width="0.3" textLength="8.92" lengthAdjust="spacingAndGlyphs">0.1</text>
<text x="469.23" y="188.30" font-size="6.0" fill="#111" stroke="#111" stroke-width="0.3" textLength="13.22" lengthAdjust="spacingAndGlyphs">37.9</text>
<path d="M367.6 396.8h0M363.8 373.0h0M371.4 366.0h0M393.4 363.6h0M397.3 376.0h0M372.9 404.3h0M400.4 369.6h0M381.1 372.5h0M389.5 401.6h0M388.7 369.2h0M379.8 372.0h0M395.6 397.3h0M397.9 402.8h0M380.9 407.1h0M374.0 362.2h0M399.5 376.5h0M390.0 390.5h0M376.5 376.6h0M368.6 397.1h0M377.8 371.3h0M379.8 390.2h0M394.6 368.1h0M390.1 367.5h0M382.4 399.9h0M398.3 391.4h0M385.4 388.4h0M396.5 378.8h0M364.6 393.7h0M365.2 407.6h0M396.4 378.7h0" stroke="#aaa" stroke-width="0.60" stroke-linecap="square" fill="none"/>
<path d="M380.9 349.8h0M384.1 360.3h0M394.0 373.6h0M391.4 353.9h0M393.0 372.6h0M386.3 353.9h0M395.1 366.5h0M392.8 356.8h0M393.7 364.4h0M390.7 359.1h0M391.4 367.4h0M397.7 372.1h0M391.7 370.9h0M399.2 356.1h0M380.0 351.7h0M394.7 375.4h0M384.0 349.1h0M391.0 359.1h0M396.3 374.1h0M393.6 381.2h0M392.7 371.7h0M381.3 356.5h0M391.1 379.5h0M381.8 346.7h0M379.3 354.4h0M394.1 372.0h0M392.8 378.4h0M398.8 367.6h0M391.5 369.2h0M382.7 349.8h0M396.0 367.2h0M394.6 373.1h0M395.9 361.6h0M390.1 371.2h0M396.7 359.9h0M382.9 351.4h0M390.9 375.9h0M390.1 348.0h0M388.2 350.9h0M385.7 347.9h0M385.5 362.3h0M390.9 360.3h0M384.7 356.1h0M386.0 350.8h0M398.3 357.9h0M377.4 360.0h0M393.8 362.5h0M382.5 353.0h0M385.5 348.7h0M383.1 352.8h0M389.8 375.1h0M394.9 375.0h0M389.5 379.4h0M392.3 374.3h0M394.2 363.0h0M389.9 360.6h0M396.4 365.7h0M388.7 369.2h0M403.1 386.6h0M394.4 353.5h0M398.1 379.6h0M388.8 378.0h0M385.1 376.4h0M391.6 368.4h0M394.4 367.4h0M402.5 386.8h0M397.1 356.4h0M393.5 373.4h0M383.4 346.8h0M390.6 350.4h0M394.0 363.0h0M401.6 372.0h0M386.0 352.4h0M392.8 374.8h0M389.9 367.3h0M383.5 353.4h0M381.2 347.2h0M386.8 363.1h0M388.4 374.2h0M396.1 382.4h0M383.5 372.4h0M391.6 347.7h0M393.1 377.7h0M386.0 350.2h0M398.6 354.2h0M389.2 370.1h0M386.7 360.9h0M397.4 350.1h0M391.5 361.3h0M394.4 378.4h0M394.2 361.2h0M383.5 347.6h0M395.3 354.1h0M395.6 365.9h0M393.1 364.9h0M394.1 380.4h0M395.3 362.6h0M401.9 374.7h0M396.6 372.5h0M400.6 357.6h0M389.0 362.3h0M395.3 360.2h0M386.3 345.2h0M383.9 346.6h0M383.5 351.1h0M381.9 356.5h0M380.7 355.2h0M391.2 359.8h0M384.8 351.8h0M392.8 380.8h0M386.6 363.6h0M378.1 354.7h0M398.1 368.6h0M399.8 371.0h0M388.4 377.7h0M386.5 356.4h0M384.3 362.5h0M393.4 372.4h0M395.8 367.5h0M393.1 379.1h0M391.1 380.7h0M377.9 356.8h0M384.8 364.3h0M394.2 380.0h0M379.0 352.7h0M395.2 352.9h0M388.5 372.7h0M382.1 350.1h0M401.1 364.4h0M386.3 376.1h0M397.3 363.0h0M377.4 358.6h0M383.8 350.3h0M397.6 355.8h0M379.0 351.4h0M397.1 368.8h0M386.2 358.2h0M391.4 356.8h0" stroke="#aaa" stroke-width="0.60" stroke-linecap="square" fill="none"/>
<path d="M399.4 381.5h0M399.5 370.7h0M397.8 385.0h0M398.9 371.7h0M398.7 382.5h0M401.1 372.6h0M397.2 380.9h0M402.3 374.6h0M399.2 369.3h0M401.4 368.9h0M399.9 370.9h0M400.3 367.0h0M397.0 383.5h0M399.2 386.2h0M399.3 382.8h0M401.2 364.0h0M398.2 384.5h0M399.0 382.6h0M398.0 383.3h0M399.4 378.7h0M401.0 369.1h0M400.7 371.2h0M400.3 373.3h0M398.9 368.8h0M399.3 365.2h0M397.2 385.8h0M400.0 373.3h0M400.1 378.3h0M399.9 366.9h0M396.8 383.1h0M397.9 381.0h0M398.9 365.5h0M400.0 369.0h0M398.5 381.1h0M400.8 365.4h0M398.5 365.3h0M398.0 367.5h0M400.8 367.5h0M398.1 381.7h0M398.4 382.0h0M402.5 378.0h0M402.0 371.3h0M399.0 382.3h0M400.5 379.1h0M399.9 365.8h0M401.3 368.6h0M398.6 380.0h0M399.3 377.2h0M400.0 373.4h0M401.7 376.8h0M402.0 369.8h0M399.3 377.6h0M401.3 367.3h0M396.1 386.1h0M399.1 383.4h0M399.9 375.7h0M397.2 386.5h0M399.2 379.8h0M399.6 377.5h0M399.5 379.1h0" stroke="#999" stroke-width="0.60" stroke-linecap="square" fill="none"/>
<path d="M351.8 396.6h0M341.6 410.6h0M348.1 389.0h0M346.6 408.6h0M339.8 398.2h0M338.5 407.0h0M353.2 402.2h0M359.8 410.4h0M357.6 396.7h0M341.9 393.8h0M339.0 411.4h0M349.5 401.0h0M347.0 407.5h0M352.8 399.3h0M337.9 405.9h0M345.8 397.4h0M352.3 400.8h0M358.3 396.1h0M351.9 402.0h0M350.9 404.5h0M349.1 407.7h0M346.0 391.4h0M350.5 407.5h0M347.3 396.4h0M348.5 401.3h0M349.6 402.2h0M339.3 409.5h0M354.7 394.9h0M360.0 403.0h0M360.6 393.0h0M361.9 400.5h0M337.0 404.9h0M348.8 394.0h0M349.3 388.3h0M354.7 398.9h0M349.0 409.0h0M351.0 396.2h0M344.4 399.9h0M357.9 396.7h0M343.8 406.0h0M351.2 400.1h0M364.7 392.8h0M352.1 389.3h0M348.8 403.9h0M358.3 392.4h0M356.4 405.1h0M350.8 394.8h0M353.6 388.7h0M361.2 406.4h0M348.1 404.0h0M346.7 392.3h0M337.2 398.4h0M340.3 399.2h0M353.5 397.5h0M344.4 407.6h0M349.4 401.7h0M357.1 392.2h0M349.7 393.8h0M349.1 396.7h0M342.5 397.7h0M350.6 400.2h0M354.4 389.5h0M340.8 405.1h0M347.8 407.8h0M352.8 391.5h0M354.4 394.0h0M352.5 407.8h0M364.9 399.8h0M355.4 402.1h0M356.1 384.5h0M348.2 402.0h0M353.9 395.6h0M356.3 407.1h0M351.2 398.8h0M348.4 401.1h0M358.7 409.5h0M347.6 394.5h0M345.5 406.3h0M352.3 402.1h0M354.0 402.6h0M350.0 393.8h0M346.6 401.0h0M353.4 398.0h0M348.0 408.7h0M347.7 401.6h0M348.6 395.0h0M340.7 396.9h0M345.3 405.5h0M343.1 397.7h0M355.1 399.6h0M354.1 405.4h0M339.7 397.7h0M344.4 408.5h0M350.0 403.3h0M362.1 398.1h0M351.3 402.8h0M349.0 407.9h0M356.2 406.4h0M351.1 398.1h0M348.4 398.0h0M339.9 402.5h0M356.2 400.2h0M347.5 400.5h0M352.3 402.2h0M362.7 395.0h0M353.2 404.5h0M351.3 398.8h0M344.0 396.6h0M355.4 409.1h0M346.4 403.1h0M354.2 406.4h0M352.4 402.9h0M356.7 393.1h0M351.1 389.5h0M337.8 395.2h0M340.6 403.3h0M357.3 398.4h0M349.8 398.8h0M349.0 401.0h0M353.0 397.4h0M345.6 397.1h0M356.0 397.7h0M360.3 398.8h0M359.7 393.0h0M346.2 403.1h0M353.9 399.3h0M364.1 400.6h0M352.6 396.8h0M361.6 405.4h0M353.4 390.3h0M353.1 397.4h0M353.3 405.7h0M345.8 401.5h0M356.5 401.2h0M348.6 393.8h0M346.3 392.5h0M357.2 400.8h0M342.8 400.2h0M342.3 380.4h0M358.6 407.3h0M341.1 395.9h0M352.1 397.9h0M345.1 397.1h0M349.1 396.9h0M352.1 398.8h0M345.7 400.3h0M339.9 408.9h0M339.4 399.7h0M352.9 402.7h0M352.4 407.8h0M343.4 399.8h0M351.6 397.2h0M346.8 407.9h0M346.0 397.3h0M348.9 398.9h0M351.7 398.9h0M353.1 401.0h0M353.8 408.4h0M345.2 410.1h0M347.8 404.1h0M351.7 398.4h0M337.9 409.8h0M345.7 395.4h0M357.6 400.6h0M363.0 410.2h0M355.3 401.7h0M355.6 392.3h0M351.8 401.0h0M347.6 401.7h0M341.2 405.5h0M359.0 392.4h0M351.6 409.4h0M353.4 394.0h0M344.3 405.2h0M362.5 393.6h0M350.9 395.5h0M348.8 402.0h0M350.4 396.0h0M364.2 399.2h0M349.5 406.7h0M350.7 398.9h0M356.8 394.0h0M355.5 406.3h0M354.9 399.1h0M350.6 389.9h0M349.8 401.8h0M356.2 401.0h0M348.1 395.1h0M350.3 400.9h0M358.4 400.2h0M347.4 399.5h0M347.5 398.7h0M342.9 402.9h0M350.1 401.0h0M358.1 393.9h0M358.0 402.4h0M346.0 408.9h0M341.4 393.4h0M349.3 402.5h0M349.4 387.4h0M348.7 399.6h0M367.0 408.3h0M351.4 393.6h0M352.8 393.2h0M351.9 402.3h0M348.0 401.6h0M348.5 396.7h0M360.5 403.5h0M348.6 395.6h0M351.7 403.5h0M356.1 408.8h0M353.6 393.5h0M363.6 407.0h0M355.9 408.0h0M341.0 397.9h0M347.3 407.1h0M343.0 398.2h0M360.3 403.9h0M348.1 411.2h0M342.1 402.8h0M349.1 403.1h0M348.8 395.1h0M352.0 392.3h0M354.0 398.2h0M356.5 397.4h0M346.3 402.4h0M358.5 387.8h0M351.3 403.8h0M341.5 394.9h0M354.7 395.2h0M346.5 410.2h0M344.5 395.0h0M342.7 410.2h0M358.4 392.6h0M363.2 404.6h0M349.4 404.8h0M353.0 395.5h0M339.3 394.7h0M350.5 397.9h0M345.8 405.8h0M343.7 405.3h0M347.5 400.7h0M343.4 400.0h0M345.5 389.7h0M350.4 399.7h0M355.9 401.7h0M344.1 396.4h0M358.9 409.0h0M355.4 401.8h0M354.3 402.9h0M339.4 394.9h0M358.1 407.0h0M352.1 398.2h0M348.1 396.8h0M344.6 388.6h0M351.5 397.4h0M349.2 410.2h0M354.3 395.9h0M354.3 391.1h0M357.3 401.6h0M349.3 403.4h0M359.9 397.3h0M350.6 408.9h0M346.2 402.3h0M346.4 403.8h0M348.8 396.1h0M360.5 402.0h0M337.5 398.6h0M344.6 392.8h0M346.8 397.2h0M350.7 395.3h0M338.5 396.8h0M356.2 391.9h0M354.5 402.7h0M347.6 401.9h0M345.7 397.6h0M343.9 402.8h0M359.4 396.0h0M358.2 387.3h0M344.8 394.0h0M361.6 396.5h0M355.5 387.8h0M351.2 403.4h0M350.3 383.8h0M351.7 404.8h0M359.0 402.4h0M339.6 398.8h0M356.4 395.1h0M354.2 397.1h0M351.1 404.5h0M351.5 402.1h0M345.7 400.4h0M348.8 391.3h0M340.6 401.7h0M349.9 384.3h0M350.1 403.6h0M342.5 403.5h0M348.5 397.0h0M349.6 405.9h0M354.1 405.3h0M346.0 398.3h0M342.9 396.7h0M347.9 397.2h0M355.1 402.6h0M355.4 400.8h0M357.5 400.7h0M356.8 403.0h0M355.3 399.6h0M342.4 391.3h0M363.2 402.3h0M353.4 399.0h0M343.2 399.6h0M350.2 393.2h0M342.2 395.8h0M348.3 397.1h0M355.8 392.9h0M353.1 408.8h0M356.3 393.2h0M353.7 396.5h0M358.8 397.6h0M351.2 393.8h0M352.6 397.4h0M347.2 406.5h0M351.9 391.0h0M355.0 405.0h0M345.1 397.6h0M350.8 398.5h0M351.3 403.9h0M345.9 396.8h0M350.7 398.9h0M343.5 406.9h0M351.6 394.9h0M353.1 408.2h0M358.0 402.6h0M350.3 403.3h0M358.4 405.2h0M357.4 401.3h0M355.5 407.3h0M349.4 392.2h0M361.7 403.5h0M347.6 401.4h0M348.9 389.8h0M349.3 391.5h0M351.8 399.3h0M357.9 399.3h0M352.9 398.2h0M348.0 391.6h0M356.9 401.0h0M346.7 401.3h0M347.8 395.7h0M352.1 407.3h0M348.7 391.5h0M346.5 410.8h0M345.2 407.1h0M348.9 404.4h0M349.8 390.5h0M349.6 403.4h0M348.3 399.2h0M352.6 402.8h0M364.9 399.9h0M349.3 396.0h0M342.0 390.3h0M354.8 388.8h0M359.6 405.2h0M348.6 393.1h0M350.7 400.1h0M357.8 395.6h0M348.1 399.7h0M348.7 396.3h0M339.4 390.2h0M346.1 398.7h0M361.7 402.4h0M362.7 399.3h0M343.6 397.5h0M348.8 408.8h0M346.7 404.7h0M347.9 392.7h0M352.1 401.0h0M343.0 394.8h0M345.4 405.8h0M353.5 401.5h0M353.7 397.2h0M353.6 396.4h0M341.9 395.8h0M351.9 400.6h0M357.4 389.9h0M349.1 402.4h0M344.3 401.5h0M347.9 393.3h0M357.8 391.7h0M357.0 397.6h0M344.4 394.7h0M345.8 395.0h0M352.3 388.8h0M358.6 405.1h0M359.6 394.2h0M349.5 401.9h0M347.2 399.5h0M351.5 390.8h0M362.3 393.3h0M352.3 406.5h0M345.5 400.1h0M361.2 398.4h0M357.4 401.8h0M352.1 404.4h0M349.1 398.8h0M356.8 401.6h0M353.8 392.9h0M350.7 407.3h0M356.4 402.1h0M347.2 396.4h0M353.4 408.6h0M350.9 407.9h0M348.7 407.3h0M344.1 401.2h0M343.7 404.0h0M354.3 394.4h0M345.8 397.4h0M340.9 394.5h0M345.0 404.8h0M359.6 397.4h0M348.7 401.4h0M347.2 398.4h0M356.0 401.5h0M350.0 396.7h0M360.2 396.4h0M351.4 393.9h0M346.7 400.7h0M348.0 403.3h0M351.0 391.8h0M346.8 409.0h0M350.7 395.5h0M354.2 398.5h0M350.7 394.5h0M354.7 406.6h0M347.2 410.8h0M346.9 401.6h0M340.0 388.6h0M364.2 408.6h0M358.0 389.9h0M352.1 402.6h0M351.1 401.9h0M344.6 399.1h0M343.2 398.0h0M353.0 395.4h0M348.8 397.5h0M350.7 405.6h0M352.1 402.4h0M341.2 397.9h0M355.9 394.9h0M347.8 394.3h0M359.2 397.4h0M345.8 403.8h0M357.7 403.0h0M356.9 401.3h0M349.7 397.4h0M347.3 396.5h0M352.9 399.4h0M351.1 403.7h0M350.2 391.8h0M345.4 393.3h0M338.2 400.7h0M342.8 392.4h0M343.6 405.3h0M348.5 406.0h0M350.0 397.4h0M354.2 403.6h0M351.3 393.8h0M347.6 393.0h0M348.9 400.6h0M360.2 408.5h0M354.9 405.7h0M353.0 402.5h0M357.4 401.2h0M352.5 394.1h0M356.6 400.8h0M355.8 398.7h0M339.0 403.0h0M358.1 392.3h0M344.2 398.2h0M348.9 389.8h0M361.9 406.1h0M346.5 389.1h0M355.9 406.9h0M344.4 401.4h0M354.2 387.4h0M338.5 402.9h0M351.4 398.1h0M352.9 389.2h0M349.5 392.1h0M345.3 401.9h0M349.4 393.6h0M350.3 395.1h0M353.9 398.5h0M353.0 398.4h0M355.3 399.1h0M350.4 396.6h0M351.4 389.3h0M367.8 395.9h0M351.1 397.1h0M347.3 402.4h0M347.1 397.4h0M341.5 394.4h0M342.8 410.7h0M341.7 393.5h0M351.7 408.5h0M339.4 390.6h0M351.2 401.9h0M341.2 389.1h0M344.2 404.4h0M350.1 404.4h0M349.7 399.7h0M354.4 399.2h0M351.9 394.4h0M346.5 402.7h0M348.8 395.4h0M354.6 403.2h0M350.3 395.3h0M345.0 390.6h0M345.3 394.3h0M342.1 392.8h0M355.9 405.0h0M360.0 404.3h0M347.2 406.4h0M346.4 397.8h0M342.7 407.2h0M356.9 397.1h0M348.3 400.1h0M351.6 404.9h0M350.8 402.2h0M340.6 398.0h0M338.7 410.5h0M359.4 404.1h0M356.4 390.3h0M349.0 385.7h0M345.0 392.4h0M350.3 402.2h0M344.3 398.1h0M352.1 398.9h0M349.1 385.4h0M347.4 404.6h0M352.0 390.9h0M348.5 401.4h0M343.9 403.8h0M345.1 397.8h0M348.2 396.4h0M354.9 397.0h0M351.5 386.3h0M352.2 399.7h0M341.9 407.9h0M348.7 398.6h0M341.7 390.0h0M346.6 390.6h0M353.4 405.0h0M346.1 390.1h0M347.7 393.4h0M351.3 400.8h0M347.5 400.2h0M357.0 410.0h0M346.9 404.1h0M348.7 393.4h0M358.6 402.1h0M351.2 401.9h0M349.2 393.4h0M361.8 405.2h0M351.9 405.5h0M358.6 398.6h0M354.0 397.8h0M354.4 398.2h0M366.1 397.6h0M353.6 402.5h0" stroke="#666" stroke-width="0.60" stroke-linecap="square" fill="none"/>
<path d="M351.0 402.7h0M351.7 397.9h0M351.9 396.6h0M355.0 401.6h0M354.4 394.5h0M352.6 396.6h0M352.1 403.9h0M352.6 398.7h0M354.8 403.0h0M356.7 392.7h0M352.7 397.9h0M349.6 399.8h0M348.9 391.3h0M349.5 398.4h0M356.7 396.8h0M348.9 392.2h0M351.0 398.5h0M352.3 394.1h0M349.9 391.2h0M352.3 393.7h0M344.8 403.5h0M353.2 400.6h0M352.8 395.6h0M354.7 395.6h0M356.9 400.2h0M347.1 402.5h0M357.0 398.4h0M354.7 398.6h0M350.3 390.1h0M355.1 397.8h0M352.9 395.3h0M349.5 403.4h0M350.9 397.9h0M348.6 400.1h0M353.9 397.7h0M351.4 395.0h0M355.5 397.1h0M351.5 405.4h0M351.3 393.8h0M349.5 398.1h0M356.5 400.2h0M351.3 402.4h0M355.3 396.6h0M355.7 402.5h0M353.1 390.8h0M352.4 404.4h0M351.2 407.7h0M352.1 395.7h0M353.5 400.5h0M354.1 398.6h0M355.3 397.4h0M352.3 394.9h0M349.8 400.1h0M350.2 397.8h0M351.4 400.3h0M353.9 402.2h0M354.6 400.2h0M350.5 393.7h0M351.0 396.5h0M347.2 405.4h0M347.1 400.7h0M353.4 398.6h0M358.7 399.5h0M349.9 405.8h0M349.8 394.2h0M349.3 397.1h0M352.1 400.6h0M347.9 400.7h0M357.8 396.8h0M351.6 402.0h0M355.1 397.0h0M349.4 395.7h0M354.8 402.7h0M346.2 391.6h0M348.7 393.9h0M353.0 400.2h0M357.1 402.3h0M352.3 403.7h0M349.6 394.3h0M352.0 402.9h0M347.7 402.7h0M354.2 397.6h0M352.4 398.4h0M352.2 402.4h0M349.8 403.2h0M354.2 402.7h0M346.7 392.6h0M353.8 397.3h0M350.1 396.6h0M348.4 398.4h0M350.0 397.0h0M353.2 395.1h0M354.9 391.3h0M358.6 394.4h0M353.5 402.8h0M351.9 402.1h0M351.7 393.0h0M352.9 403.6h0M350.5 393.2h0M350.3 400.6h0M352.7 403.5h0M353.4 401.3h0M346.6 407.6h0M352.1 402.6h0M351.0 398.9h0M352.1 405.2h0M356.0 401.7h0M357.2 398.0h0M353.3 397.8h0M355.4 399.6h0M354.5 405.8h0M346.5 407.4h0M352.8 398.3h0M346.9 398.3h0M345.9 399.8h0M351.5 406.2h0M351.1 403.4h0M355.1 407.0h0M351.3 402.3h0M347.9 395.4h0M351.2 399.4h0M348.7 397.9h0M353.8 397.8h0M351.6 396.2h0M355.7 406.0h0M352.5 399.0h0M356.4 401.2h0M350.2 394.5h0M350.4 407.6h0M350.4 410.1h0M352.0 398.7h0M355.5 398.6h0M353.0 395.6h0M348.7 396.8h0M352.6 397.0h0M346.8 401.2h0M351.5 398.5h0M350.4 391.2h0M356.2 397.7h0M353.4 404.6h0M355.0 400.2h0M352.0 400.6h0M354.4 401.6h0M350.8 401.2h0M353.0 402.1h0M352.5 404.6h0M352.5 402.8h0M352.1 397.4h0M349.5 398.9h0M353.4 404.2h0M351.8 397.6h0M350.6 404.3h0M352.3 397.6h0M354.0 394.6h0M352.3 399.3h0M351.6 395.2h0M354.6 405.7h0M348.5 399.9h0M353.7 407.8h0M350.9 396.0h0M352.0 406.9h0M352.2 400.5h0M356.7 391.6h0M346.2 402.8h0M354.1 394.4h0M353.4 399.7h0M352.6 396.5h0M350.8 396.3h0M352.1 398.6h0M356.5 401.8h0M347.8 401.0h0M355.8 400.5h0M354.9 399.4h0M353.9 396.0h0M354.1 394.4h0M355.4 393.9h0M346.4 401.5h0M351.5 399.9h0M353.1 399.4h0M349.6 400.3h0M352.9 401.3h0M357.3 396.8h0M352.2 401.6h0M350.8 395.1h0M350.5 403.4h0M351.3 401.8h0M350.0 401.1h0M350.2 396.4h0M352.3 399.7h0M355.9 393.5h0M353.4 405.5h0M355.6 398.1h0M350.2 397.7h0M352.8 400.2h0M352.9 401.7h0M349.1 395.3h0M348.7 394.5h0M351.7 400.6h0M358.8 401.5h0M352.0 404.7h0M350.0 400.8h0M354.6 402.4h0M353.1 398.2h0M348.7 398.9h0M350.4 402.0h0M351.6 401.6h0M347.7 403.1h0M349.7 393.7h0M348.3 397.2h0M355.0 402.1h0M348.9 399.8h0M351.7 393.7h0M349.4 392.0h0M349.7 389.7h0M349.9 396.0h0M349.9 396.5h0M355.1 398.2h0M352.6 402.3h0M354.4 402.0h0M350.5 395.5h0M349.9 397.8h0M352.0 399.2h0M354.9 399.1h0M356.8 403.3h0M350.7 402.7h0M344.3 404.6h0M353.1 401.0h0M347.5 408.8h0M351.3 399.0h0M355.0 398.8h0M349.7 401.9h0M349.3 402.2h0M352.4 403.6h0M348.8 404.1h0M352.8 406.8h0M350.3 406.3h0M353.9 402.4h0M350.1 401.6h0M353.8 396.4h0M348.9 396.7h0M355.9 400.1h0M354.5 400.6h0M352.3 400.3h0M350.9 404.0h0M352.5 400.3h0M348.3 400.6h0M350.2 397.7h0M354.8 395.5h0M351.5 401.8h0M355.1 397.6h0M352.8 400.6h0M349.0 391.6h0M346.9 401.7h0M352.3 394.6h0M350.3 398.0h0M351.0 399.4h0M357.9 396.6h0M352.4 396.7h0M350.3 396.3h0M351.4 397.5h0M352.9 400.3h0M349.6 406.6h0M348.9 400.8h0M357.8 396.9h0M355.5 404.7h0M352.9 392.7h0M355.8 399.8h0M350.5 404.2h0M350.1 403.4h0M350.5 401.5h0M349.1 398.0h0M349.6 396.9h0M352.5 398.9h0M352.5 404.2h0M351.7 392.7h0M351.2 399.8h0M354.7 403.3h0M354.5 398.7h0M353.7 394.2h0M355.4 401.1h0M353.3 398.1h0M352.1 397.0h0M353.5 394.6h0M354.6 401.5h0M357.4 399.4h0M351.8 400.2h0M352.1 399.1h0M349.1 395.4h0M350.5 398.4h0M348.8 395.2h0M351.2 402.2h0M351.5 402.0h0M354.6 402.3h0M350.9 398.0h0M347.0 397.0h0M353.2 395.5h0M355.6 404.8h0M351.0 402.9h0M348.2 395.6h0M351.0 399.5h0M351.5 396.3h0M357.2 400.6h0M352.8 402.0h0M352.5 398.6h0M350.5 393.5h0M356.0 396.1h0M347.6 396.5h0M347.7 406.8h0M353.0 404.7h0M355.9 401.6h0M353.5 396.8h0M351.8 397.3h0M352.1 396.9h0M355.4 402.3h0M351.7 393.4h0M353.8 402.7h0M351.8 394.9h0M353.1 403.4h0M346.9 401.6h0M347.2 399.8h0M356.6 399.8h0M353.3 398.3h0M352.0 408.1h0M355.5 398.3h0M351.0 399.6h0M357.8 400.3h0M354.9 398.2h0M348.6 404.4h0M351.8 396.6h0M350.2 397.0h0M350.4 393.9h0M355.2 400.9h0M354.6 398.2h0M352.9 400.1h0M355.1 402.5h0M352.9 397.1h0M348.8 396.6h0M350.3 397.5h0M348.7 405.6h0M352.7 392.1h0M349.1 394.6h0M352.6 403.4h0M349.4 401.8h0M351.3 403.7h0M355.6 400.6h0M353.9 399.5h0M351.0 395.2h0M352.9 399.2h0M351.0 399.2h0M351.5 395.7h0M350.6 403.7h0M351.4 404.6h0M349.0 394.6h0M352.3 402.3h0M350.3 401.8h0M354.5 403.4h0M351.7 399.3h0M347.7 399.6h0M352.7 404.7h0M348.7 396.4h0M349.4 402.8h0M345.3 395.6h0M357.4 401.9h0M348.5 399.3h0M354.2 401.5h0M351.4 396.6h0M354.2 399.5h0M354.1 400.9h0M350.8 404.7h0M350.7 401.1h0M350.3 398.7h0M351.3 397.1h0M352.6 404.3h0M356.9 404.7h0M351.5 404.8h0M353.1 406.0h0M348.7 404.9h0M350.4 403.7h0M350.8 402.8h0M351.3 392.7h0" stroke="#111" stroke-width="0.64" stroke-linecap="square" fill="none"/>
<path d="M400.3 361.4h0M379.9 347.6h0M390.2 350.0h0M393.7 351.3h0M394.8 355.9h0M398.2 359.8h0M380.4 345.9h0M400.8 362.2h0M391.9 350.8h0M400.2 364.5h0M398.8 359.2h0M391.2 349.7h0M400.6 363.9h0M393.4 350.4h0M382.8 346.2h0M385.0 348.6h0M393.2 353.8h0M397.8 358.7h0M388.3 349.3h0M400.7 363.4h0M387.1 348.0h0M402.2 364.3h0M396.7 355.4h0M398.8 357.2h0M389.9 351.0h0M393.4 353.5h0M389.8 349.2h0M393.2 352.6h0M399.7 360.6h0M398.3 358.8h0M398.3 360.7h0M392.0 349.5h0M388.6 347.9h0M393.8 355.6h0M399.7 364.2h0M397.1 357.3h0M386.5 347.4h0M398.3 359.6h0M398.3 362.6h0M398.3 357.6h0M397.2 357.9h0M397.5 355.9h0M394.6 353.7h0M391.1 349.7h0M398.0 357.1h0M391.7 350.3h0M384.5 347.8h0M400.7 362.0h0M400.1 362.9h0M382.8 348.0h0M398.2 360.1h0M395.3 355.4h0M389.1 349.0h0M389.2 348.8h0M383.4 348.0h0M392.2 350.9h0M385.7 347.8h0M395.6 357.1h0M401.0 363.6h0M387.6 349.6h0M386.4 349.4h0M394.0 352.4h0M383.2 345.8h0M383.5 347.6h0M385.1 346.3h0M399.8 360.1h0M392.7 353.0h0M400.1 358.5h0M398.9 360.7h0M388.2 348.8h0M383.8 349.5h0M381.5 345.6h0M397.0 358.3h0M394.2 353.0h0M397.7 361.9h0M397.1 355.3h0M385.0 345.9h0M393.9 350.8h0M389.0 353.0h0M383.2 346.2h0M383.8 346.6h0M394.6 358.9h0M395.7 356.6h0M391.1 351.0h0M383.6 345.4h0M386.6 349.0h0M391.7 351.1h0M397.6 358.2h0M391.2 350.6h0M397.5 358.7h0M390.3 349.2h0M395.9 354.1h0M396.6 359.1h0M391.8 350.0h0M391.8 352.4h0M381.1 346.4h0M383.2 345.6h0M396.7 356.6h0M382.5 346.0h0M385.3 346.7h0M393.1 351.8h0M399.6 363.5h0M399.8 365.6h0M398.8 358.7h0M390.1 349.3h0M384.9 347.0h0M390.7 350.9h0M381.6 345.4h0M387.7 348.7h0M396.0 358.1h0M395.7 355.0h0M400.6 363.2h0M388.8 348.4h0M390.5 351.6h0M396.9 358.4h0M386.9 347.9h0M386.3 348.5h0M400.5 364.8h0M389.9 348.9h0M399.9 361.7h0M391.8 349.1h0M400.1 362.4h0M400.5 359.8h0M388.4 347.9h0M396.4 356.2h0M389.1 349.6h0M389.6 348.3h0M396.8 357.8h0M390.7 351.1h0M387.6 348.3h0M399.7 361.3h0M397.3 360.3h0M398.9 359.8h0M388.6 349.6h0M400.5 364.8h0M393.4 352.6h0M388.4 349.3h0M384.0 345.9h0M399.1 359.8h0M396.9 357.3h0M400.3 363.5h0M382.6 345.4h0M381.3 345.4h0M400.9 361.8h0M386.8 348.3h0M389.0 349.2h0M393.1 352.5h0M386.2 346.1h0" stroke="#555" stroke-width="0.60" stroke-linecap="square" fill="none"/>
<path d="M391.6 352.0h0M392.1 351.8h0M393.2 354.0h0M399.2 359.8h0M393.4 352.9h0M394.9 356.2h0M399.4 363.0h0M394.9 352.6h0M393.5 352.2h0M394.5 353.9h0M397.3 356.5h0M398.4 361.9h0M391.5 351.9h0M396.1 357.4h0M391.4 351.8h0M399.7 362.9h0M396.5 355.7h0M398.6 358.3h0M394.8 353.3h0M397.8 355.0h0M398.6 360.7h0M392.8 352.3h0M394.1 353.0h0M394.3 354.6h0M398.8 360.6h0M399.7 361.4h0M397.9 359.8h0M394.4 353.4h0M395.5 353.8h0M397.7 359.7h0M394.8 356.8h0M395.2 354.7h0M399.3 363.1h0M394.4 353.6h0M398.4 360.1h0M393.6 352.7h0M400.2 361.4h0M395.0 353.6h0M399.3 361.9h0M397.5 359.4h0M397.7 361.9h0M396.4 358.9h0M392.3 352.6h0M395.7 355.2h0M399.4 362.8h0M392.6 352.7h0M395.9 357.5h0M395.8 357.4h0M395.0 356.5h0M394.8 353.7h0M393.8 355.2h0M394.1 352.8h0M393.9 354.2h0M392.2 351.3h0M398.6 359.5h0M399.8 361.2h0M394.5 352.8h0M391.8 352.2h0M395.0 355.6h0M392.5 352.5h0" stroke="#333" stroke-width="0.64" stroke-linecap="square" fill="none"/>
<rect x="336.40" y="344.40" width="67.40" height="67.60" fill="none" stroke="#555" stroke-width="0.9"/>
<line x1="361.30" y1="344.40" x2="361.30" y2="412.00" stroke="#999" stroke-width="0.8"/>
<line x1="336.40" y1="390.60" x2="403.80" y2="390.60" stroke="#999" stroke-width="0.8"/>
<line x1="336.40" y1="412.00" x2="403.80" y2="412.00" stroke="#222" stroke-width="1.6"/>
<line x1="335.40" y1="412.00" x2="336.40" y2="412.00" stroke="#777" stroke-width="0.5"/>
<text x="332.80" y="413.00" font-size="3.4" font-weight="normal" fill="#777" text-anchor="end">10<tspan font-size="2.38" dy="-1.1">0</tspan></text>
<line x1="335.40" y1="395.10" x2="336.40" y2="395.10" stroke="#777" stroke-width="0.5"/>
<text x="332.80" y="396.10" font-size="3.4" font-weight="normal" fill="#777" text-anchor="end">10<tspan font-size="2.38" dy="-1.1">1</tspan></text>
<line x1="335.40" y1="378.20" x2="336.40" y2="378.20" stroke="#777" stroke-width="0.5"/>
<text x="332.80" y="379.20" font-size="3.4" font-weight="normal" fill="#777" text-anchor="end">10<tspan font-size="2.38" dy="-1.1">2</tspan></text>
<line x1="335.40" y1="361.30" x2="336.40" y2="361.30" stroke="#777" stroke-width="0.5"/>
<text x="332.80" y="362.30" font-size="3.4" font-weight="normal" fill="#777" text-anchor="end">10<tspan font-size="2.38" dy="-1.1">3</tspan></text>
<line x1="335.40" y1="344.40" x2="336.40" y2="344.40" stroke="#777" stroke-width="0.5"/>
<text x="332.80" y="345.40" font-size="3.4" font-weight="normal" fill="#777" text-anchor="end">10<tspan font-size="2.38" dy="-1.1">4</tspan></text>
<line x1="336.40" y1="412.00" x2="336.40" y2="413.00" stroke="#777" stroke-width="0.5"/>
<text x="336.40" y="421.80" font-size="3.4" font-weight="normal" fill="#777" text-anchor="middle">10<tspan font-size="2.38" dy="-1.1">0</tspan></text>
<line x1="353.25" y1="412.00" x2="353.25" y2="413.00" stroke="#777" stroke-width="0.5"/>
<text x="353.25" y="421.80" font-size="3.4" font-weight="normal" fill="#777" text-anchor="middle">10<tspan font-size="2.38" dy="-1.1">1</tspan></text>
<line x1="370.10" y1="412.00" x2="370.10" y2="413.00" stroke="#777" stroke-width="0.5"/>
<text x="370.10" y="421.80" font-size="3.4" font-weight="normal" fill="#777" text-anchor="middle">10<tspan font-size="2.38" dy="-1.1">2</tspan></text>
<line x1="386.95" y1="412.00" x2="386.95" y2="413.00" stroke="#777" stroke-width="0.5"/>
<text x="386.95" y="421.80" font-size="3.4" font-weight="normal" fill="#777" text-anchor="middle">10<tspan font-size="2.38" dy="-1.1">3</tspan></text>
<line x1="403.80" y1="412.00" x2="403.80" y2="413.00" stroke="#777" stroke-width="0.5"/>
<text x="403.80" y="421.80" font-size="3.4" font-weight="normal" fill="#777" text-anchor="middle">10<tspan font-size="2.38" dy="-1.1">4</tspan></text>
<text x="342.17" y="357.60" font-size="6.0" fill="#111" stroke="#111" stroke-width="0.3" textLength="7.96" lengthAdjust="spacingAndGlyphs">0.4</text>
<text x="366.53" y="357.60" font-size="6.0" fill="#111" stroke="#111" stroke-width="0.3" textLength="11.91" lengthAdjust="spacingAndGlyphs">15.4</text>
<text x="339.55" y="409.80" font-size="6.0" fill="#111" stroke="#111" stroke-width="0.3" textLength="12.29" lengthAdjust="spacingAndGlyphs">75.4</text>
<text x="368.83" y="409.80" font-size="6.0" fill="#111" stroke="#111" stroke-width="0.3" textLength="8.05" lengthAdjust="spacingAndGlyphs">8.8</text>
<path d="M489.1 352.5h0M488.3 397.3h0M492.3 360.6h0M488.8 405.7h0M490.9 353.0h0M490.0 366.7h0M489.6 384.8h0M493.1 356.1h0M490.6 379.2h0M489.2 379.7h0M488.2 386.6h0M489.1 406.5h0M488.3 374.9h0M491.6 405.4h0M492.2 363.3h0M491.2 389.9h0M492.0 376.1h0M492.2 397.3h0M491.0 381.8h0M488.3 402.1h0M491.5 359.4h0M487.2 366.1h0M490.3 383.2h0M488.1 388.7h0M491.9 373.1h0M491.7 399.0h0M489.3 373.1h0M491.1 407.0h0M492.0 406.8h0M490.6 352.6h0M488.8 389.1h0M487.8 402.5h0M493.1 353.1h0M487.6 395.0h0M488.4 385.5h0M492.5 381.6h0M487.3 366.7h0M488.0 394.8h0M489.6 363.4h0M488.1 361.1h0" stroke="#999" stroke-width="0.60" stroke-linecap="square" fill="none"/>
<path d="M495.2 380.0h0M497.0 388.9h0M501.9 382.2h0M503.9 353.3h0M502.8 351.5h0M503.6 351.7h0M499.6 392.1h0M500.0 375.0h0M502.4 383.9h0M496.7 374.6h0M503.5 392.5h0M504.1 410.9h0M502.3 387.7h0M504.6 362.6h0M500.3 394.6h0M502.9 363.1h0M493.0 392.3h0M503.8 385.3h0M503.6 350.7h0M501.7 361.6h0M504.7 364.0h0M494.1 373.2h0M496.3 404.4h0M497.9 393.7h0M500.5 379.5h0M497.5 374.9h0M502.7 351.8h0M504.5 363.4h0M491.1 404.1h0M500.4 373.2h0M495.5 366.9h0M503.6 407.8h0M495.0 363.7h0M499.6 399.2h0M497.4 373.5h0M503.8 372.5h0M502.1 370.5h0M499.2 366.6h0M492.9 366.2h0M503.6 367.3h0M504.3 378.6h0M498.7 377.3h0M499.2 351.2h0M499.9 374.2h0M504.0 400.4h0M501.4 396.3h0M500.5 357.8h0M503.9 362.8h0M504.4 388.7h0M503.4 388.7h0M495.0 353.1h0M502.0 369.1h0M500.3 381.4h0M504.6 391.9h0M497.1 384.6h0M498.5 389.6h0M500.6 404.5h0M504.3 403.9h0M502.4 362.3h0M502.7 403.4h0M501.3 363.0h0M502.2 350.2h0M498.8 398.0h0M504.2 405.8h0M504.0 356.4h0M492.5 396.3h0M501.3 355.0h0M502.0 406.3h0M499.8 378.5h0M501.3 380.0h0M498.2 406.0h0M499.7 368.7h0M485.3 383.3h0M497.2 356.2h0M504.1 360.9h0M503.8 382.9h0M503.0 403.3h0M500.2 372.8h0M497.9 350.3h0M499.6 364.3h0M503.0 380.6h0M498.5 353.9h0M496.9 358.8h0M494.0 363.8h0M497.3 401.8h0M499.3 376.2h0M497.7 358.5h0M498.0 383.1h0M503.2 385.4h0M503.5 387.9h0M502.1 395.4h0M503.8 384.9h0M504.2 353.2h0M498.2 386.6h0M501.6 387.3h0M500.9 380.9h0M501.6 358.9h0M501.1 362.7h0M504.2 388.6h0M503.1 397.4h0M501.6 354.5h0M495.4 396.8h0M503.0 377.7h0M502.3 388.7h0M496.5 398.3h0M500.8 355.2h0M504.6 394.9h0M503.9 395.7h0M500.7 378.8h0M502.0 365.9h0M504.5 385.3h0M494.9 386.1h0M501.9 374.8h0M503.4 382.3h0M503.2 395.3h0M503.0 398.7h0M489.3 408.1h0M500.6 409.9h0M503.6 351.4h0M503.7 405.7h0M504.5 404.2h0M502.1 411.3h0M502.6 398.7h0M494.9 408.2h0M497.2 410.3h0M500.8 358.3h0M501.7 357.4h0M496.9 384.5h0M500.8 406.3h0M501.3 382.7h0M500.3 381.2h0M489.6 402.7h0M500.3 386.0h0M502.4 400.7h0M501.4 387.1h0M499.6 381.8h0M503.3 380.6h0M504.6 398.9h0M495.1 357.6h0M497.6 370.8h0M499.8 356.0h0M501.9 390.5h0M502.1 374.9h0M500.1 405.0h0M500.8 371.0h0M498.7 406.4h0M504.6 369.2h0M489.9 408.0h0M503.5 405.2h0M501.3 367.8h0M504.0 382.7h0M503.2 354.6h0M504.4 388.2h0M494.6 391.7h0M487.7 378.3h0M500.9 376.5h0M501.1 380.4h0M502.3 398.5h0M502.5 362.3h0M503.4 401.4h0M496.0 394.1h0M496.6 374.4h0M504.5 409.9h0M497.3 385.9h0M504.6 381.4h0M501.9 382.6h0M500.7 371.1h0M504.1 382.5h0M495.4 355.8h0M503.4 387.3h0M499.1 370.9h0M498.5 390.6h0M490.8 387.1h0M501.3 411.0h0M497.8 395.4h0M501.1 350.5h0M504.5 357.4h0M498.1 380.5h0M496.9 383.2h0M499.0 379.3h0M500.7 395.0h0M498.8 407.4h0M501.0 353.8h0M499.5 388.6h0M504.5 367.8h0M502.5 374.0h0M503.5 408.7h0M496.7 354.1h0M501.6 362.6h0M490.1 381.0h0M501.8 396.0h0M500.8 408.5h0M494.6 409.8h0M501.5 407.1h0M501.3 397.8h0M498.6 377.7h0M504.8 367.5h0M500.3 403.1h0M490.2 396.0h0M486.1 393.7h0M504.6 397.4h0M488.2 406.4h0M498.2 383.6h0M499.2 365.7h0M494.4 350.7h0M500.9 364.8h0M497.9 390.4h0M503.7 372.7h0M497.2 362.1h0M504.7 358.2h0M484.8 352.1h0M499.7 385.1h0M494.2 390.4h0M498.8 408.7h0M501.5 398.1h0M504.6 359.6h0M502.0 362.6h0M503.8 409.4h0M500.7 367.9h0M492.1 383.2h0M503.5 399.5h0M503.3 389.3h0M494.8 352.4h0M500.4 379.0h0M504.6 382.8h0M503.4 383.0h0M501.4 356.9h0M504.2 409.3h0M497.1 380.8h0M504.6 391.4h0M494.3 397.1h0M498.8 365.5h0M499.6 351.6h0M499.3 387.8h0M501.8 406.0h0M504.6 404.7h0M496.9 404.0h0M501.9 362.5h0M499.7 404.3h0M496.7 354.7h0M494.7 367.5h0M501.7 400.8h0M504.3 355.7h0M502.7 398.0h0M504.6 398.9h0M500.6 405.8h0M494.9 402.7h0M494.7 394.1h0M496.9 360.3h0M504.7 357.2h0M501.6 354.9h0M497.3 369.1h0M499.0 369.2h0M499.2 411.0h0M496.5 402.5h0M503.6 355.8h0M500.0 379.0h0M494.8 399.3h0M499.5 374.1h0M495.3 382.1h0M497.9 403.9h0M495.6 406.4h0M496.7 360.5h0M502.2 400.5h0M503.4 377.7h0M501.8 351.4h0M498.0 368.6h0M492.1 404.7h0M500.9 361.3h0M502.9 360.2h0M502.9 408.8h0M504.5 376.6h0M502.5 406.1h0M503.0 367.3h0M487.5 353.8h0M484.4 406.3h0M499.5 369.7h0M499.0 407.8h0M500.3 391.4h0M502.2 401.3h0M491.2 369.7h0M492.8 393.8h0M504.4 400.2h0M496.4 391.8h0M503.9 406.8h0M502.7 405.7h0M499.2 384.9h0M496.1 408.0h0M503.4 393.9h0M503.1 406.0h0M501.5 358.8h0M497.9 368.4h0M497.1 359.3h0M496.4 351.5h0M502.3 390.3h0M499.4 409.7h0M502.6 388.7h0M500.7 409.9h0M499.5 400.5h0M503.4 388.1h0M501.2 374.6h0M504.1 362.2h0M503.1 408.9h0M500.8 407.9h0M504.0 405.3h0M499.3 370.5h0M501.5 396.1h0M501.9 382.9h0M502.4 400.6h0M502.4 384.9h0M499.1 350.7h0M503.4 367.1h0M502.9 366.6h0M497.6 370.2h0M503.2 371.2h0M491.9 351.1h0M504.8 381.4h0M500.0 407.8h0M502.5 387.9h0M498.0 363.1h0M504.2 409.7h0M501.7 403.9h0M502.8 404.3h0M504.0 357.2h0M502.4 393.3h0M499.2 370.2h0M502.7 399.0h0M501.8 373.0h0M498.5 365.1h0M482.6 409.6h0M500.8 402.5h0M497.7 389.9h0M496.5 379.6h0M502.4 384.8h0M500.4 390.5h0M501.7 376.3h0M504.1 375.1h0M501.4 366.3h0M497.3 388.4h0M499.4 367.6h0M503.6 375.7h0M495.7 367.7h0M504.6 406.2h0M494.7 381.9h0M503.6 359.2h0M504.7 357.5h0M500.9 397.5h0M498.4 407.6h0M501.3 363.8h0M489.6 385.1h0M502.0 379.9h0M504.1 377.0h0M496.8 392.9h0M501.3 399.4h0M503.5 400.4h0M495.6 363.6h0M493.3 387.1h0M501.4 359.6h0M497.9 361.5h0M497.0 371.3h0M501.5 385.2h0M498.0 380.3h0M498.3 352.9h0M501.1 380.2h0M489.3 360.4h0M503.5 360.6h0M494.4 403.1h0M492.2 389.8h0M496.3 365.2h0M500.6 397.5h0M494.8 410.4h0M498.4 402.5h0M501.2 359.1h0M504.6 390.6h0M500.7 375.2h0M500.4 377.1h0M488.1 361.3h0M496.9 357.7h0M492.6 409.9h0M503.9 378.1h0M495.2 360.1h0M501.4 378.6h0M504.3 378.1h0M497.8 359.6h0M504.2 395.5h0M497.8 388.5h0M497.9 394.3h0M494.8 401.6h0M501.0 404.0h0M492.4 411.5h0M504.3 393.3h0M503.6 410.4h0M489.9 410.7h0M500.4 361.9h0M498.0 374.0h0M501.4 379.6h0M496.4 378.8h0M502.7 356.0h0M497.2 374.1h0M497.4 398.6h0M501.2 381.3h0M493.5 391.0h0M497.5 392.6h0M500.1 388.5h0M503.3 350.8h0M502.5 373.5h0M498.9 396.0h0M494.2 372.5h0M500.8 409.6h0M502.7 409.0h0M501.9 381.5h0M503.1 410.3h0M495.4 362.8h0M498.7 379.6h0M501.8 406.9h0M496.4 355.5h0M496.8 381.5h0M501.4 375.6h0M501.7 373.9h0M504.2 376.7h0M500.2 387.0h0M503.7 406.8h0M495.9 353.2h0M504.6 358.9h0M486.8 392.2h0M503.8 383.2h0M495.8 394.4h0M498.9 402.0h0M499.2 400.5h0M501.8 369.7h0M501.6 363.3h0M502.0 388.2h0M504.1 353.4h0M504.0 386.5h0M482.0 388.1h0M498.7 379.8h0M501.9 402.5h0M499.3 354.1h0M498.3 351.2h0M500.3 407.3h0M501.7 401.8h0M489.6 352.3h0M492.8 394.3h0M504.6 386.1h0M500.2 358.8h0M504.5 375.4h0M500.4 386.7h0M494.9 387.3h0M491.9 362.4h0M495.5 350.7h0M498.1 353.9h0M495.5 364.8h0M500.8 369.2h0M504.5 362.7h0M495.6 371.0h0M502.5 356.2h0M496.1 374.2h0M497.6 370.6h0M491.4 368.4h0M497.3 373.4h0M504.5 403.1h0M492.9 398.5h0M500.2 357.9h0M492.3 356.1h0M503.4 384.6h0M490.5 355.4h0M496.8 399.9h0M503.7 372.9h0M501.2 410.3h0M503.3 372.6h0M498.1 383.2h0M497.0 353.9h0M500.0 360.6h0M498.2 361.1h0M504.5 407.8h0M504.2 411.2h0M495.4 389.2h0M497.5 388.6h0M499.4 396.9h0M503.5 377.1h0M493.3 407.4h0M504.7 364.4h0M502.2 406.1h0M493.1 351.2h0M494.3 386.2h0M491.4 387.9h0M501.5 396.7h0M498.6 361.2h0M494.7 371.0h0M503.6 406.6h0M497.8 362.1h0M502.2 368.2h0M494.5 385.5h0M498.7 410.8h0M501.0 370.3h0M497.6 360.6h0M504.1 357.6h0M498.2 410.7h0M501.6 365.7h0M496.2 395.7h0M490.9 354.4h0M486.4 376.3h0M502.2 385.9h0M503.5 395.2h0M496.8 389.0h0M497.3 376.0h0M503.4 360.2h0M495.1 375.5h0M501.5 378.5h0M503.1 369.4h0M502.1 358.9h0M500.4 404.4h0M494.6 361.9h0M499.2 373.2h0M496.5 378.4h0M502.4 360.2h0M496.3 398.1h0M499.0 359.9h0M504.3 401.2h0M501.7 351.6h0M503.1 351.5h0M499.6 381.8h0M491.0 382.9h0M499.8 378.2h0M500.1 406.4h0M504.8 396.1h0M504.3 400.7h0M503.3 397.9h0M500.1 400.5h0M504.4 399.6h0M499.1 404.7h0M503.8 396.6h0M498.4 361.2h0M502.3 381.6h0M504.6 393.2h0M503.4 381.3h0M501.5 381.2h0M501.7 369.7h0M492.1 360.5h0M503.6 405.5h0M498.2 372.4h0M502.2 351.6h0M498.7 372.0h0M498.7 411.4h0M503.7 351.2h0M503.8 410.8h0M501.6 361.7h0M500.1 352.1h0M504.5 411.1h0M499.2 366.0h0M493.1 409.9h0M504.4 365.9h0M499.6 371.8h0M503.5 410.4h0M496.8 365.9h0M495.3 400.4h0M496.0 401.5h0M503.9 374.5h0M491.4 357.4h0M500.3 399.7h0M504.1 359.7h0M496.4 372.7h0M496.2 362.4h0M502.5 405.3h0M503.2 367.2h0M501.4 383.8h0M498.6 391.4h0M495.4 366.2h0M503.6 385.0h0M490.6 394.2h0M500.8 410.5h0M489.9 376.5h0M497.8 371.1h0M503.0 371.5h0M502.5 384.4h0M501.9 369.4h0M498.4 375.1h0M501.7 389.3h0M493.1 395.3h0M502.6 394.5h0M499.4 390.4h0M499.7 358.7h0M504.6 391.5h0M496.6 363.3h0M501.7 402.2h0M498.4 405.2h0M502.1 367.0h0M504.5 408.7h0M499.8 388.9h0M487.3 395.1h0M500.5 394.7h0M504.1 391.0h0M491.5 358.4h0M491.6 386.2h0M499.2 410.0h0M498.5 400.7h0M504.8 377.7h0M498.9 410.4h0M502.4 405.4h0M504.6 377.3h0" stroke="#888" stroke-width="0.60" stroke-linecap="square" fill="none"/>
<path d="M503.6 357.7h0M504.3 361.4h0M504.2 381.1h0M504.4 357.4h0M503.7 394.2h0M503.9 389.2h0M504.1 378.9h0M503.6 364.3h0M504.3 409.0h0M504.0 376.4h0M504.2 369.7h0M504.3 410.7h0M503.7 397.7h0M504.0 386.1h0M504.1 375.5h0M503.6 400.9h0M503.9 395.0h0M504.2 405.1h0M504.3 410.2h0M504.0 388.2h0M503.8 401.9h0M503.8 406.7h0M504.2 367.4h0M504.1 390.8h0M504.3 403.1h0M504.4 400.4h0M504.4 397.1h0M503.5 381.5h0M504.2 404.0h0M503.3 383.2h0M504.4 372.3h0M504.0 380.7h0M503.8 401.8h0M504.3 360.4h0M504.0 356.7h0M504.0 359.5h0M503.2 363.4h0M503.9 368.9h0M504.1 363.6h0M504.1 357.0h0M504.2 371.0h0M504.3 389.5h0M504.1 397.3h0M503.9 382.3h0M504.4 407.4h0M504.2 358.4h0M503.6 404.8h0M503.4 358.7h0M503.9 389.3h0M503.9 367.4h0M503.5 395.8h0M504.0 397.5h0M503.9 401.2h0M504.0 372.4h0M503.5 364.8h0M503.9 398.2h0M504.4 394.1h0M504.2 381.2h0M503.2 380.0h0M504.4 383.8h0M503.8 409.0h0M503.8 363.0h0M504.2 389.1h0M504.0 403.6h0M504.0 361.7h0M504.0 397.2h0M504.2 401.4h0M504.0 369.8h0M503.3 375.1h0M503.3 379.7h0M504.2 410.9h0M504.3 406.4h0M503.8 407.5h0M503.5 376.3h0M504.1 405.1h0M503.3 383.5h0M504.3 389.2h0M503.8 392.6h0M504.1 396.9h0M504.4 374.6h0M504.1 376.7h0M504.4 362.9h0M503.8 404.3h0M503.9 381.1h0M504.2 409.3h0M504.1 370.7h0M504.1 390.9h0M503.2 411.3h0M503.5 394.8h0M502.9 405.7h0M504.0 407.8h0M503.8 385.7h0M503.4 366.1h0M504.1 390.9h0M503.6 392.2h0M504.2 373.8h0M504.4 366.2h0M504.1 375.3h0M503.8 399.3h0M503.7 373.7h0M503.5 400.1h0M503.8 376.1h0M503.8 400.6h0M503.4 389.8h0M504.3 408.2h0M503.8 368.6h0M503.3 398.8h0M503.9 380.9h0M504.4 367.4h0M503.8 365.2h0M503.5 369.7h0M503.7 393.7h0M504.3 403.2h0M504.0 372.9h0M504.4 374.8h0M504.0 362.8h0M504.2 385.4h0M503.7 362.1h0M503.6 373.4h0M504.2 406.3h0M503.7 384.8h0M504.0 373.2h0M504.1 397.8h0M504.3 356.0h0M504.3 397.0h0M504.2 400.8h0M504.3 383.0h0M503.1 367.8h0M503.5 368.4h0M503.7 406.0h0M504.2 395.7h0M503.7 410.0h0M504.3 366.6h0M504.2 379.3h0M503.7 399.4h0M504.2 388.5h0M504.0 382.8h0M504.1 363.4h0M503.6 408.3h0M504.2 367.8h0M504.3 396.0h0M503.7 389.5h0M503.8 399.4h0M503.6 398.8h0M503.6 381.6h0M503.1 385.9h0M504.0 360.3h0M503.5 397.7h0M503.6 371.6h0M503.6 362.6h0M503.2 358.4h0M503.4 372.2h0M503.8 363.3h0M503.8 365.4h0M504.3 378.4h0M503.8 375.2h0M504.0 370.9h0M504.4 366.0h0M504.1 389.9h0M504.1 385.9h0M504.3 377.7h0M503.7 366.8h0M503.9 399.5h0M504.2 361.6h0M504.4 377.2h0M504.2 367.5h0M504.4 396.3h0M504.0 385.7h0M504.3 406.5h0M504.2 393.0h0M504.4 391.8h0M504.4 360.4h0M504.0 356.6h0M503.3 391.6h0M504.1 399.5h0M504.1 403.8h0M503.8 410.9h0M503.3 404.6h0M503.7 386.7h0M503.8 394.1h0M504.2 375.6h0M504.2 410.3h0M503.7 410.1h0M503.8 395.3h0M504.4 368.9h0M503.8 387.2h0M503.7 394.0h0M504.3 401.1h0M503.5 391.8h0M503.9 400.3h0M504.4 399.1h0M504.2 392.3h0M504.0 362.4h0M503.4 396.9h0M503.9 382.0h0M504.0 400.3h0M504.2 362.0h0M503.9 383.2h0M503.8 373.6h0M503.6 382.8h0M504.2 410.5h0M504.3 398.7h0M504.3 404.9h0M503.8 402.5h0M504.3 359.4h0M503.4 396.0h0M504.2 397.3h0M503.9 398.0h0M504.3 370.0h0M503.8 376.7h0M504.2 391.9h0M503.7 371.1h0M503.4 384.1h0M504.0 378.9h0M504.3 360.2h0M503.9 360.0h0M503.8 367.4h0M504.2 381.2h0M504.3 406.8h0M504.1 398.3h0" stroke="#333" stroke-width="0.64" stroke-linecap="square" fill="none"/>
<path d="M490.0 360.7h0M493.0 353.2h0M498.8 349.9h0M492.2 361.8h0M499.7 356.1h0M495.3 360.7h0M494.6 354.1h0M497.1 358.8h0M495.5 363.5h0M496.5 355.7h0M495.8 367.7h0M491.4 356.6h0M491.0 359.7h0M488.6 360.2h0M498.8 354.1h0M490.7 350.5h0M495.2 352.4h0M491.8 355.9h0M491.5 362.1h0M490.9 359.2h0M489.7 355.3h0M496.0 364.9h0M500.8 356.5h0M495.6 356.1h0M494.1 352.1h0M486.1 356.1h0M499.9 361.8h0M485.6 357.0h0M491.8 359.4h0M489.5 362.5h0M493.9 360.9h0M493.9 365.5h0M495.1 363.2h0M497.1 355.5h0M496.4 363.2h0M501.4 365.2h0M489.4 362.1h0M488.1 357.3h0M493.9 361.1h0M496.6 364.2h0M491.9 362.2h0M496.9 358.0h0M489.0 360.8h0M496.6 361.9h0M494.8 356.7h0M496.9 360.3h0M498.4 367.4h0M491.9 368.0h0M480.2 362.8h0M490.9 368.0h0M490.6 363.3h0M490.0 352.3h0M499.0 362.3h0M491.5 370.0h0M493.4 365.8h0M489.9 353.2h0M495.4 352.9h0M495.9 355.2h0M490.2 359.0h0M493.9 355.7h0M499.0 359.5h0M496.9 364.6h0M494.6 362.2h0M492.9 361.0h0M497.6 355.3h0M487.4 351.6h0M490.3 360.8h0M494.3 356.5h0M497.4 361.6h0M501.9 355.0h0M497.7 361.5h0M490.3 358.6h0M490.4 356.9h0M497.1 349.5h0M490.6 354.0h0M495.4 354.3h0M496.8 353.7h0M492.4 361.0h0M496.6 358.7h0M494.8 363.0h0M501.8 356.1h0M491.4 352.8h0M503.6 353.5h0M488.4 359.3h0M500.2 351.8h0M494.4 350.9h0M491.5 366.1h0M495.8 356.7h0M495.3 359.4h0M494.5 352.1h0M489.1 368.0h0M491.2 363.9h0M491.4 364.5h0M498.5 356.9h0M493.8 353.7h0M491.1 356.2h0M490.2 356.4h0M502.8 349.4h0M488.8 353.3h0M492.7 363.0h0M498.6 360.4h0M496.0 369.9h0M489.4 352.3h0M494.9 359.0h0M493.8 353.8h0M488.5 356.6h0M491.5 355.6h0M489.6 364.6h0M497.2 367.2h0M492.4 358.3h0M493.8 358.1h0M493.7 357.2h0M485.2 356.6h0M493.3 360.8h0M501.3 357.6h0M497.3 366.7h0M501.4 355.8h0M492.0 363.1h0M496.1 355.3h0M493.8 359.6h0M494.0 356.7h0M493.8 350.6h0M503.6 364.1h0M502.5 357.3h0M495.6 360.9h0M496.8 353.0h0M494.6 354.7h0M503.5 360.7h0M494.9 364.9h0M494.6 354.4h0M494.1 356.2h0M495.2 362.2h0M494.4 357.7h0M500.0 359.4h0M499.7 358.7h0M488.5 352.4h0M486.8 363.6h0M497.1 355.6h0M490.1 359.8h0M494.3 359.6h0M490.8 352.5h0M502.8 353.3h0M494.9 364.6h0M485.9 361.5h0M495.3 357.3h0M496.3 352.1h0M484.0 367.4h0M493.6 362.4h0M500.5 359.4h0M497.3 361.5h0M502.8 360.4h0M501.2 356.6h0M492.9 358.4h0M497.0 360.7h0M504.6 362.2h0M495.3 367.8h0M496.6 359.8h0M497.4 356.4h0M489.6 358.7h0M493.5 353.7h0M495.6 357.0h0M492.1 349.2h0M494.2 366.7h0M499.4 363.4h0M494.9 363.2h0M491.7 355.8h0M497.6 351.0h0M495.3 359.5h0M503.4 354.6h0M497.1 354.8h0M490.4 363.7h0M497.6 358.8h0M488.9 357.0h0M494.7 366.0h0M490.6 360.1h0M499.9 354.0h0M493.1 366.5h0M497.0 358.3h0M495.8 368.7h0M497.8 363.2h0M492.9 355.9h0M489.9 357.2h0M491.6 362.9h0M498.2 357.4h0M492.1 359.5h0M483.2 358.8h0M489.9 357.0h0M492.7 360.9h0" stroke="#777" stroke-width="0.60" stroke-linecap="square" fill="none"/>
<path d="M494.6 350.0h0M492.6 350.8h0M494.6 350.1h0M492.9 349.7h0M496.3 350.2h0M495.1 351.4h0M496.6 351.8h0M495.4 351.8h0M489.7 349.5h0M495.1 350.1h0M493.0 349.9h0M497.5 349.9h0M488.5 350.4h0M497.1 349.2h0M493.2 350.9h0M490.2 353.0h0M492.6 349.2h0M493.3 349.6h0M489.7 350.9h0M488.6 351.7h0M495.3 352.9h0M492.5 350.3h0M488.9 352.3h0M495.5 349.2h0M496.0 351.7h0M491.5 350.1h0M490.5 350.9h0M490.2 349.5h0M497.1 349.2h0M494.2 352.4h0M495.1 350.2h0M493.7 351.6h0M494.8 350.6h0M491.1 350.4h0M494.6 349.8h0M489.0 352.9h0M490.1 351.0h0M494.7 352.0h0M490.6 350.9h0M493.1 351.0h0M493.2 351.4h0M489.6 349.5h0M496.6 350.5h0M488.4 350.8h0M492.8 350.4h0M492.8 350.4h0M488.6 349.8h0M490.0 349.5h0M489.6 351.4h0M493.8 349.4h0M495.4 352.1h0M493.8 350.2h0M491.0 349.8h0M495.7 350.7h0M491.9 349.9h0M490.9 349.6h0M488.4 349.4h0M495.2 349.8h0M492.9 351.5h0M490.9 350.4h0M494.6 350.2h0M488.6 349.9h0M495.0 351.4h0M494.9 351.8h0M493.1 349.7h0M493.6 351.4h0M492.9 351.3h0M490.6 349.6h0M488.4 349.5h0M493.7 351.0h0M490.6 352.0h0M495.0 349.7h0M491.5 350.1h0M496.1 351.1h0M489.5 352.9h0M494.0 351.4h0M495.7 351.2h0M489.1 349.8h0M488.1 350.1h0M494.6 352.6h0M490.7 351.7h0M489.7 349.4h0M491.9 350.7h0M496.2 350.9h0M494.0 352.5h0M489.4 349.8h0M490.0 349.4h0M490.8 350.6h0M491.5 351.8h0M494.1 351.8h0M489.0 350.2h0M496.9 350.7h0M488.1 349.7h0M496.1 350.2h0M487.9 349.6h0M491.4 351.9h0M494.8 349.2h0M496.0 352.1h0M496.0 351.0h0M493.2 351.4h0M496.9 350.7h0M490.9 349.3h0M494.1 349.8h0M493.7 350.6h0" stroke="#666" stroke-width="0.60" stroke-linecap="square" fill="none"/>
<path d="M501.9 356.8h0M501.1 354.1h0M503.5 357.1h0M497.8 351.2h0M499.1 352.6h0M498.5 352.5h0M502.1 357.4h0M504.8 355.9h0M503.9 355.0h0M504.0 361.2h0M503.7 356.5h0M504.7 361.7h0M497.1 351.4h0M499.7 352.0h0M499.9 353.2h0M503.0 359.6h0M500.4 351.1h0M504.2 360.3h0M501.0 355.1h0M499.3 356.4h0M502.6 357.3h0M501.5 361.1h0M499.2 356.1h0M504.4 358.0h0M500.8 353.1h0M501.0 360.4h0M501.6 355.5h0M504.6 363.2h0M501.5 360.6h0M498.7 350.7h0M501.4 359.4h0M502.8 354.2h0M501.1 354.3h0M498.9 354.0h0M501.3 360.3h0M503.5 362.0h0M501.9 356.1h0M502.3 356.8h0M500.3 355.2h0M503.6 361.4h0M500.9 356.8h0M501.8 356.2h0M499.8 352.5h0M500.4 354.1h0M502.6 354.6h0M503.7 354.3h0M498.8 353.2h0M501.5 354.7h0M495.5 355.6h0M500.1 354.4h0M504.4 358.7h0M502.3 362.9h0M501.0 351.8h0M500.9 360.4h0M501.2 351.9h0M503.2 363.5h0M499.0 354.7h0M497.2 352.4h0M503.6 363.5h0M499.9 355.7h0M498.2 354.8h0M501.4 356.6h0M502.0 355.0h0M503.8 355.1h0M502.5 359.2h0M497.0 352.0h0M503.5 362.9h0M503.8 359.8h0M503.7 357.8h0M503.3 353.2h0M498.1 351.8h0M497.9 349.6h0M502.0 358.5h0M501.6 359.9h0M499.5 351.8h0M504.2 361.9h0M502.1 355.8h0M502.1 353.7h0M503.2 360.0h0M501.5 355.6h0M499.4 352.3h0M502.7 355.3h0M498.2 350.4h0M500.8 354.2h0M503.4 357.8h0M496.0 355.1h0M503.5 354.9h0M500.2 357.7h0M497.4 351.7h0M502.1 350.4h0M497.3 352.2h0M500.5 358.1h0M496.6 352.2h0M502.7 357.8h0M503.7 362.2h0M498.1 350.8h0M504.1 357.6h0M500.7 354.6h0M499.8 351.2h0M502.6 362.3h0M501.5 353.7h0M503.0 362.0h0M499.4 354.4h0M503.3 362.3h0M496.2 352.9h0M502.2 362.6h0M504.1 358.4h0M496.8 351.8h0M502.0 357.4h0M503.8 362.1h0M502.5 362.6h0M502.2 357.2h0M498.4 352.0h0M500.0 355.6h0M500.5 354.2h0M503.9 358.3h0M499.3 354.8h0M504.3 356.9h0M499.4 355.5h0M502.0 356.4h0M503.8 358.6h0M496.2 354.0h0M502.4 355.9h0M503.7 352.1h0M502.4 358.9h0M503.9 359.8h0M497.6 354.4h0M499.2 352.2h0M502.6 362.3h0M500.8 354.3h0M501.4 360.2h0M497.7 350.6h0M499.7 359.5h0M499.7 353.7h0M498.4 351.4h0M503.5 362.5h0M503.2 359.6h0M502.6 358.7h0M503.8 361.1h0M501.9 356.0h0M502.2 359.1h0M501.0 355.8h0M497.5 350.7h0M501.3 356.7h0M502.7 361.4h0M502.5 359.1h0M497.8 352.5h0M497.5 351.4h0M498.7 353.5h0M502.9 358.7h0M499.8 355.1h0M501.3 352.3h0M504.1 362.3h0M496.8 351.9h0M504.3 361.5h0M501.0 354.8h0M501.6 361.6h0M500.3 354.3h0M504.7 355.9h0M499.2 352.0h0M501.6 352.8h0M502.4 359.2h0M501.3 360.0h0M498.5 353.7h0M502.5 363.8h0M502.0 358.7h0M501.6 352.9h0M503.1 359.5h0M502.7 358.1h0M503.9 358.9h0M504.1 361.7h0M503.5 363.3h0M499.1 352.4h0M499.3 354.4h0M498.6 352.5h0M502.4 363.9h0M503.4 360.5h0M501.6 359.1h0M499.7 351.8h0M501.3 353.7h0M499.5 351.3h0M502.4 354.0h0M499.0 350.9h0M497.7 350.6h0M497.1 352.9h0M503.1 355.2h0M498.2 353.8h0M504.2 360.4h0M504.7 360.5h0M502.1 363.4h0M501.1 359.7h0M501.9 357.6h0M501.1 356.0h0M500.2 355.3h0M498.1 349.7h0M499.6 355.5h0M503.6 363.4h0M499.2 358.6h0M502.2 357.8h0M499.2 354.4h0M504.6 357.3h0M502.3 358.4h0M504.7 357.6h0M501.1 353.5h0M501.5 356.5h0M501.4 357.4h0M503.6 361.1h0M497.6 351.8h0M502.9 361.3h0M501.1 359.6h0M502.4 357.5h0M504.7 361.1h0M500.4 356.4h0M501.5 355.4h0M502.2 357.7h0M501.8 363.7h0M502.3 355.4h0M500.4 356.7h0M501.5 357.4h0M498.0 354.1h0M503.9 357.8h0M504.8 357.7h0M501.6 354.4h0M502.8 358.5h0M498.6 355.2h0M501.6 355.2h0M498.3 351.4h0M499.8 354.5h0M500.3 356.2h0M501.5 353.3h0M500.4 356.5h0M501.0 353.7h0M499.6 354.3h0M499.1 356.4h0M504.0 358.2h0M504.8 364.0h0M497.4 354.3h0M503.7 361.3h0M498.2 351.7h0M499.0 354.3h0M498.3 349.4h0M499.7 358.2h0M497.6 350.6h0M496.3 354.4h0M501.1 359.6h0M501.5 359.5h0M498.6 351.5h0M502.2 358.9h0M501.0 356.4h0M502.6 362.3h0M500.9 358.7h0M501.4 357.8h0M502.4 364.0h0M500.0 354.3h0M501.5 356.5h0M500.2 361.4h0M502.6 360.3h0M498.3 350.2h0M496.7 352.2h0M500.2 354.1h0M502.8 363.8h0M497.2 352.9h0M497.1 351.7h0M501.9 363.1h0M498.6 352.9h0M498.8 356.1h0M504.4 362.1h0" stroke="#222" stroke-width="0.64" stroke-linecap="square" fill="none"/>
<rect x="443.40" y="344.40" width="67.00" height="67.60" fill="none" stroke="#555" stroke-width="0.9"/>
<line x1="468.30" y1="344.40" x2="468.30" y2="412.00" stroke="#bbb" stroke-width="0.8"/>
<line x1="443.40" y1="390.30" x2="510.40" y2="390.30" stroke="#bbb" stroke-width="0.8"/>
<line x1="443.40" y1="412.00" x2="510.40" y2="412.00" stroke="#222" stroke-width="1.6"/>
<line x1="442.40" y1="412.00" x2="443.40" y2="412.00" stroke="#777" stroke-width="0.5"/>
<text x="439.70" y="413.00" font-size="3.4" font-weight="normal" fill="#777" text-anchor="end">10<tspan font-size="2.38" dy="-1.1">0</tspan></text>
<line x1="442.40" y1="395.10" x2="443.40" y2="395.10" stroke="#777" stroke-width="0.5"/>
<text x="439.70" y="396.10" font-size="3.4" font-weight="normal" fill="#777" text-anchor="end">10<tspan font-size="2.38" dy="-1.1">1</tspan></text>
<line x1="442.40" y1="378.20" x2="443.40" y2="378.20" stroke="#777" stroke-width="0.5"/>
<text x="439.70" y="379.20" font-size="3.4" font-weight="normal" fill="#777" text-anchor="end">10<tspan font-size="2.38" dy="-1.1">2</tspan></text>
<line x1="442.40" y1="361.30" x2="443.40" y2="361.30" stroke="#777" stroke-width="0.5"/>
<text x="439.70" y="362.30" font-size="3.4" font-weight="normal" fill="#777" text-anchor="end">10<tspan font-size="2.38" dy="-1.1">3</tspan></text>
<line x1="442.40" y1="344.40" x2="443.40" y2="344.40" stroke="#777" stroke-width="0.5"/>
<text x="439.70" y="345.40" font-size="3.4" font-weight="normal" fill="#777" text-anchor="end">10<tspan font-size="2.38" dy="-1.1">4</tspan></text>
<line x1="443.40" y1="412.00" x2="443.40" y2="413.00" stroke="#777" stroke-width="0.5"/>
<text x="443.40" y="421.80" font-size="3.4" font-weight="normal" fill="#777" text-anchor="middle">10<tspan font-size="2.38" dy="-1.1">0</tspan></text>
<line x1="460.15" y1="412.00" x2="460.15" y2="413.00" stroke="#777" stroke-width="0.5"/>
<text x="460.15" y="421.80" font-size="3.4" font-weight="normal" fill="#777" text-anchor="middle">10<tspan font-size="2.38" dy="-1.1">1</tspan></text>
<line x1="476.90" y1="412.00" x2="476.90" y2="413.00" stroke="#777" stroke-width="0.5"/>
<text x="476.90" y="421.80" font-size="3.4" font-weight="normal" fill="#777" text-anchor="middle">10<tspan font-size="2.38" dy="-1.1">2</tspan></text>
<line x1="493.65" y1="412.00" x2="493.65" y2="413.00" stroke="#777" stroke-width="0.5"/>
<text x="493.65" y="421.80" font-size="3.4" font-weight="normal" fill="#777" text-anchor="middle">10<tspan font-size="2.38" dy="-1.1">3</tspan></text>
<line x1="510.40" y1="412.00" x2="510.40" y2="413.00" stroke="#777" stroke-width="0.5"/>
<text x="510.40" y="421.80" font-size="3.4" font-weight="normal" fill="#777" text-anchor="middle">10<tspan font-size="2.38" dy="-1.1">4</tspan></text>
<text x="448.75" y="357.60" font-size="6.0" fill="#111" stroke="#111" stroke-width="0.3" textLength="8.60" lengthAdjust="spacingAndGlyphs">0.0</text>
<text x="473.19" y="357.60" font-size="6.0" fill="#111" stroke="#111" stroke-width="0.3" textLength="11.75" lengthAdjust="spacingAndGlyphs">69.4</text>
<text x="448.75" y="410.20" font-size="6.0" fill="#111" stroke="#111" stroke-width="0.3" textLength="8.60" lengthAdjust="spacingAndGlyphs">0.0</text>
<text x="473.25" y="410.20" font-size="6.0" fill="#111" stroke="#111" stroke-width="0.3" textLength="11.87" lengthAdjust="spacingAndGlyphs">30.6</text>
<line x1="468.30" y1="374.00" x2="468.30" y2="397.50" stroke="#666" stroke-width="0.8"/>
<text x="369.14" y="5.10" font-size="6.6" fill="#111" stroke="#111" stroke-width="0.3" textLength="75.54" lengthAdjust="spacingAndGlyphs"><tspan font-style="italic">FLT3</tspan>-ITD<tspan font-size="3.96" dy="-2.77">+</tspan><tspan dy="2.77"> AML patient</tspan></text>
<line x1="360.20" y1="15.20" x2="360.20" y2="83.10" stroke="#111" stroke-width="1.4"/>
<line x1="359.60" y1="82.40" x2="460.60" y2="82.40" stroke="#111" stroke-width="1.4"/>
<line x1="358.40" y1="82.40" x2="360.20" y2="82.40" stroke="#111" stroke-width="0.9"/>
<text x="358.20" y="84.00" font-size="4.6" fill="#111" stroke="#111" stroke-width="0.15" text-anchor="end">0</text>
<line x1="358.40" y1="65.75" x2="360.20" y2="65.75" stroke="#111" stroke-width="0.9"/>
<text x="358.20" y="67.35" font-size="4.6" fill="#111" stroke="#111" stroke-width="0.15" text-anchor="end">25</text>
<line x1="358.40" y1="49.10" x2="360.20" y2="49.10" stroke="#111" stroke-width="0.9"/>
<text x="358.20" y="50.70" font-size="4.6" fill="#111" stroke="#111" stroke-width="0.15" text-anchor="end">50</text>
<line x1="358.40" y1="32.45" x2="360.20" y2="32.45" stroke="#111" stroke-width="0.9"/>
<text x="358.20" y="34.05" font-size="4.6" fill="#111" stroke="#111" stroke-width="0.15" text-anchor="end">75</text>
<line x1="358.40" y1="15.80" x2="360.20" y2="15.80" stroke="#111" stroke-width="0.9"/>
<text x="358.20" y="17.40" font-size="4.6" fill="#111" stroke="#111" stroke-width="0.15" text-anchor="end">100</text>
<line x1="360.20" y1="82.40" x2="360.20" y2="84.20" stroke="#111" stroke-width="0.9"/>
<text x="360.20" y="89.30" font-size="4.6" fill="#111" stroke="#111" stroke-width="0.15" text-anchor="middle">0</text>
<line x1="393.60" y1="82.40" x2="393.60" y2="84.20" stroke="#111" stroke-width="0.9"/>
<text x="393.60" y="89.30" font-size="4.6" fill="#111" stroke="#111" stroke-width="0.15" text-anchor="middle">1</text>
<line x1="427.10" y1="82.40" x2="427.10" y2="84.20" stroke="#111" stroke-width="0.9"/>
<text x="427.10" y="89.30" font-size="4.6" fill="#111" stroke="#111" stroke-width="0.15" text-anchor="middle">2</text>
<line x1="460.00" y1="82.40" x2="460.00" y2="84.20" stroke="#111" stroke-width="0.9"/>
<text x="460.00" y="89.30" font-size="4.6" fill="#111" stroke="#111" stroke-width="0.15" text-anchor="middle">3</text>
<line x1="360.20" y1="15.80" x2="460.00" y2="25.79" stroke="#111" stroke-width="1.5"/>
<line x1="460.00" y1="23.79" x2="460.00" y2="27.59" stroke="#111" stroke-width="0.9"/>
<line x1="458.60" y1="23.79" x2="461.40" y2="23.79" stroke="#111" stroke-width="0.9"/>
<line x1="458.60" y1="27.59" x2="461.40" y2="27.59" stroke="#111" stroke-width="0.9"/>
<rect x="458.45" y="24.24" width="3.10" height="3.10" fill="#111"/>
<rect x="358.65" y="14.25" width="3.10" height="3.10" fill="#111"/>
<line x1="360.20" y1="15.80" x2="460.00" y2="49.10" stroke="#111" stroke-width="1.5"/>
<line x1="460.00" y1="47.77" x2="460.00" y2="50.43" stroke="#111" stroke-width="0.9"/>
<line x1="458.60" y1="47.77" x2="461.40" y2="47.77" stroke="#111" stroke-width="0.9"/>
<line x1="458.60" y1="50.43" x2="461.40" y2="50.43" stroke="#111" stroke-width="0.9"/>
<path d="M460.00,47.24 L461.70,50.34 L458.30,50.34Z" fill="#111"/>
<path d="M360.20,13.94 L361.90,17.04 L358.50,17.04Z" fill="#111"/>
<line x1="360.20" y1="15.80" x2="460.00" y2="55.76" stroke="#111" stroke-width="1.5"/>
<line x1="460.00" y1="41.11" x2="460.00" y2="65.08" stroke="#111" stroke-width="0.9"/>
<line x1="458.60" y1="41.11" x2="461.40" y2="41.11" stroke="#111" stroke-width="0.9"/>
<line x1="458.60" y1="65.08" x2="461.40" y2="65.08" stroke="#111" stroke-width="0.9"/>
<path d="M460.00,57.62 L461.70,54.52 L458.30,54.52Z" fill="#111"/>
<path d="M360.20,17.66 L361.90,14.56 L358.50,14.56Z" fill="#111"/>
<line x1="360.20" y1="15.80" x2="460.00" y2="80.40" stroke="#111" stroke-width="1.5"/>
<line x1="460.00" y1="79.74" x2="460.00" y2="81.07" stroke="#111" stroke-width="0.9"/>
<line x1="458.60" y1="79.74" x2="461.40" y2="79.74" stroke="#111" stroke-width="0.9"/>
<line x1="458.60" y1="81.07" x2="461.40" y2="81.07" stroke="#111" stroke-width="0.9"/>
<path d="M460.00,78.54 L461.55,80.40 L460.00,82.26 L458.45,80.40Z" fill="#111"/>
<path d="M360.20,13.94 L361.75,15.80 L360.20,17.66 L358.65,15.80Z" fill="#111"/>
<text transform="translate(347.20,80.00) rotate(-90)" x="-0.34" font-size="5.6" fill="#111" stroke="#111" stroke-width="0.3" textLength="61.28" lengthAdjust="spacingAndGlyphs">Relative cell viability (%)</text>
<text x="405.30" y="97.30" font-size="5.4" fill="#111" stroke="#111" stroke-width="0.3" textLength="11.19" lengthAdjust="spacingAndGlyphs">Days</text>
<line x1="470.40" y1="34.20" x2="479.60" y2="34.20" stroke="#111" stroke-width="1.3"/>
<rect x="473.50" y="32.70" width="3.00" height="3.00" fill="#111"/>
<line x1="470.40" y1="42.50" x2="479.60" y2="42.50" stroke="#111" stroke-width="1.3"/>
<path d="M475.00,40.70 L476.65,43.70 L473.35,43.70Z" fill="#111"/>
<line x1="470.40" y1="49.80" x2="479.60" y2="49.80" stroke="#111" stroke-width="1.3"/>
<path d="M475.00,51.60 L476.65,48.60 L473.35,48.60Z" fill="#111"/>
<line x1="470.40" y1="57.30" x2="479.60" y2="57.30" stroke="#111" stroke-width="1.3"/>
<path d="M475.00,55.50 L476.50,57.30 L475.00,59.10 L473.50,57.30Z" fill="#111"/>
<text x="481.27" y="36.00" font-size="5.4" fill="#111" stroke="#111" stroke-width="0.3" textLength="18.09" lengthAdjust="spacingAndGlyphs">vehicle</text>
<text x="481.24" y="44.40" font-size="5.4" fill="#111" stroke="#111" stroke-width="0.3" textLength="18.17" lengthAdjust="spacingAndGlyphs">XL-880</text>
<text x="502.70" y="44.40" font-size="5.4" fill="#111" stroke="#111" stroke-width="0.3" textLength="7.03" lengthAdjust="spacingAndGlyphs">0.1</text>
<text x="511.49" y="44.40" font-size="5.4" fill="#111" stroke="#111" stroke-width="0.3" textLength="10.52" lengthAdjust="spacingAndGlyphs">&#956;M</text>
<text x="481.24" y="51.70" font-size="5.4" fill="#111" stroke="#111" stroke-width="0.3" textLength="18.17" lengthAdjust="spacingAndGlyphs">XL-880</text>
<text x="504.18" y="51.70" font-size="5.4" fill="#111" stroke="#111" stroke-width="0.3" textLength="2.01" lengthAdjust="spacingAndGlyphs">1</text>
<text x="511.49" y="51.70" font-size="5.4" fill="#111" stroke="#111" stroke-width="0.3" textLength="10.52" lengthAdjust="spacingAndGlyphs">&#956;M</text>
<text x="481.24" y="59.20" font-size="5.4" fill="#111" stroke="#111" stroke-width="0.3" textLength="18.17" lengthAdjust="spacingAndGlyphs">XL-880</text>
<text x="503.28" y="59.20" font-size="5.4" fill="#111" stroke="#111" stroke-width="0.3" textLength="5.95" lengthAdjust="spacingAndGlyphs">10</text>
<text x="511.49" y="59.20" font-size="5.4" fill="#111" stroke="#111" stroke-width="0.3" textLength="10.52" lengthAdjust="spacingAndGlyphs">&#956;M</text>
<text x="309.66" y="159.30" font-size="7.2" fill="#111" stroke="#111" stroke-width="0.3" textLength="9.33" lengthAdjust="spacingAndGlyphs">PI</text>
<line x1="322.10" y1="188.30" x2="322.10" y2="126.90" stroke="#111" stroke-width="1.1"/>
<path d="M322.10,124.40 L320.80,127.40 L323.40,127.40Z" fill="#111"/>
<line x1="356.50" y1="207.00" x2="490.50" y2="207.00" stroke="#111" stroke-width="1.1"/>
<path d="M493.00,207.00 L490.00,205.70 L490.00,208.30Z" fill="#111"/>
<text x="408.57" y="217.40" font-size="7.2" fill="#111" stroke="#111" stroke-width="0.3" textLength="35.21" lengthAdjust="spacingAndGlyphs">Annexin V</text>
<text x="359.66" y="115.40" font-size="7.0" fill="#111" stroke="#111" stroke-width="0.3" textLength="24.46" lengthAdjust="spacingAndGlyphs">vehicle</text>
<text x="457.93" y="115.10" font-size="6.6" fill="#111" stroke="#111" stroke-width="0.3" textLength="50.32" lengthAdjust="spacingAndGlyphs">XL-880 (10 &#956;M)</text>
<text x="372.44" y="231.80" font-size="6.6" fill="#111" stroke="#111" stroke-width="0.3" textLength="72.25" lengthAdjust="spacingAndGlyphs"><tspan font-style="italic">FLT3</tspan>-WT AML patient</text>
<line x1="362.00" y1="240.30" x2="362.00" y2="308.70" stroke="#111" stroke-width="1.4"/>
<line x1="361.40" y1="308.00" x2="462.70" y2="308.00" stroke="#111" stroke-width="1.4"/>
<line x1="360.20" y1="308.00" x2="362.00" y2="308.00" stroke="#111" stroke-width="0.9"/>
<text x="360.00" y="309.60" font-size="4.6" fill="#111" stroke="#111" stroke-width="0.15" text-anchor="end">0</text>
<line x1="360.20" y1="291.23" x2="362.00" y2="291.23" stroke="#111" stroke-width="0.9"/>
<text x="360.00" y="292.83" font-size="4.6" fill="#111" stroke="#111" stroke-width="0.15" text-anchor="end">25</text>
<line x1="360.20" y1="274.45" x2="362.00" y2="274.45" stroke="#111" stroke-width="0.9"/>
<text x="360.00" y="276.05" font-size="4.6" fill="#111" stroke="#111" stroke-width="0.15" text-anchor="end">50</text>
<line x1="360.20" y1="257.68" x2="362.00" y2="257.68" stroke="#111" stroke-width="0.9"/>
<text x="360.00" y="259.28" font-size="4.6" fill="#111" stroke="#111" stroke-width="0.15" text-anchor="end">75</text>
<line x1="360.20" y1="240.90" x2="362.00" y2="240.90" stroke="#111" stroke-width="0.9"/>
<text x="360.00" y="242.50" font-size="4.6" fill="#111" stroke="#111" stroke-width="0.15" text-anchor="end">100</text>
<line x1="362.00" y1="308.00" x2="362.00" y2="309.80" stroke="#111" stroke-width="0.9"/>
<text x="362.00" y="315.00" font-size="4.6" fill="#111" stroke="#111" stroke-width="0.15" text-anchor="middle">0</text>
<line x1="395.80" y1="308.00" x2="395.80" y2="309.80" stroke="#111" stroke-width="0.9"/>
<text x="395.80" y="315.00" font-size="4.6" fill="#111" stroke="#111" stroke-width="0.15" text-anchor="middle">1</text>
<line x1="429.00" y1="308.00" x2="429.00" y2="309.80" stroke="#111" stroke-width="0.9"/>
<text x="429.00" y="315.00" font-size="4.6" fill="#111" stroke="#111" stroke-width="0.15" text-anchor="middle">2</text>
<line x1="462.10" y1="308.00" x2="462.10" y2="309.80" stroke="#111" stroke-width="0.9"/>
<text x="462.10" y="315.00" font-size="4.6" fill="#111" stroke="#111" stroke-width="0.15" text-anchor="middle">3</text>
<line x1="362.00" y1="240.90" x2="462.10" y2="244.25" stroke="#111" stroke-width="1.5"/>
<line x1="462.10" y1="242.91" x2="462.10" y2="245.60" stroke="#111" stroke-width="0.9"/>
<line x1="460.70" y1="242.91" x2="463.50" y2="242.91" stroke="#111" stroke-width="0.9"/>
<line x1="460.70" y1="245.60" x2="463.50" y2="245.60" stroke="#111" stroke-width="0.9"/>
<rect x="460.55" y="242.70" width="3.10" height="3.10" fill="#111"/>
<rect x="360.45" y="239.35" width="3.10" height="3.10" fill="#111"/>
<line x1="362.00" y1="240.90" x2="462.10" y2="263.04" stroke="#111" stroke-width="1.5"/>
<line x1="462.10" y1="262.04" x2="462.10" y2="264.05" stroke="#111" stroke-width="0.9"/>
<line x1="460.70" y1="262.04" x2="463.50" y2="262.04" stroke="#111" stroke-width="0.9"/>
<line x1="460.70" y1="264.05" x2="463.50" y2="264.05" stroke="#111" stroke-width="0.9"/>
<path d="M462.10,261.18 L463.81,264.28 L460.40,264.28Z" fill="#111"/>
<path d="M362.00,239.04 L363.70,242.14 L360.30,242.14Z" fill="#111"/>
<line x1="362.00" y1="240.90" x2="462.10" y2="285.86" stroke="#111" stroke-width="1.5"/>
<line x1="462.10" y1="275.79" x2="462.10" y2="295.92" stroke="#111" stroke-width="0.9"/>
<line x1="460.70" y1="275.79" x2="463.50" y2="275.79" stroke="#111" stroke-width="0.9"/>
<line x1="460.70" y1="295.92" x2="463.50" y2="295.92" stroke="#111" stroke-width="0.9"/>
<path d="M462.10,287.72 L463.81,284.62 L460.40,284.62Z" fill="#111"/>
<path d="M362.00,242.76 L363.70,239.66 L360.30,239.66Z" fill="#111"/>
<line x1="362.00" y1="240.90" x2="462.10" y2="305.32" stroke="#111" stroke-width="1.5"/>
<line x1="462.10" y1="304.98" x2="462.10" y2="305.65" stroke="#111" stroke-width="0.9"/>
<line x1="460.70" y1="304.98" x2="463.50" y2="304.98" stroke="#111" stroke-width="0.9"/>
<line x1="460.70" y1="305.65" x2="463.50" y2="305.65" stroke="#111" stroke-width="0.9"/>
<path d="M462.10,303.46 L463.65,305.32 L462.10,307.18 L460.55,305.32Z" fill="#111"/>
<path d="M362.00,239.04 L363.55,240.90 L362.00,242.76 L360.45,240.90Z" fill="#111"/>
<text transform="translate(349.00,306.70) rotate(-90)" x="-0.37" font-size="5.6" fill="#111" stroke="#111" stroke-width="0.3" textLength="65.93" lengthAdjust="spacingAndGlyphs">Relative cell viability (%)</text>
<text x="406.70" y="323.30" font-size="5.4" fill="#111" stroke="#111" stroke-width="0.3" textLength="11.19" lengthAdjust="spacingAndGlyphs">Days</text>
<line x1="470.40" y1="249.80" x2="479.60" y2="249.80" stroke="#111" stroke-width="1.3"/>
<rect x="473.50" y="248.30" width="3.00" height="3.00" fill="#111"/>
<line x1="470.40" y1="257.90" x2="479.60" y2="257.90" stroke="#111" stroke-width="1.3"/>
<path d="M475.00,256.10 L476.65,259.10 L473.35,259.10Z" fill="#111"/>
<line x1="470.40" y1="264.80" x2="479.60" y2="264.80" stroke="#111" stroke-width="1.3"/>
<path d="M475.00,266.60 L476.65,263.60 L473.35,263.60Z" fill="#111"/>
<line x1="470.40" y1="272.90" x2="479.60" y2="272.90" stroke="#111" stroke-width="1.3"/>
<path d="M475.00,271.10 L476.50,272.90 L475.00,274.70 L473.50,272.90Z" fill="#111"/>
<text x="481.27" y="251.60" font-size="5.4" fill="#111" stroke="#111" stroke-width="0.3" textLength="18.09" lengthAdjust="spacingAndGlyphs">vehicle</text>
<text x="481.24" y="259.80" font-size="5.4" fill="#111" stroke="#111" stroke-width="0.3" textLength="18.17" lengthAdjust="spacingAndGlyphs">XL-880</text>
<text x="502.49" y="259.80" font-size="5.4" fill="#111" stroke="#111" stroke-width="0.3" textLength="7.45" lengthAdjust="spacingAndGlyphs">0.1</text>
<text x="511.39" y="259.80" font-size="5.4" fill="#111" stroke="#111" stroke-width="0.3" textLength="10.52" lengthAdjust="spacingAndGlyphs">&#956;M</text>
<text x="481.24" y="266.70" font-size="5.4" fill="#111" stroke="#111" stroke-width="0.3" textLength="18.17" lengthAdjust="spacingAndGlyphs">XL-880</text>
<text x="503.57" y="266.70" font-size="5.4" fill="#111" stroke="#111" stroke-width="0.3" textLength="2.13" lengthAdjust="spacingAndGlyphs">1</text>
<text x="507.14" y="266.70" font-size="5.4" fill="#111" stroke="#111" stroke-width="0.3" textLength="7.42" lengthAdjust="spacingAndGlyphs">&#956;M</text>
<text x="481.24" y="274.80" font-size="5.4" fill="#111" stroke="#111" stroke-width="0.3" textLength="18.17" lengthAdjust="spacingAndGlyphs">XL-880</text>
<text x="503.26" y="274.80" font-size="5.4" fill="#111" stroke="#111" stroke-width="0.3" textLength="6.39" lengthAdjust="spacingAndGlyphs">10</text>
<text x="510.96" y="274.80" font-size="5.4" fill="#111" stroke="#111" stroke-width="0.3" textLength="7.09" lengthAdjust="spacingAndGlyphs">&#956;M</text>
<text x="310.32" y="380.60" font-size="7.0" fill="#111" stroke="#111" stroke-width="0.3" textLength="7.00" lengthAdjust="spacingAndGlyphs">PI</text>
<line x1="322.70" y1="411.50" x2="322.70" y2="349.50" stroke="#111" stroke-width="1.1"/>
<path d="M322.70,347.00 L321.40,350.00 L324.00,350.00Z" fill="#111"/>
<line x1="355.00" y1="426.40" x2="492.10" y2="426.40" stroke="#111" stroke-width="1.1"/>
<path d="M494.60,426.40 L491.60,425.10 L491.60,427.70Z" fill="#111"/>
<text x="407.72" y="437.80" font-size="7.2" fill="#111" stroke="#111" stroke-width="0.3" textLength="36.12" lengthAdjust="spacingAndGlyphs">Annexin V</text>
<text x="357.96" y="337.20" font-size="7.0" fill="#111" stroke="#111" stroke-width="0.3" textLength="24.87" lengthAdjust="spacingAndGlyphs">vehicle</text>
<text x="453.83" y="337.40" font-size="6.6" fill="#111" stroke="#111" stroke-width="0.3" textLength="50.72" lengthAdjust="spacingAndGlyphs">XL-880 (10 &#956;M)</text>
</svg>
</body></html>
